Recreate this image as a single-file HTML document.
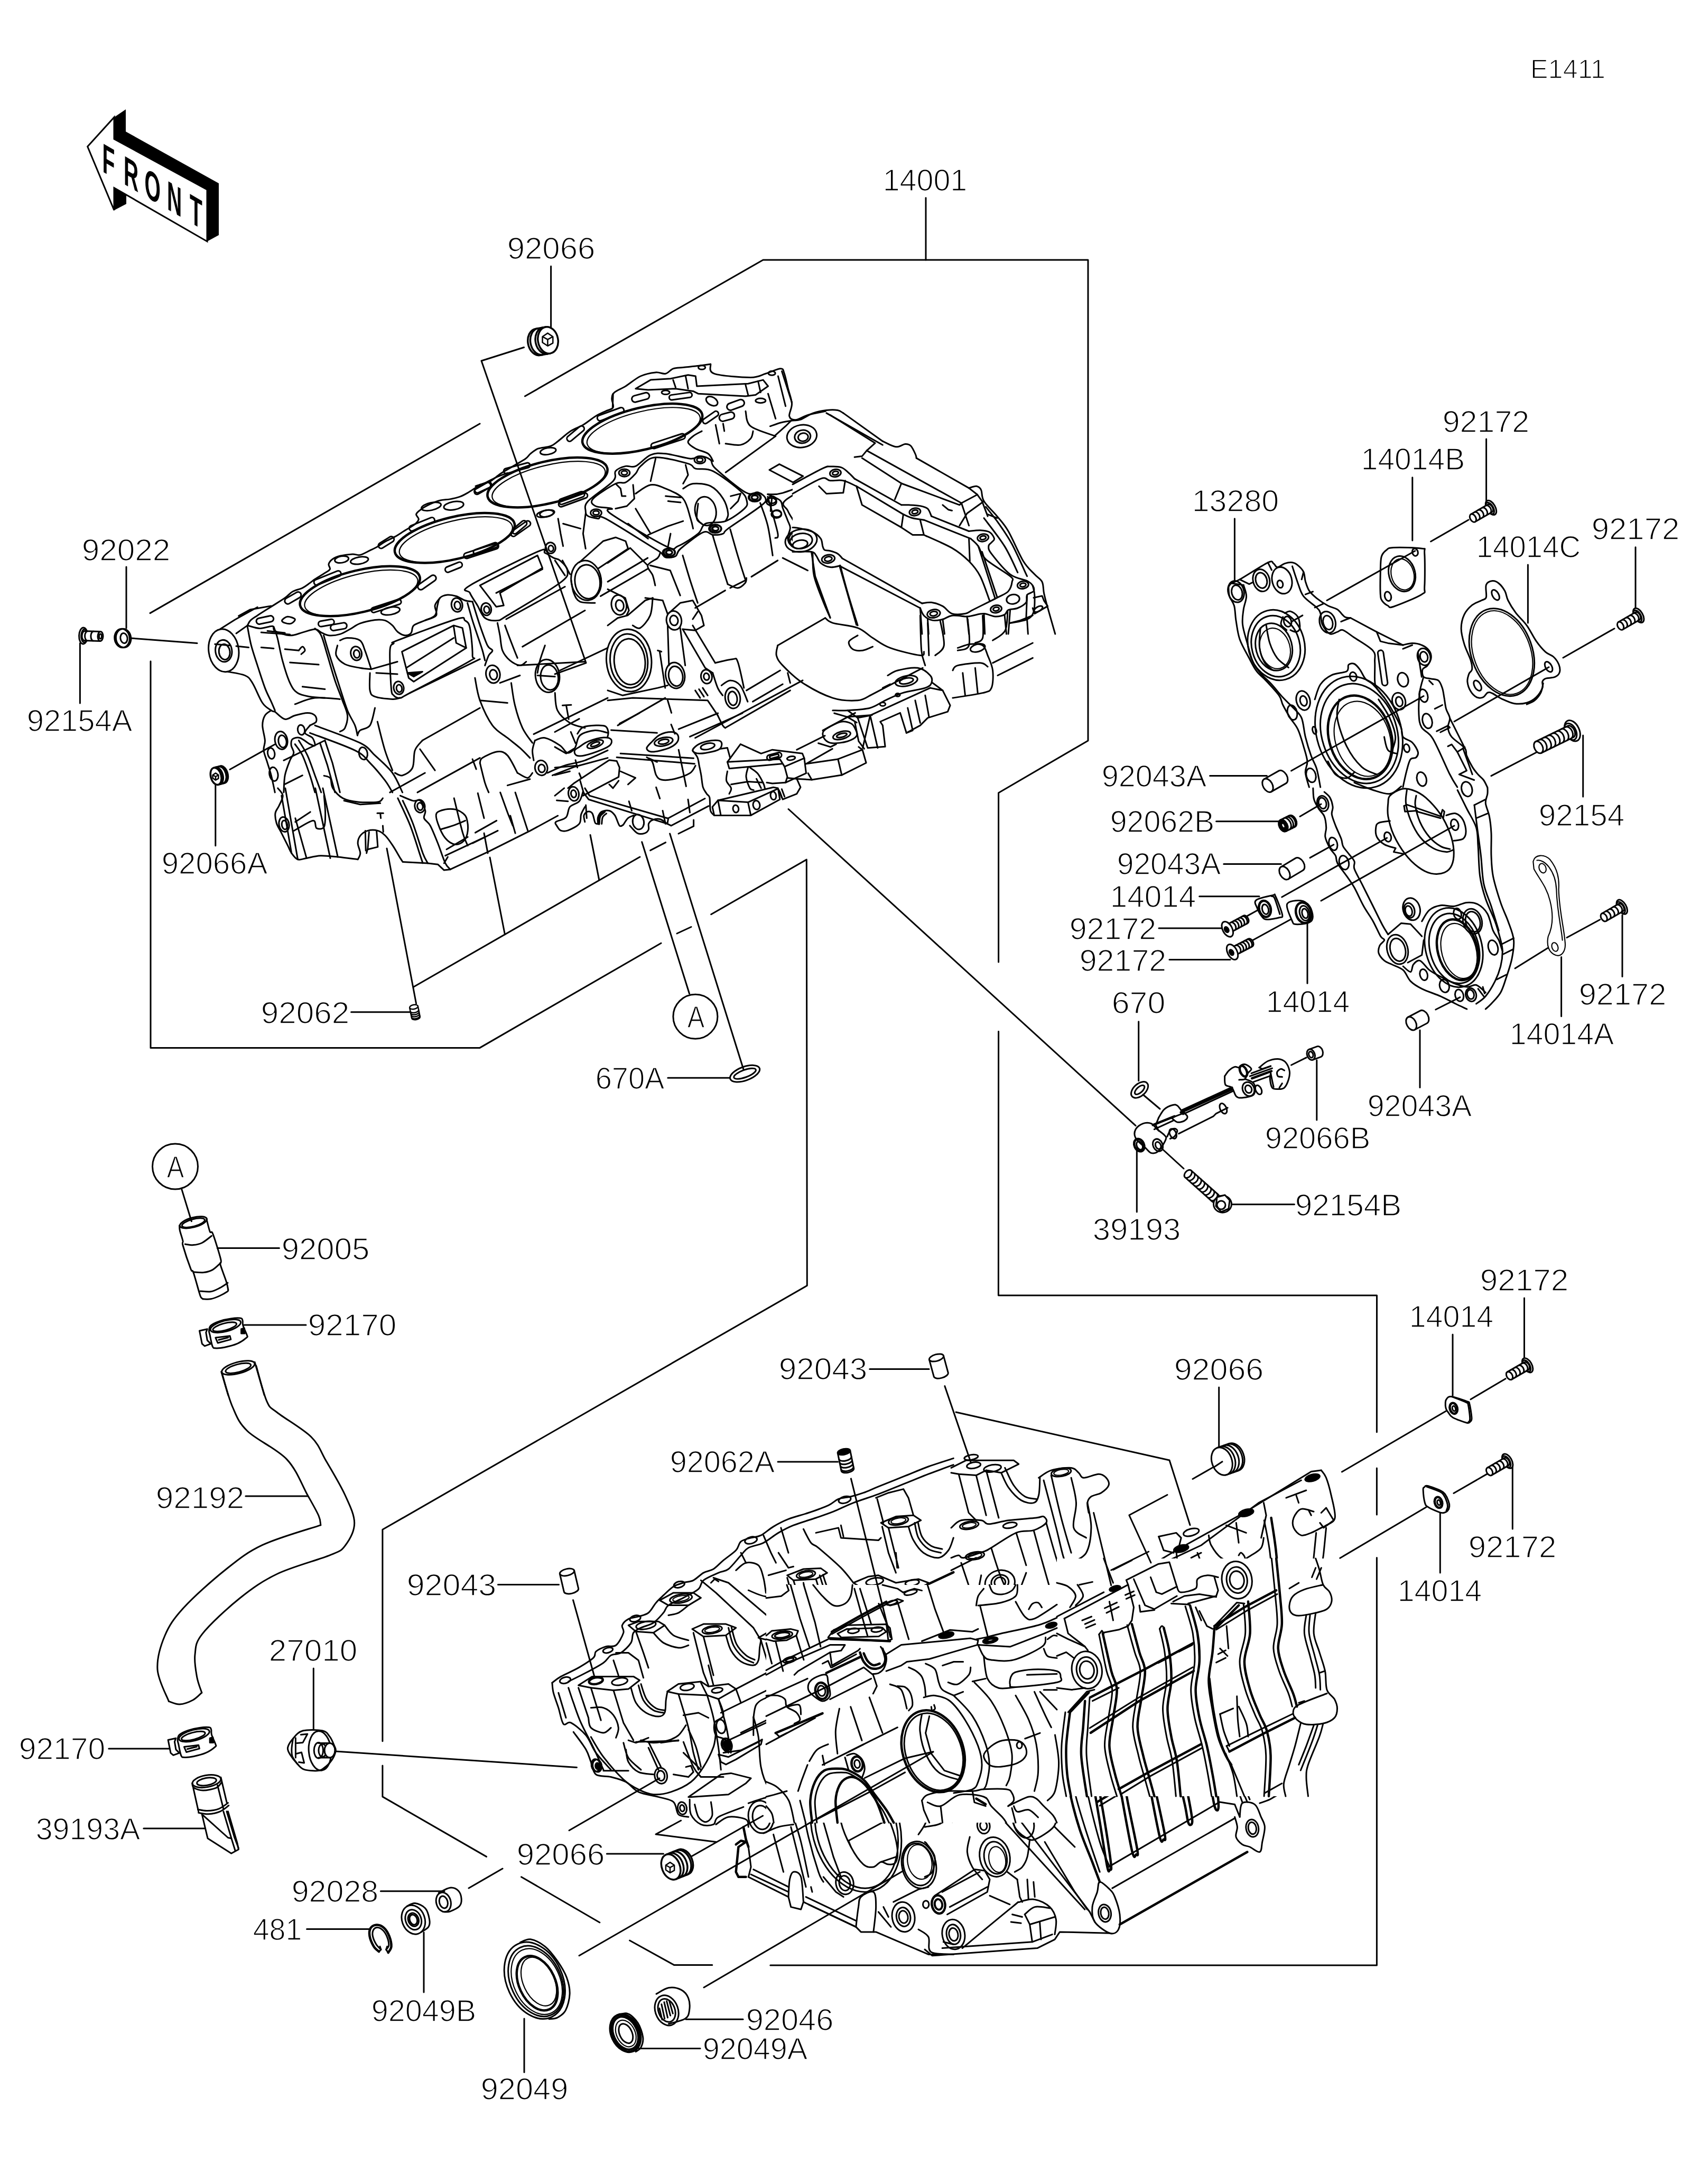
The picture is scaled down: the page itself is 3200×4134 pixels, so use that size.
<!DOCTYPE html>
<html><head><meta charset="utf-8"><title>E1411 Crankcase</title>
<style>html,body{margin:0;padding:0;background:#fff}svg{display:block}text{font-family:"Liberation Sans",sans-serif;fill:#000}.t text{stroke:#fff;stroke-width:1.6px}.l{fill:none;stroke:#000;stroke-width:3;stroke-linecap:round;stroke-linejoin:round}.w{fill:#fff}.k{fill:#000}.n{stroke-width:2.2}</style></head>
<body>
<svg width="3200" height="4134" viewBox="0 0 3200 4134">
<rect width="3200" height="4134" fill="#fff"/>
<g class="l">
<polyline points="1752,374.6 1752,492"/>
<polyline points="993.4,750 1444,492 2059,492 2059,1402 1889.6,1500.8 1889.6,1821"/>
<polyline points="908,802 284,1160.6"/>
<polyline points="1889.6,1952.5 1889.4,2452 2605.5,2452 2605.4,2710.8"/>
<polyline points="2605.4,2779 2605.4,2867"/>
<polyline points="2605.4,2948.5 2605.4,3720 1457.8,3720"/>
<polyline points="1347.8,3719.4 1275.4,3719.4 1191.6,3673"/>
<polyline points="1134.8,3639 986.5,3552.7"/>
<polyline points="920.5,3514.4 723.9,3400.9 723.9,3342"/>
<polyline points="723.9,3295.8 723.9,2895.3 1527.3,2433.4 1526.3,1627 1345.7,1730.8"/>
<polyline points="1281,1767 1308,1754.5"/>
<polyline points="1251,1785.2 908,1983.4 285,1983.4 285,1251.7"/>
<polyline points="1042.6,504 1042.6,619.7"/>
<polyline points="991.5,657.5 911,683 1109,1254.8 1050,1276"/>
<polyline points="239,1073 239,1189"/>
<polyline points="248,1208 373,1217.6"/>
<polyline points="151.4,1217.6 151.4,1331"/>
<polyline points="435,1456.5 520,1409"/>
<polyline points="407.8,1485 407.8,1600.8"/>
<polyline points="664.6,1915.8 780.5,1915.8"/>
<polyline points="787.6,1899.7 732,1606"/>
<polyline points="782.8,1868 1210.9,1622"/>
<polyline points="1230.7,1609.7 1259.6,1594.6"/>
<polyline points="1284,1578 1312.6,1563.9 1312.6,1552"/>
<polyline points="927,1623 955.4,1768.7"/>
<polyline points="1117,1580.4 1133.8,1665.6"/>
<polyline points="1214.7,1593.7 1304.5,1880.8"/>
<polyline points="1267.6,1578 1407.2,2025"/>
<polyline points="1263.9,2040.2 1379.8,2040.2"/>
<polyline points="1492,1531.5 2149,2130.7"/>
<polyline points="2812.6,831 2812.6,950"/>
<polyline points="2779,984 2707.6,1025"/>
<polyline points="2672.8,903.7 2672.8,1023"/>
<polyline points="2336.4,981.8 2336.4,1101"/>
<polyline points="2891.4,1069 2891.4,1179"/>
<polyline points="3095,1035.7 3095,1152"/>
<polyline points="3055,1189.7 2958,1245"/>
<polyline points="2931,1262.8 2752,1365.7"/>
<polyline points="2677.8,1042.8 2511,1136.5"/>
<polyline points="2464.9,1164.9 2443.6,1177"/>
<polyline points="2443.6,1459 2694,1317.5"/>
<polyline points="2289.6,1468.6 2397.4,1468.6"/>
<polyline points="2995.7,1392 2995.7,1507.9"/>
<polyline points="2910.6,1422.5 2821.9,1468.6"/>
<polyline points="2301.6,1554.7 2420,1554.7"/>
<polyline points="2460,1545.5 2500,1522"/>
<polyline points="2315.8,1635.6 2424.4,1635.6"/>
<polyline points="2479,1623.6 2523.8,1598.7"/>
<polyline points="2269.7,1696.7 2383,1696.7"/>
<polyline points="2193,1757 2312,1757"/>
<polyline points="2213,1816.6 2328,1816.6"/>
<polyline points="2370.5,1779.7 2445.7,1738.5"/>
<polyline points="2360.5,1733.6 2379.7,1723"/>
<polyline points="2474,1747.8 2474,1861.3"/>
<polyline points="2425.8,1698 2624.6,1586"/>
<polyline points="2500,1705 2752,1563"/>
<polyline points="2154.7,1933.7 2154.7,2045.8"/>
<polyline points="2954.6,1811.6 2954.6,1923.8"/>
<polyline points="3070,1732 3070,1848.5"/>
<polyline points="3027.7,1740.7 2965,1774.7"/>
<polyline points="2929.7,1794 2867,1833"/>
<polyline points="2687,1950 2687,2058.6"/>
<polyline points="2716.8,1911 2763,1887.6"/>
<polyline points="2491.8,2006.8 2491.8,2120"/>
<polyline points="2472,2001.8 2443.6,2016"/>
<polyline points="2151.3,2173 2151.3,2294"/>
<polyline points="2328.7,2279.7 2449.4,2279.7"/>
<polyline points="2197.4,2173 2240,2212"/>
<polyline points="2884.5,2457 2884.5,2572.8"/>
<polyline points="2749,2526 2749,2641.7"/>
<polyline points="2849,2609.7 2783,2648.8"/>
<polyline points="2738,2670 2539.4,2786"/>
<polyline points="2306.7,2626 2306.7,2741"/>
<polyline points="2294.5,2778 2257,2799.5"/>
<polyline points="2725.3,2860.5 2725.3,2977"/>
<polyline points="2862.3,2773 2862.3,2894"/>
<polyline points="2814.8,2789.6 2750.9,2826.5"/>
<polyline points="2699,2852.7 2535.8,2949.3"/>
<polyline points="2163,2072 2195,2099"/>
<polyline points="2209,2829.5 2136.8,2868 2178,2958"/>
<polyline points="2069.6,2863.5 2102.7,3000.7"/>
<polyline points="2102.7,2972 2173.7,2937"/>
<polyline points="343.7,2250.6 362.4,2311.8"/>
<polyline points="411.3,2362.4 528.4,2362.4"/>
<polyline points="462,2508 579,2508"/>
<polyline points="464.9,2832 582,2832"/>
<polyline points="593.3,3158 593.3,3274.5"/>
<polyline points="942.5,2999.6 1057.5,2999.6"/>
<polyline points="1084.5,3028.7 1125,3174"/>
<polyline points="205.8,3310 319.4,3310"/>
<polyline points="271.8,3461 386.8,3461"/>
<polyline points="635,3315 1091.5,3345.5"/>
<polyline points="1148.3,3509 1255.5,3509"/>
<polyline points="1077,3464.7 1248,3366"/>
<polyline points="720.4,3579.7 841,3579.7"/>
<polyline points="887,3574 951,3537"/>
<polyline points="580.6,3651.4 699,3651.4"/>
<polyline points="802,3657.8 802,3771"/>
<polyline points="992,3821 992,3922.5"/>
<polyline points="1096,3701.7 1766,3316"/>
<polyline points="1306.6,3515 1443.6,3437"/>
<polyline points="1332,3762 1709.6,3541"/>
<polyline points="1288.6,3446 1241,3472 1354.8,3486.5"/>
<polyline points="1298,3822.3 1406,3822.3"/>
<polyline points="1209.4,3877.6 1325,3877.6"/>
<polyline points="1645.8,2591.6 1758,2591.6"/>
<polyline points="1787.8,2623.6 1837.5,2769"/>
<polyline points="1809,2673 2213,2764 2252,2886.8"/>
<polyline points="1472,2767 1585.5,2767"/>
<polyline points="1610.4,2798.9 1684.9,3099"/>
</g>
<!-- 00_front.svg -->
<g id="front-arrow">
<polygon class="k" points="216,222 238,207 238,249 414,347 414,445 392,457 392,359 216,263"/>
<polygon class="k" points="216,355.5 239,369 239,386 216,398"/>
<polygon points="165.6,277.4 216,222 216,263 392,359 392,457 216,355.5 216,398" fill="#fff" stroke="#000" stroke-width="3" stroke-linejoin="miter"/>
<text transform="matrix(0.5,0.29,0,1,196,326)" x="-5 76 155 240 326" y="0" font-size="78" font-weight="bold" style="stroke:none">FRONT</text>
</g>

<!-- 10_upA.svg -->
<g class="l" id="10_upA">
<path d="M468.3,1183.9 C469.2,1182.3 470.8,1177.5 474,1174.4 C477.1,1171.2 480.7,1169.3 487.2,1164.9 C493.7,1160.6 504.5,1153.9 513.2,1148.4 C521.9,1142.9 532.5,1136.5 539.2,1131.8 C545.9,1127.1 547.9,1123.1 553.4,1120 C558.9,1116.8 566.8,1115.7 572.4,1112.9 C577.9,1110.1 582.6,1106.2 586.5,1103.4 C590.5,1100.7 591.3,1099.5 596,1096.3 C600.7,1093.2 610.2,1087.7 614.9,1084.5 C619.7,1081.4 623.2,1080.2 624.4,1077.4 C625.6,1074.7 621.2,1071.1 622,1067.9 C622.8,1064.8 625.6,1061.1 629.1,1058.5 C632.7,1055.9 637,1053.9 643.3,1052.3 C649.6,1050.8 660.7,1049.3 667,1049 C673.3,1048.7 675.6,1051.6 681.2,1050.4 C686.7,1049.3 694.6,1044.5 700.1,1041.9 C705.6,1039.3 709.6,1037.6 714.3,1034.8 C719,1032.1 723,1028.5 728.5,1025.4 C734,1022.2 741.1,1019.5 747.4,1015.9 C753.7,1012.4 760,1008 766.3,1004.1 C772.6,1000.1 780.9,995.8 785.2,992.3 C789.6,988.7 791.9,985.9 792.3,982.8 C792.7,979.6 786.8,976.5 787.6,973.3 C788.4,970.2 792.7,967 797.1,963.9 C801.4,960.7 807.7,957.2 813.6,954.4 C819.5,951.6 826.2,948.9 832.6,947.3 C838.9,945.7 845.2,946.1 851.5,944.9 C857.8,943.8 864.9,942.2 870.4,940.2 C875.9,938.2 879.1,936.3 884.6,933.1 C890.1,930 897.2,924.8 903.5,921.3 C909.8,917.7 916.1,915 922.4,911.8 C928.8,908.7 935.1,905.1 941.4,902.4 C947.7,899.6 957.1,896.5 960.3,895.3"/>
<path d="M468.3,1183.9 C472.2,1184.8 484,1189.3 491.9,1189.5 C499.8,1189.8 510.9,1184.5 515.6,1185.3 C520.3,1186.1 514.8,1191.3 520.3,1194.3 C525.8,1197.2 540,1202.3 548.7,1202.8 C557.4,1203.3 564.5,1199.1 572.4,1197.1 C580.2,1195.1 590.1,1191 596,1191 C601.9,1191 603.5,1195.1 607.8,1197.1 C612.2,1199.1 616.1,1202.2 622,1202.8 C627.9,1203.3 636.6,1202.4 643.3,1200.4 C650,1198.4 655.9,1194.3 662.2,1191 C668.5,1187.6 673.3,1183 681.2,1180.1 C689,1177.2 701.7,1174.4 709.6,1173.4 C717.4,1172.5 723,1172.7 728.5,1174.4 C734,1176.1 738.7,1180.3 742.7,1183.9 C746.6,1187.4 748.2,1192.5 752.1,1195.7 C756.1,1198.8 762,1202.4 766.3,1202.8 C770.7,1203.2 775.4,1201.2 778.1,1198 C780.9,1194.9 778.5,1187.8 782.9,1183.9 C787.2,1179.9 797.5,1177.5 804.2,1174.4 C810.9,1171.2 819.2,1169.7 823.1,1164.9 C827,1160.2 826.2,1151.5 827.8,1146 C829.4,1140.5 829.4,1135.1 832.6,1131.8 C835.7,1128.5 841.6,1126.7 846.7,1126.1 C851.9,1125.6 857.8,1126.8 863.3,1128.5 C868.8,1130.2 874.7,1134.8 879.9,1136.5 C885,1138.3 891.7,1138.5 894.1,1138.9"/>
<ellipse cx="681.2" cy="1119" rx="116.4" ry="39.7" transform="rotate(-13.5 681.2 1119)" stroke-width="4.5"/>
<ellipse cx="683.5" cy="1122.4" rx="109.8" ry="36" transform="rotate(-13.5 683.5 1122.4)" class="n"/>
<ellipse cx="860.5" cy="1018.3" rx="116.4" ry="39.7" transform="rotate(-13.5 860.5 1018.3)" stroke-width="4.5"/>
<ellipse cx="862.8" cy="1021.6" rx="109.8" ry="36" transform="rotate(-13.5 862.8 1021.6)" class="n"/>
<ellipse cx="1036" cy="913.2" rx="116.4" ry="39.7" transform="rotate(-13.5 1036 913.2)" stroke-width="4.5"/>
<ellipse cx="1038.4" cy="916.6" rx="109.8" ry="36" transform="rotate(-13.5 1038.4 916.6)" class="n"/>
<rect x="484.8" y="1167.8" width="33.1" height="11.4" rx="5.7" transform="rotate(-12 501.4 1173.4)"/>
<path d="M533.6,1174.4 C534.3,1172.4 539.9,1167.7 544,1167.3 C548.1,1166.9 557,1169.9 558.2,1172 C559.3,1174.2 554.2,1178.9 551.1,1180.1 C547.9,1181.3 542.2,1180.1 539.2,1179.1 C536.3,1178.2 532.8,1176.4 533.6,1174.4Z"/>
<rect x="537.3" y="1126.1" width="34.1" height="11.4" rx="5.7" transform="rotate(-30 554.4 1131.8)"/>
<rect x="602.2" y="1173.9" width="30.3" height="10.4" rx="5.2" transform="rotate(-10 617.3 1179.1)"/>
<rect x="625.3" y="1180.5" width="31.2" height="11.4" rx="5.7" transform="rotate(-10 641 1186.2)"/>
<rect x="592.5" y="1088.8" width="54.4" height="10.4" rx="5.2" transform="rotate(-22 619.7 1094)"/>
<ellipse cx="646.6" cy="1059" rx="13.2" ry="6.2" transform="rotate(-10 646.6 1059)"/>
<ellipse cx="680.2" cy="1060.9" rx="17" ry="6.6" transform="rotate(-10 680.2 1060.9)"/>
<rect x="714.3" y="1021.6" width="33.1" height="10.4" rx="5.2" transform="rotate(-32 730.8 1026.8)"/>
<rect x="772.9" y="987" width="51.1" height="10.4" rx="5.2" transform="rotate(-22 798.5 992.3)"/>
<ellipse cx="816" cy="958.7" rx="18.9" ry="7.1" transform="rotate(-12 816 958.7)"/>
<ellipse cx="858.6" cy="957.2" rx="18.9" ry="7.6" transform="rotate(-10 858.6 957.2)"/>
<rect x="895.9" y="919.4" width="34.1" height="10.4" rx="5.2" transform="rotate(-30 913 924.6)"/>
<ellipse cx="738.9" cy="1156.4" rx="18" ry="7.1" transform="rotate(-10 738.9 1156.4)"/>
<rect x="701.3" y="1142.2" width="59.1" height="9.5" rx="4.7" transform="rotate(-18 730.8 1147)"/>
<rect x="788.1" y="1096.8" width="39.7" height="11.4" rx="5.7" transform="rotate(-35 808 1102.5)"/>
<rect x="841.5" y="1068.4" width="34.1" height="10.4" rx="5.2" transform="rotate(-22 858.6 1073.6)"/>
<rect x="876.3" y="1037.7" width="68.6" height="10.4" rx="5.2" transform="rotate(-18 910.6 1042.9)"/>
<rect x="966.4" y="992.7" width="33.1" height="10.4" rx="5.2" transform="rotate(-40 983 997.9)"/>
<ellipse cx="1034.6" cy="971.9" rx="13.2" ry="6.2" transform="rotate(-10 1034.6 971.9)"/>
<rect x="1056.3" y="937.4" width="51.1" height="10.4" rx="5.2" transform="rotate(-20 1081.9 942.6)"/>
<ellipse cx="423.3" cy="1231.2" rx="28.4" ry="40.7" transform="rotate(-8 423.3 1231.2)"/>
<ellipse cx="423.3" cy="1232.1" rx="15.6" ry="20.8" transform="rotate(-8 423.3 1232.1)"/>
<ellipse cx="424.7" cy="1234" rx="10.4" ry="14.7" transform="rotate(-8 424.7 1234)"/>
<polyline points="416.2,1191 444.6,1173 487.2,1149.3"/>
<polyline points="451.7,1165.9 473,1154.1 513.2,1147"/>
<polyline points="447,1199 468.3,1183.9"/>
<path d="M430.4,1271.4 C435.9,1272.6 455.7,1274.9 463.5,1278.5 C471.4,1282 472.2,1284 477.7,1292.7 C483.3,1301.3 490.7,1321.8 496.7,1330.5 C502.6,1339.2 509.3,1341.9 513.2,1344.7 C517.2,1347.5 519.1,1346.7 520.3,1347.1"/>
<polyline points="406.8,1219.3 435.2,1221.7"/>
<polyline points="447,1223.1 470.6,1225.5"/>
<path d="M468.3,1186.2 C469.5,1192.1 472.2,1209.5 475.4,1221.7 C478.5,1233.9 482.9,1246.1 487.2,1259.6 C491.5,1273 497.1,1290.7 501.4,1302.1 C505.7,1313.6 510.1,1321.1 513.2,1328.1 C516.4,1335.2 519.1,1341.9 520.3,1344.7"/>
<path d="M517.9,1186.2 C519.1,1189.8 522.3,1196.9 525,1207.5 C527.8,1218.2 530.6,1235.9 534.5,1250.1 C538.4,1264.3 544,1282.4 548.7,1292.7 C553.4,1302.9 556.6,1307.3 562.9,1311.6 C569.2,1315.9 577.9,1317.1 586.5,1318.7 C595.2,1320.3 610.2,1320.7 614.9,1321.1"/>
<path d="M596,1189.5 C598,1191.7 603.9,1194.3 607.8,1202.8 C611.8,1211.3 615.3,1226.4 619.7,1240.6 C624,1254.8 629.1,1273.7 633.9,1287.9 C638.6,1302.1 644.1,1314.7 648,1325.8 C652,1336.8 656.7,1345.5 657.5,1354.2 C658.3,1362.8 655.1,1372.7 652.8,1377.8 C650.4,1382.9 644.9,1383.7 643.3,1384.9"/>
<path d="M612.6,1202.8 C614.9,1210.7 621.6,1233.5 626.8,1250.1 C631.9,1266.6 638.2,1286.4 643.3,1302.1 C648.4,1317.9 652.8,1332.9 657.5,1344.7 C662.2,1356.5 668.5,1365.2 671.7,1373.1 C674.9,1381 675.6,1388.9 676.4,1392"/>
<polyline points="494.3,1197.1 548.7,1200.9"/>
<polyline points="506.1,1194.3 539.2,1198"/>
<polyline points="494.3,1225.5 517.9,1227.4"/>
<polyline points="539.2,1228.8 565.3,1231.2"/>
<path d="M565.3,1231.2 C566.4,1230 570.4,1224.1 572.4,1224.1 C574.3,1224.1 577.5,1228.8 577.1,1231.2 C576.7,1233.5 571.2,1237.1 570,1238.3"/>
<polyline points="548.7,1253.9 603.1,1258.1"/>
<polyline points="572.4,1299.8 614.9,1304.5"/>
<path d="M558.2,1332.9 C564.5,1330.9 581.8,1322.6 596,1321.1 C610.2,1319.5 635.4,1323 643.3,1323.4"/>
<path d="M513.2,1344.7 C511.2,1346.3 504.1,1349.4 501.4,1354.2 C498.6,1358.9 496.7,1365.2 496.7,1373.1 C496.7,1381 501,1393.6 501.4,1401.5 C501.8,1409.4 498.2,1413.3 499,1420.4 C499.8,1427.5 503.8,1436.2 506.1,1444.1 C508.5,1451.9 510.9,1458.4 513.2,1467.7 C515.6,1477 519.1,1494.5 520.3,1499.9"/>
<path d="M520.3,1347.1 C523.5,1349.4 532.9,1360.1 539.2,1361.3 C545.5,1362.4 551.1,1356.1 558.2,1354.2 C565.3,1352.2 575.5,1349.4 581.8,1349.4 C588.1,1349.4 593.2,1351.4 596,1354.2 C598.8,1356.9 600,1362.8 598.4,1366 C596.8,1369.2 588.5,1371.9 586.5,1373.1"/>
<path d="M586.5,1373.1 C585,1375.5 576.3,1383.3 577.1,1387.3 C577.9,1391.2 588.1,1392.8 591.3,1396.7 C594.4,1400.7 596.8,1409 596,1410.9 C595.2,1412.9 591.3,1410.9 586.5,1408.6 C581.8,1406.2 573.1,1398.3 567.6,1396.7 C562.1,1395.2 556.2,1396.7 553.4,1399.1 C550.7,1401.5 550.7,1406.6 551.1,1410.9 C551.5,1415.3 556.2,1420.4 555.8,1425.1 C555.4,1429.9 551.5,1432.2 548.7,1439.3 C545.9,1446.4 541.2,1457.6 539.2,1467.7 C537.3,1477.8 537.3,1494.5 536.9,1499.9"/>
<ellipse cx="532.1" cy="1401.5" rx="11.8" ry="17" transform="rotate(-10 532.1 1401.5)"/>
<ellipse cx="534.5" cy="1403.4" rx="7.6" ry="11.8" transform="rotate(-10 534.5 1403.4)"/>
<ellipse cx="570" cy="1381.6" rx="6.6" ry="9.5" transform="rotate(-10 570 1381.6)"/>
<ellipse cx="513.2" cy="1426.1" rx="6.6" ry="10.4" transform="rotate(-10 513.2 1426.1)"/>
<ellipse cx="517.9" cy="1465.3" rx="8" ry="13.2" transform="rotate(-10 517.9 1465.3)"/>
<ellipse cx="687.3" cy="1426.1" rx="8" ry="11.8" transform="rotate(-10 687.3 1426.1)"/>
<path d="M596,1373.1 C610.2,1378.6 662.2,1396.7 681.2,1406.2 C700.1,1415.7 699.3,1420.4 709.6,1429.9 C719.8,1439.3 734,1451.3 742.7,1463 C751.3,1474.7 758.4,1493.7 761.6,1499.9"/>
<path d="M586.5,1387.3 C600.7,1392.8 652.8,1410.9 671.7,1420.4 C690.6,1429.9 690.6,1434.6 700.1,1444.1 C709.6,1453.5 721.4,1467.9 728.5,1477.2 C735.6,1486.5 740.3,1496.1 742.7,1499.9"/>
<path d="M558.2,1408.6 C560.5,1412.1 567.6,1420 572.4,1429.9 C577.1,1439.7 582.6,1456 586.5,1467.7 C590.5,1479.4 594.4,1494.5 596,1499.9"/>
<path d="M565.3,1401.5 C568,1406.2 576.7,1418.8 581.8,1429.9 C586.9,1440.9 591.7,1456 596,1467.7 C600.3,1479.4 605.9,1494.5 607.8,1499.9"/>
<polyline points="536.9,1439.3 614.9,1401.5"/>
<polyline points="539.2,1484.3 572.4,1467.7"/>
<polyline points="614.9,1401.5 629.1,1444.1 643.3,1499.9"/>
<polyline points="605.5,1406.2 619.7,1448.8 633.9,1499.9"/>
<path d="M752.1,1212.2 C771.8,1204.6 842,1178.3 863.3,1172 C884.6,1165.7 875.5,1171.6 879.9,1174.4 C884.2,1177.2 887,1177.5 889.3,1188.6 C891.7,1199.6 894.5,1230 894.1,1240.6 C893.7,1251.3 906.7,1240.6 887,1252.5 C867.2,1264.3 797.5,1300.2 775.8,1311.6 C754.1,1323 762,1320.3 756.9,1321.1 C751.7,1321.8 747.8,1319.5 745,1316.3 C742.3,1313.2 741.5,1316.3 740.3,1302.1 C739.1,1287.9 737.1,1245.2 737.9,1231.2 C738.7,1217.1 742.7,1221.1 745,1217.9 C747.4,1214.8 732.4,1219.9 752.1,1212.2Z"/>
<polygon points="760.6,1233.5 858.6,1183.9 875.1,1188.6 882.2,1226.4 782.9,1290.3 773.4,1283.2"/>
<polyline points="768.7,1264.3 858.6,1207.5"/>
<polyline points="858.6,1186.2 863.3,1217 882.2,1226.4"/>
<polygon points="771.1,1273.7 799.4,1271.4 782.9,1280.8" fill="#000"/>
<ellipse cx="674.1" cy="1236.8" rx="10.4" ry="13.2" transform="rotate(-10 674.1 1236.8)"/>
<ellipse cx="675" cy="1237.8" rx="5.7" ry="7.6" transform="rotate(-10 675 1237.8)"/>
<ellipse cx="754.5" cy="1302.1" rx="9.5" ry="12.3" transform="rotate(-10 754.5 1302.1)"/>
<ellipse cx="755.4" cy="1303.1" rx="5.2" ry="7.1" transform="rotate(-10 755.4 1303.1)"/>
<path d="M643.3,1212.2 C645.7,1211.5 651.2,1207.5 657.5,1207.5 C663.8,1207.5 675.6,1208.3 681.2,1212.2 C686.7,1216.2 687.1,1222.1 690.6,1231.2 C694.2,1240.2 700.5,1260.7 702.5,1266.6"/>
<path d="M638.6,1221.7 C638.2,1224.9 633.9,1234.7 636.2,1240.6 C638.6,1246.5 645.3,1253.2 652.8,1257.2 C660.3,1261.1 672.9,1262.7 681.2,1264.3 C689.4,1265.9 698.9,1266.3 702.5,1266.6"/>
<polyline points="702.5,1266.6 752.1,1252.5"/>
<path d="M700.1,1273.7 C700.1,1279.3 698.5,1299.4 700.1,1306.9 C701.7,1314.4 702.5,1315.9 709.6,1318.7 C716.6,1321.4 734.8,1323 742.7,1323.4 C750.6,1323.8 754.5,1321.4 756.9,1321.1"/>
<polyline points="711.9,1273.7 752.1,1276.1"/>
<polyline points="775.8,1311.6 908.2,1247.7"/>
<path d="M889.3,1108.2 C910.6,1095.2 993.4,1054.5 1017.1,1044.3 C1040.7,1034 1026.1,1044.7 1031.3,1046.7 C1036.4,1048.6 1043.1,1053.8 1047.8,1056.1 C1052.5,1058.5 1055.3,1056.9 1059.6,1060.9 C1064,1064.8 1073.8,1072.7 1073.8,1079.8 C1073.8,1086.9 1078.6,1089.2 1059.6,1103.4 C1040.7,1117.6 980,1153.1 960.3,1164.9 C940.6,1176.8 948.5,1173.6 941.4,1174.4 C934.3,1175.2 924,1174.4 917.7,1169.7 C911.4,1164.9 908.2,1153.9 903.5,1146 C898.8,1138.1 891.7,1128.7 889.3,1122.4 C887,1116 868,1121.2 889.3,1108.2Z"/>
<polygon points="908.2,1108.2 1017.1,1051.4 1026.5,1075 946.1,1122.4 953.2,1146 939,1148.4"/>
<polyline points="939,1122.4 1026.5,1077.4"/>
<polyline points="957.9,1172 1069.1,1110.5"/>
<ellipse cx="864.7" cy="1145.1" rx="10.4" ry="13.2" transform="rotate(-10 864.7 1145.1)"/>
<ellipse cx="865.7" cy="1146" rx="5.7" ry="7.6" transform="rotate(-10 865.7 1146)"/>
<ellipse cx="920.1" cy="1153.1" rx="9.5" ry="11.8" transform="rotate(-10 920.1 1153.1)"/>
<ellipse cx="921" cy="1154.1" rx="5.2" ry="6.6" transform="rotate(-10 921 1154.1)"/>
<ellipse cx="1041.7" cy="1037.2" rx="9.5" ry="10.4" transform="rotate(-10 1041.7 1037.2)"/>
<ellipse cx="1042.6" cy="1038.1" rx="4.7" ry="5.7" transform="rotate(-10 1042.6 1038.1)"/>
<ellipse cx="932.9" cy="1276.1" rx="13.2" ry="17" transform="rotate(-10 932.9 1276.1)"/>
<ellipse cx="933.8" cy="1277.1" rx="7.1" ry="9.5" transform="rotate(-10 933.8 1277.1)"/>
<path d="M832.6,1131.8 C831,1134.2 824.3,1140.5 823.1,1146 C821.9,1151.5 828.6,1160.2 825.5,1164.9 C822.3,1169.7 807.7,1172.8 804.2,1174.4"/>
<path d="M884.6,1141.3 C886.2,1146.8 890.9,1164.1 894.1,1174.4 C897.2,1184.6 900.4,1193.3 903.5,1202.8 C906.7,1212.2 910.6,1223.3 913,1231.2 C915.3,1239 916.9,1246.9 917.7,1250.1"/>
<path d="M894.1,1138.9 C896.4,1146.4 903.5,1170.1 908.2,1183.9 C913,1197.7 918.5,1213.8 922.4,1221.7 C926.4,1229.6 931.5,1228 931.9,1231.2 C932.3,1234.3 927.2,1235.9 924.8,1240.6 C922.4,1245.4 918.9,1256.4 917.7,1259.6"/>
<path d="M941.4,1179.1 C942.2,1183.1 944.5,1194.1 946.1,1202.8 C947.7,1211.5 947.7,1223.3 950.8,1231.2 C954,1239 959.5,1245.4 965,1250.1 C970.5,1254.8 978.8,1259.2 983.9,1259.6 C989.1,1259.9 993.8,1253.6 995.8,1252.5"/>
<path d="M955.6,1183.9 C957.9,1190.2 965.8,1211.5 969.8,1221.7 C973.7,1232 977.6,1241.4 979.2,1245.4"/>
<polyline points="946.1,1292.7 983.9,1278.5"/>
<ellipse cx="1109.3" cy="1098.7" rx="28.4" ry="37.8" transform="rotate(-8 1109.3 1098.7)"/>
<ellipse cx="1111.7" cy="1101.1" rx="23.7" ry="32.2" transform="rotate(-8 1111.7 1101.1)"/>
<path d="M1080.9,1098.7 C1081.7,1102.6 1082.9,1115.7 1085.7,1122.4 C1088.4,1129.1 1090.8,1135.8 1097.5,1138.9 C1104.2,1142.1 1121.1,1140.9 1125.9,1141.3"/>
<polyline points="1050.2,1060.9 1069.1,1089.2"/>
<polyline points="1064.4,1060.9 1078.6,1086.9"/>
<ellipse cx="1036" cy="1279.4" rx="22.7" ry="31.2" transform="rotate(-8 1036 1279.4)"/>
<ellipse cx="1039.8" cy="1282.3" rx="16.6" ry="23.7" transform="rotate(-8 1039.8 1282.3)"/>
<polyline points="1017.1,1278.5 1050.2,1280.8"/>
<polyline points="988.7,1224.1 1106.9,1155.5"/>
<polyline points="979.2,1259.6 1106.9,1252.5"/>
<polyline points="1010,1389.7 1150,1321.1"/>
<polyline points="1059.6,1269 1150,1226.4"/>
<polyline points="790,1499.9 908.2,1434.6"/>
<path d="M709.6,1340 C708,1345.5 704.8,1366 700.1,1373.1 C695.4,1380.2 685.1,1379.4 681.2,1382.6 C677.2,1385.7 677.2,1390.4 676.4,1392"/>
<path d="M714.3,1366 C716.6,1375.1 723.7,1405 728.5,1420.4 C733.2,1435.8 740.3,1451.9 742.7,1458.2"/>
<path d="M747.4,1463 C749.8,1463.8 756.1,1469.3 761.6,1467.7 C767.1,1466.1 776.6,1461.4 780.5,1453.5 C784.5,1445.6 782.1,1429.1 785.2,1420.4 C788.4,1411.7 797.1,1404.6 799.4,1401.5"/>
<polyline points="799.4,1401.5 908.2,1340"/>
<polyline points="794.7,1418 823.1,1458.2"/>
<path d="M908.2,1444.1 C909,1442.5 907.5,1438.1 913,1434.6 C918.5,1431 933.5,1423.6 941.4,1422.8 C949.3,1422 954,1423.2 960.3,1429.9 C966.6,1436.6 976.1,1457.5 979.2,1463"/>
<polyline points="894.1,1437 901.2,1455.9"/>
<path d="M898.8,1283.2 C900.4,1290.3 902.7,1310.8 908.2,1325.8 C913.8,1340.8 923.2,1361.3 931.9,1373.1 C940.6,1384.9 951.6,1389.7 960.3,1396.7 C969,1403.8 976.8,1409.4 983.9,1415.7 C991,1422 999.7,1431.4 1002.9,1434.6"/>
<path d="M967.4,1292.7 C968.6,1299.8 970.9,1321.1 974.5,1335.2 C978,1349.4 983.2,1366 988.7,1377.8 C994.2,1389.7 1004.4,1401.5 1007.6,1406.2"/>
<polyline points="908.2,1325.8 960.3,1330.5"/>
<path d="M1031.3,1221.7 C1029.7,1226.4 1024.2,1241.4 1021.8,1250.1 C1019.4,1258.8 1017.8,1269.8 1017.1,1273.7"/>
<path d="M1050.2,1311.6 C1051,1317.1 1050.2,1335.2 1054.9,1344.7 C1059.6,1354.2 1069.9,1362.8 1078.6,1368.4 C1087.2,1373.9 1102.2,1376.2 1106.9,1377.8"/>
<polyline points="1064.4,1335.2 1080.9,1334.3"/>
<polyline points="1071.5,1335.2 1076.2,1361.3"/>
<ellipse cx="1024.2" cy="1453.5" rx="11.8" ry="14.2" transform="rotate(-10 1024.2 1453.5)"/>
<ellipse cx="1025.1" cy="1454.5" rx="6.2" ry="7.6" transform="rotate(-10 1025.1 1454.5)"/>
<path d="M1012.3,1401.5 C1015.5,1400.7 1023.4,1395.2 1031.3,1396.7 C1039.1,1398.3 1052.5,1406.2 1059.6,1410.9 C1066.7,1415.7 1069.1,1424.3 1073.8,1425.1 C1078.6,1425.9 1084.1,1421.2 1088,1415.7 C1092,1410.2 1091.2,1397.5 1097.5,1392 C1103.8,1386.5 1117.1,1383.3 1125.9,1382.6 C1134.6,1381.8 1146,1386.5 1150,1387.3"/>
<path d="M1012.3,1401.5 C1011.5,1404.6 1008,1414.1 1007.6,1420.4 C1007.2,1426.7 1009.6,1436.2 1010,1439.3"/>
<path d="M1036,1463 C1041.5,1460.6 1057.3,1452.7 1069.1,1448.8 C1080.9,1444.8 1093.5,1444.1 1106.9,1439.3 C1120.4,1434.6 1142.8,1423.6 1150,1420.4"/>
<polyline points="1045.4,1467.7 1088,1451.2 1150,1434.6"/>
<path d="M908.2,1444.1 C909.8,1450.4 915,1472.6 917.7,1481.9 C920.5,1491.2 923.6,1496.9 924.8,1499.9"/>
<path d="M979.2,1463 C982.4,1464.6 993.4,1472.4 998.1,1472.4 C1002.9,1472.4 1006,1464.6 1007.6,1463"/>
<polyline points="960.3,1486.6 1002.9,1474.8"/>
<polyline points="737.9,1499.9 804.2,1463"/>
</g>
<!-- 11_upB.svg -->
<g class="l" id="11_upB">
<path d="M1249.3,1046.7 C1248.6,1048.2 1248.6,1052.2 1244.6,1056.1 C1240.7,1060.1 1227.3,1064.8 1225.7,1070.3 C1224.1,1075.8 1232.8,1082.9 1235.2,1089.2 C1237.5,1095.5 1239.1,1105 1239.9,1108.2"/>
<path d="M1291.9,1051.4 C1294.3,1059.3 1301.4,1083.7 1306.1,1098.7 C1310.9,1113.7 1317.9,1134.2 1320.3,1141.3"/>
<path d="M1348.7,1013.5 C1351.1,1021.4 1358.2,1045.5 1362.9,1060.9 C1367.6,1076.2 1374.7,1098.3 1377.1,1105.8"/>
<path d="M1381.8,1001.7 C1384.2,1010 1391.3,1035.6 1396,1051.4 C1400.7,1067.2 1407.8,1088.8 1410.2,1096.3"/>
<path d="M1438.6,952 C1441,959.1 1448.8,978.1 1452.8,994.6 C1456.7,1011.2 1460.7,1041.9 1462.2,1051.4"/>
<path d="M1452.8,940.2 C1455.9,951.6 1469.3,995.8 1471.7,1008.8 C1474.1,1021.8 1467.8,1016.7 1467,1018.3"/>
<polyline points="1315.6,1150.7 1372.4,1117.6"/>
<polyline points="1381.8,1112.9 1410.2,1098.7"/>
<polyline points="1422,1091.6 1471.7,1060.9"/>
<polyline points="1150,1065.6 1192.6,1037.2 1225.7,1070.3"/>
<polyline points="1150,1101.1 1225.7,1056.1"/>
<path d="M1377.1,1105.8 C1380.2,1107 1390.5,1113.3 1396,1112.9 C1401.5,1112.5 1407.4,1106.6 1410.2,1103.4 C1413,1100.3 1412.2,1095.5 1412.6,1094"/>
<polyline points="1230.4,1070.3 1268.3,1079.8 1287.2,1127.1"/>
<ellipse cx="1171.3" cy="1145.1" rx="14.2" ry="18.9" transform="rotate(-10 1171.3 1145.1)"/>
<ellipse cx="1172.7" cy="1146" rx="7.6" ry="10.4" transform="rotate(-10 1172.7 1146)"/>
<polyline points="1150,1115.3 1164.2,1122.4 1183.1,1131.8 1190.2,1155.5 1185.5,1164.9"/>
<polyline points="1150,1183.9 1168.9,1169.7 1187.8,1164.9 1221,1136.5 1235.2,1131.8"/>
<path d="M1235.2,1131.8 C1234.4,1137.3 1234.4,1155.5 1230.4,1164.9 C1226.5,1174.4 1217,1185.4 1211.5,1188.6 C1206,1191.7 1199.7,1184.6 1197.3,1183.9"/>
<ellipse cx="1275.4" cy="1174.4" rx="14.2" ry="18" transform="rotate(-10 1275.4 1174.4)"/>
<ellipse cx="1275.4" cy="1174.4" rx="7.6" ry="9.5" transform="rotate(-10 1275.4 1174.4)"/>
<ellipse cx="1277.7" cy="1278.5" rx="18" ry="24.6" transform="rotate(-10 1277.7 1278.5)"/>
<ellipse cx="1278.7" cy="1279.9" rx="13.2" ry="18.9" transform="rotate(-10 1278.7 1279.9)"/>
<polyline points="1263.5,1183.9 1265.9,1259.6"/>
<polyline points="1287.2,1188.6 1296.7,1259.6"/>
<polyline points="1263.5,1162.6 1287.2,1141.3 1310.9,1136.5 1327.4,1164.9 1332.1,1183.9 1315.6,1193.3 1291.9,1191"/>
<polyline points="1291.9,1191 1334.5,1264.3 1348.7,1273.7"/>
<polyline points="1310.9,1183.9 1353.4,1254.8"/>
<polyline points="1310.9,1172 1320.3,1157.8"/>
<ellipse cx="1336.9" cy="1280.8" rx="10.4" ry="13.2" transform="rotate(-10 1336.9 1280.8)"/>
<ellipse cx="1336.9" cy="1280.8" rx="5.2" ry="6.6" transform="rotate(-10 1336.9 1280.8)"/>
<ellipse cx="1386.5" cy="1321.1" rx="14.2" ry="19.9" transform="rotate(-8 1386.5 1321.1)"/>
<ellipse cx="1386.5" cy="1322" rx="8.5" ry="13.2" transform="rotate(-8 1386.5 1322)"/>
<ellipse cx="1190.2" cy="1250.1" rx="42.6" ry="59.1" transform="rotate(-5 1190.2 1250.1)"/>
<ellipse cx="1190.2" cy="1251" rx="35.5" ry="51.1" transform="rotate(-5 1190.2 1251)"/>
<ellipse cx="1191.6" cy="1252.5" rx="29.3" ry="43.5" transform="rotate(-5 1191.6 1252.5)"/>
<path d="M1353.4,1254.8 C1358.9,1253.6 1379.5,1248.1 1386.5,1247.7 C1393.6,1247.3 1392.5,1243.4 1396,1252.5 C1399.6,1261.5 1405.9,1293.8 1407.8,1302.1"/>
<path d="M1348.7,1273.7 C1350.3,1278.5 1355,1295 1358.2,1302.1 C1361.3,1309.2 1366,1314 1367.6,1316.3"/>
<path d="M1365.3,1297.4 C1368,1295.8 1375.9,1287.9 1381.8,1287.9 C1387.7,1287.9 1395.2,1290.7 1400.7,1297.4 C1406.3,1304.1 1412.6,1323 1414.9,1328.1"/>
<polyline points="1315.6,1306.9 1325,1321.1"/>
<polyline points="1322.7,1304.5 1332.1,1318.7"/>
<polyline points="1329.8,1302.1 1339.2,1316.3"/>
<polyline points="1221,1131.8 1254.1,1136.5 1263.5,1162.6"/>
<polyline points="1244.6,1231.2 1251.7,1233.5"/>
<polyline points="1248.4,1233.5 1258.8,1302.1"/>
<polyline points="1150,1306.9 1178.4,1316.3 1244.6,1302.1 1263.5,1297.4"/>
<polyline points="1150,1325.8 1197.3,1321.1 1339.2,1325.8 1358.2,1354.2"/>
<path d="M1358.2,1354.2 C1359.7,1357.3 1365.3,1369.2 1367.6,1373.1 C1370,1377 1371.6,1377 1372.4,1377.8"/>
<polyline points="1263.5,1325.8 1270.6,1349.4"/>
<polyline points="1471.7,1221.7 1561.6,1169.7"/>
<path d="M1471.7,1221.7 C1471.3,1224.9 1467.8,1234.3 1469.3,1240.6 C1470.9,1246.9 1472.9,1250.9 1481.2,1259.6 C1489.4,1268.2 1503.2,1282.4 1519,1292.7 C1534.8,1302.9 1558.4,1315.5 1575.8,1321.1 C1593.1,1326.6 1611.3,1326.6 1623.1,1325.8 C1634.9,1325 1642.8,1317.9 1646.7,1316.3"/>
<polyline points="1646.7,1316.3 1746.1,1264.3"/>
<path d="M1561.6,1169.7 C1564,1171.2 1565.5,1176 1575.8,1179.1 C1586,1182.3 1610.5,1183.9 1623.1,1188.6 C1635.7,1193.3 1641.2,1201.2 1651.5,1207.5 C1661.7,1213.8 1669.6,1220.9 1684.6,1226.4 C1699.6,1232 1730.7,1239.4 1741.4,1240.6 C1752,1241.8 1747.3,1234.7 1748.5,1233.5"/>
<path d="M1651.5,1224.1 C1648.3,1225.3 1638.9,1230.4 1632.6,1231.2 C1626.2,1232 1618,1231.6 1613.6,1228.8 C1609.3,1226 1605,1218.9 1606.5,1214.6 C1608.1,1210.3 1620.3,1204.8 1623.1,1202.8"/>
<path d="M1537.9,1046.7 C1538.3,1053.8 1537.1,1074.3 1540.3,1089.2 C1543.5,1104.2 1551.7,1123.1 1556.9,1136.5 C1562,1150 1568.7,1164.1 1571.1,1169.7"/>
<path d="M1590,1070.3 C1592.3,1079 1598.6,1103.4 1604.2,1122.4 C1609.7,1141.3 1619.9,1173.6 1623.1,1183.9"/>
<polyline points="1481.2,1056.1 1528.5,1079.8"/>
<polyline points="1490.6,1273.7 1495.4,1292.7"/>
<path d="M1741.4,1164.9 C1741.8,1176 1742.2,1215.4 1743.7,1231.2 C1745.3,1246.9 1749.6,1254.8 1750.8,1259.6"/>
<polyline points="1755.6,1179.1 1757.9,1240.6"/>
<path d="M1779.2,1174.4 C1780.4,1182.3 1787.9,1210.7 1786.3,1221.7 C1784.7,1232.7 1772.5,1237.5 1769.8,1240.6"/>
<path d="M1831.3,1172 C1831.6,1180.3 1836.8,1211.8 1833.6,1221.7 C1830.5,1231.6 1815.9,1229.6 1812.3,1231.2"/>
<path d="M1859.6,1164.9 C1859.6,1172 1862,1198.8 1859.6,1207.5 C1857.3,1216.2 1847.8,1215.4 1845.4,1217"/>
<path d="M1906.9,1155.5 C1906.2,1161.8 1906.9,1183.9 1902.2,1193.3 C1897.5,1202.8 1882.5,1209.1 1878.6,1212.2"/>
<polyline points="1954.3,1164.9 1930.6,1174.4 1911.7,1179.1"/>
<path d="M1812.3,1226.4 C1816.3,1225.3 1828.1,1220.1 1836,1219.3 C1843.9,1218.5 1854.1,1218.2 1859.6,1221.7 C1865.2,1225.3 1865.9,1232.7 1869.1,1240.6 C1872.3,1248.5 1877.4,1258.8 1878.6,1269 C1879.7,1279.3 1879.4,1295 1876.2,1302.1 C1873,1309.2 1871.9,1308.4 1859.6,1311.6 C1847.4,1314.7 1812.3,1319.5 1802.9,1321.1"/>
<path d="M1802.9,1269 C1804.4,1267.4 1803.7,1261.9 1812.3,1259.6 C1821,1257.2 1845.4,1254.4 1854.9,1254.8 C1864.4,1255.2 1866.7,1260.7 1869.1,1261.9"/>
<polyline points="1821.8,1273.7 1826.5,1316.3"/>
<polyline points="1845.4,1264.3 1850.2,1311.6"/>
<ellipse cx="1850.2" cy="1226.4" rx="14.2" ry="7.1" transform="rotate(-15 1850.2 1226.4)"/>
<polyline points="1878.6,1254.8 1954.3,1217"/>
<polyline points="1888,1278.5 1954.3,1245.4"/>
<path d="M1679.9,1278.5 C1683,1276.9 1689.3,1271.4 1698.8,1269 C1708.2,1266.6 1726.4,1262.7 1736.6,1264.3 C1746.9,1265.9 1756,1273.7 1760.3,1278.5 C1764.6,1283.2 1764.2,1288.7 1762.7,1292.7 C1761.1,1296.6 1759.9,1299 1750.8,1302.1 C1741.8,1305.3 1720.9,1307.6 1708.2,1311.6 C1695.6,1315.5 1685.4,1321.1 1675.1,1325.8 C1664.9,1330.5 1658.6,1336.8 1646.7,1340 C1634.9,1343.1 1616,1343.9 1604.2,1344.7 C1592.3,1345.5 1580.5,1344.7 1575.8,1344.7"/>
<ellipse cx="1715.3" cy="1288.9" rx="21.3" ry="9.5" transform="rotate(-12 1715.3 1288.9)"/>
<ellipse cx="1715.3" cy="1288.9" rx="13.2" ry="5.2" transform="rotate(-12 1715.3 1288.9)"/>
<ellipse cx="1698.8" cy="1315.4" rx="4.3" ry="2.8"/>
<ellipse cx="1670.4" cy="1332.9" rx="5.2" ry="3.3"/>
<polyline points="1604.2,1344.7 1623.1,1358.9 1646.7,1354.2 1708.2,1325.8 1760.3,1302.1"/>
<polyline points="1646.7,1354.2 1660.9,1415.7"/>
<polyline points="1623.1,1358.9 1642,1415.7 1675.1,1413.3 1670.4,1373.1 1665.7,1366 1703.5,1349.4 1715.3,1387.3 1727.2,1382.6 1717.7,1340"/>
<polyline points="1715.3,1387.3 1741.4,1373.1 1755.6,1358.9 1793.4,1347.1 1798.1,1335.2 1783.9,1306.9 1760.3,1302.1"/>
<polyline points="1731.9,1325.8 1741.4,1368.4"/>
<polyline points="1750.8,1316.3 1757.9,1356.5"/>
<polyline points="1765,1292.7 1783.9,1306.9"/>
<polyline points="1670.4,1302.1 1684.6,1295"/>
<polyline points="1168.9,1373.1 1258.8,1321.1"/>
<polyline points="1412.6,1306.9 1476.4,1269"/>
<polyline points="1424.4,1328.1 1481.2,1295"/>
<polyline points="1372.4,1377.8 1495.4,1306.9"/>
<polyline points="1315.6,1396.7 1519,1287.9"/>
<polyline points="1556.9,1382.6 1618.4,1349.4"/>
<polyline points="1632.6,1415.7 1646.7,1354.2"/>
</g>
<!-- 11b_upBframe.svg -->
<clipPath id="cp_11b_upBframe"><path clip-rule="evenodd" d="M0,0H3200V4134H0Z M1500,750H2100V1200H1500Z"/></clipPath>
<g class="l" id="11b_upBframe" clip-path="url(#cp_11b_upBframe)">
<path d="M1452.8,935.5 C1457.5,935.1 1464.6,937.8 1481.2,933.1 C1497.7,928.4 1538.7,911.8 1552.1,907.1 C1565.5,902.4 1554.5,904.3 1561.6,904.7 C1568.7,905.1 1570.3,900.8 1594.7,909.5 C1619.2,918.1 1687,950.1 1708.2,956.8 C1729.5,963.5 1716.9,950.5 1722.4,949.7 C1728,948.9 1735.8,949.3 1741.4,952 C1746.9,954.8 1751.6,962.3 1755.6,966.2 C1759.5,970.2 1750,969 1765,975.7 C1780,982.4 1828.9,1002.1 1845.4,1006.4 C1862,1010.8 1858.5,1000.9 1864.4,1001.7 C1870.3,1002.5 1878.6,1006.8 1880.9,1011.2 C1883.3,1015.5 1880.1,1023.4 1878.6,1027.7 C1877,1032.1 1869.9,1031.7 1871.5,1037.2 C1873,1042.7 1880.5,1052.2 1888,1060.9 C1895.5,1069.5 1909.3,1083.3 1916.4,1089.2 C1923.5,1095.2 1924.3,1094.8 1930.6,1096.3 C1936.9,1097.9 1950.3,1098.3 1954.3,1098.7"/>
<path d="M1954.3,1136.5 C1950.3,1138.1 1938.5,1143.6 1930.6,1146 C1922.7,1148.4 1912.5,1148 1906.9,1150.7 C1901.4,1153.5 1902.2,1159.8 1897.5,1162.6 C1892.8,1165.3 1884.9,1167.3 1878.6,1167.3 C1872.3,1167.3 1867.5,1162.2 1859.6,1162.6 C1851.8,1163 1843.1,1167.7 1831.3,1169.7 C1819.4,1171.6 1798.1,1174 1788.7,1174.4 C1779.2,1174.8 1780,1171.2 1774.5,1172 C1769,1172.8 1761.1,1180.3 1755.6,1179.1 C1750,1177.9 1744.5,1168.9 1741.4,1164.9 C1738.2,1161 1761.1,1171.2 1736.6,1155.5 C1712.2,1139.7 1620.3,1086.1 1594.7,1070.3 C1569.1,1054.5 1587.6,1063.2 1582.9,1060.9 C1578.1,1058.5 1571.4,1059.3 1566.3,1056.1 C1561.2,1053 1556.1,1045.1 1552.1,1041.9 C1548.2,1038.8 1548.2,1038 1542.7,1037.2 C1537.1,1036.4 1526.5,1038 1519,1037.2 C1511.5,1036.4 1502.5,1035.6 1497.7,1032.5 C1493,1029.3 1491,1023.8 1490.6,1018.3 C1490.2,1012.8 1495.4,1004.9 1495.4,999.3 C1495.4,993.8 1493,991.5 1490.6,985.2 C1488.3,978.8 1483.5,967.8 1481.2,961.5 C1478.8,955.2 1481.2,951.6 1476.4,947.3 C1471.7,943 1456.7,937.5 1452.8,935.5"/>
<path d="M1485.9,947.3 C1496.1,938.6 1534,918.5 1552.1,914.2 C1570.3,909.9 1567.9,911.8 1594.7,921.3 C1621.5,930.8 1690.1,961.1 1713,971 C1735.8,980.8 1724,977.7 1731.9,980.4 C1739.8,983.2 1742.2,981.2 1760.3,987.5 C1778.4,993.8 1824.9,1010.8 1840.7,1018.3 C1856.5,1025.8 1850.2,1026.2 1854.9,1032.5 C1859.6,1038.8 1859.6,1045.9 1869.1,1056.1 C1878.6,1066.4 1905.4,1082.9 1911.7,1094 C1918,1105 1910.9,1115.3 1906.9,1122.4 C1903,1129.5 1894.3,1131.8 1888,1136.5 C1881.7,1141.3 1876.2,1146.8 1869.1,1150.7 C1862,1154.7 1858.9,1157.8 1845.4,1160.2 C1832,1162.6 1802.1,1166.1 1788.7,1164.9 C1775.3,1163.7 1772.1,1155.5 1765,1153.1 C1757.9,1150.7 1773.7,1166.1 1746.1,1150.7 C1718.5,1135.4 1625.5,1078.2 1599.4,1060.9 C1573.4,1043.5 1595.5,1050.6 1590,1046.7 C1584.5,1042.7 1571.8,1040.7 1566.3,1037.2 C1560.8,1033.6 1559.2,1029.3 1556.9,1025.4 C1554.5,1021.4 1555.3,1017.5 1552.1,1013.5 C1549,1009.6 1545,1004.9 1537.9,1001.7 C1530.8,998.6 1515.9,997.8 1509.6,994.6 C1503.2,991.5 1503.2,987.5 1500.1,982.8 C1496.9,978.1 1493,972.1 1490.6,966.2 C1488.3,960.3 1475.6,956 1485.9,947.3Z"/>
<ellipse cx="1428.2" cy="941.6" rx="11.8" ry="8"/>
<ellipse cx="1428.2" cy="941.6" rx="6.2" ry="4.3"/>
<ellipse cx="1353.4" cy="1000.8" rx="11.8" ry="8"/>
<ellipse cx="1353.4" cy="1000.8" rx="6.2" ry="4.3"/>
<ellipse cx="1265.9" cy="1045.7" rx="11.8" ry="8"/>
<ellipse cx="1265.9" cy="1045.7" rx="6.2" ry="4.3"/>
<ellipse cx="1459.9" cy="949.7" rx="9.5" ry="7.1"/>
<ellipse cx="1469.3" cy="973.3" rx="9.5" ry="7.1"/>
<ellipse cx="1731" cy="968.6" rx="11.8" ry="8"/>
<ellipse cx="1731" cy="968.6" rx="6.2" ry="4.3"/>
<ellipse cx="1859.6" cy="1017.3" rx="11.8" ry="8"/>
<ellipse cx="1859.6" cy="1017.3" rx="6.2" ry="4.3"/>
<ellipse cx="1935.3" cy="1106.7" rx="11.8" ry="8"/>
<ellipse cx="1935.3" cy="1106.7" rx="6.2" ry="4.3"/>
<ellipse cx="1916.4" cy="1132.8" rx="11.8" ry="8"/>
<ellipse cx="1884.7" cy="1154.1" rx="11.8" ry="8"/>
<ellipse cx="1884.7" cy="1154.1" rx="6.2" ry="4.3"/>
<ellipse cx="1767.4" cy="1161.1" rx="12.8" ry="8.5"/>
<ellipse cx="1767.4" cy="1161.1" rx="6.6" ry="4.7"/>
<ellipse cx="1566.3" cy="1057.5" rx="12.8" ry="8.5"/>
<ellipse cx="1566.3" cy="1057.5" rx="6.6" ry="4.7"/>
<ellipse cx="1516.6" cy="1020.6" rx="23.7" ry="16.6"/>
<ellipse cx="1516.6" cy="1018.3" rx="18" ry="11.4"/>
<ellipse cx="1516.6" cy="1024" rx="13.2" ry="6.6"/>
</g>
<!-- 12_upC.svg -->
<g class="l" id="12_upC">
<ellipse cx="1215.6" cy="811.4" rx="116.4" ry="39.7" transform="rotate(-13.5 1215.6 811.4)" stroke-width="4.5"/>
<ellipse cx="1217.9" cy="814.7" rx="109.8" ry="36" transform="rotate(-13.5 1217.9 814.7)" class="n"/>
<path d="M900,920.2 C902.4,919.4 909.5,917 914.2,915.5 C918.9,913.9 922.9,913.9 928.4,910.7 C933.9,907.6 940.2,901.3 947.3,896.5 C954.4,891.8 963.1,887.1 971,882.4 C978.8,877.6 989.1,872.1 994.6,868.2 C1000.1,864.2 1000.1,861.9 1004.1,858.7 C1008,855.5 1012,851.6 1018.3,849.2 C1024.6,846.9 1035.6,846.9 1041.9,844.5 C1048.2,842.1 1049.8,839.8 1056.1,835 C1062.4,830.3 1071.9,821.2 1079.8,816.1 C1087.7,811 1095.5,809 1103.4,804.3 C1111.3,799.6 1120,792.1 1127.1,787.7 C1134.2,783.4 1140.5,781 1146,778.3 C1151.5,775.5 1158.2,775.1 1160.2,771.2 C1162.2,767.2 1157.4,759.3 1157.8,754.6 C1158.2,749.9 1158.2,746.7 1162.6,742.8 C1166.9,738.8 1175.6,736.1 1183.9,731 C1192.1,725.8 1202.8,716.4 1212.2,712 C1221.7,707.7 1232.7,705.7 1240.6,704.9 C1248.5,704.2 1254,708.5 1259.6,707.3 C1265.1,706.1 1268.2,699.8 1273.7,697.8 C1279.3,695.9 1285.6,696.3 1292.7,695.5 C1299.8,694.7 1307.6,694.1 1316.3,693.1 C1325,692.1 1340,690 1344.7,689.3"/>
<path d="M1344.7,689.3 C1345.9,692.3 1339.2,703.1 1351.8,707.3 C1364.4,711.5 1404.2,714.4 1420.4,714.4 C1436.6,714.4 1439.3,710.1 1448.8,707.3 C1458.2,704.5 1471.3,697.8 1477.2,697.8 C1483.1,697.8 1481.9,701 1484.3,707.3 C1486.6,713.6 1489,726.2 1491.4,735.7 C1493.7,745.2 1498.1,755.4 1498.5,764.1 C1498.9,772.8 1492.5,782.6 1493.7,787.7 C1494.9,792.9 1499.6,795.2 1505.6,794.8 C1511.5,794.4 1519.8,788.1 1529.2,785.4 C1538.7,782.6 1556.8,779.5 1562.3,778.3"/>
<polygon points="1202.8,735.7 1231.2,719.1 1269,716.8 1302.1,709.7 1316.3,712 1318.7,731 1415.7,726.2 1444.1,719.1 1453.5,731 1429.9,747.5 1410.9,749.9 1321.1,745.2 1311.6,740.4 1278.5,735.7 1226.4,738.1"/>
<polyline points="1273.7,719.1 1278.5,733.3"/>
<polyline points="1297.4,712 1302.1,735.7"/>
<polyline points="1410.9,728.6 1415.7,747.5"/>
<polyline points="1434.6,721.5 1439.3,742.8"/>
<ellipse cx="1328.1" cy="695.5" rx="6.6" ry="3.8"/>
<ellipse cx="1460.6" cy="706.4" rx="6.6" ry="3.8"/>
<rect x="1195.2" y="746.1" width="34.1" height="12.3" rx="6.2" transform="rotate(-15 1212.2 752.3)"/>
<ellipse cx="1259.6" cy="742.8" rx="7.6" ry="3.8"/>
<rect x="1266.2" y="745.2" width="43.5" height="9.5" rx="4.7" transform="rotate(-8 1287.9 749.9)"/>
<ellipse cx="1347.1" cy="759.3" rx="11.8" ry="7.6" transform="rotate(30 1347.1 759.3)"/>
<rect x="1375" y="759.8" width="34.1" height="13.2" rx="6.6" transform="rotate(-20 1392 766.4)"/>
<ellipse cx="1439.3" cy="758.4" rx="9.5" ry="4.3"/>
<rect x="1360.8" y="782.1" width="29.3" height="13.2" rx="6.6" transform="rotate(-15 1375.5 788.7)"/>
<rect x="1327.7" y="785.4" width="34.1" height="9.5" rx="4.7" transform="rotate(-35 1344.7 790.1)"/>
<rect x="1129" y="778.7" width="53" height="10.4" rx="5.2" transform="rotate(-20 1155.5 784)"/>
<rect x="1069.4" y="815.6" width="39.7" height="10.4" rx="5.2" transform="rotate(-40 1089.2 820.9)"/>
<ellipse cx="1037.2" cy="854" rx="15.1" ry="6.2" transform="rotate(-10 1037.2 854)"/>
<rect x="952.5" y="881.4" width="51.1" height="9.5" rx="4.7" transform="rotate(-15 978.1 886.1)"/>
<rect x="897.2" y="917.4" width="34.1" height="10.4" rx="5.2" transform="rotate(-25 914.2 922.6)"/>
<rect x="1230.7" y="829.8" width="67.2" height="10.4" rx="5.2" transform="rotate(-18 1264.3 835)"/>
<rect x="1055.6" y="941.5" width="57.7" height="9.5" rx="4.7" transform="rotate(-20 1084.5 946.2)"/>
<ellipse cx="1032.5" cy="972.2" rx="17" ry="6.2" transform="rotate(-12 1032.5 972.2)"/>
<rect x="963.4" y="995.4" width="43.5" height="10.4" rx="5.2" transform="rotate(-35 985.2 1000.6)"/>
<rect x="894.8" y="1033.7" width="48.3" height="9.5" rx="4.7" transform="rotate(-20 918.9 1038.5)"/>
<path d="M1328.1,816.1 C1325.4,817.7 1315.9,822 1311.6,825.6 C1307.3,829.1 1301.3,833.5 1302.1,837.4 C1302.9,841.4 1310,845.7 1316.3,849.2 C1322.6,852.8 1334.5,854.8 1340,858.7 C1345.5,862.6 1347.9,870.5 1349.4,872.9"/>
<polyline points="1160.2,745.2 1159.3,771.2"/>
<polyline points="1472.4,712 1486.6,768.8"/>
<polyline points="1479.5,702.6 1498.5,761.7"/>
<polyline points="1453.5,745.2 1467.7,792.5"/>
<polyline points="1354.2,804.3 1361.3,839.8"/>
<polyline points="1368.4,801.9 1370.7,816.1"/>
<path d="M1410.9,778.3 C1412.5,783 1410.9,798.8 1420.4,806.7 C1429.9,814.5 1459.8,822.4 1467.7,825.6"/>
<polyline points="1467.7,825.6 1373.1,894.2"/>
<path d="M1373.1,839.8 C1377.8,840.2 1393.6,843.7 1401.5,842.1 C1409.4,840.6 1416.5,834.7 1420.4,830.3 C1424.3,826 1424.3,818.5 1425.1,816.1"/>
<polyline points="1465.3,825.6 1486.6,806.7 1496.1,797.2"/>
<ellipse cx="1517.4" cy="825.6" rx="28.4" ry="21.3" transform="rotate(-10 1517.4 825.6)"/>
<ellipse cx="1518.8" cy="826.5" rx="15.1" ry="12.3" transform="rotate(-10 1518.8 826.5)"/>
<ellipse cx="1519.8" cy="827.5" rx="9.5" ry="7.6" transform="rotate(-10 1519.8 827.5)"/>
<polygon points="1455.9,889.5 1474.8,878.6 1519.8,901.3 1500.8,913.1"/>
<path d="M1108.2,967.5 C1108.2,962.8 1104.2,958 1112.9,948.6 C1121.6,939.1 1151.5,920.2 1160.2,910.7 C1168.9,901.3 1161,896.5 1164.9,891.8 C1168.9,887.1 1177.5,883.9 1183.9,882.4 C1190.2,880.8 1194.9,885.9 1202.8,882.4 C1210.7,878.8 1221.7,865 1231.2,861.1 C1240.6,857.1 1246.9,857.5 1259.6,858.7 C1272.2,859.9 1295.8,867.4 1306.9,868.2 C1317.9,868.9 1319.5,863 1325.8,863.4 C1332.1,863.8 1340,866.6 1344.7,870.5 C1349.4,874.5 1343.1,876.8 1354.2,887.1 C1365.2,897.3 1397.5,924.5 1410.9,932 C1424.3,939.5 1428.3,930.1 1434.6,932 C1440.9,934 1448,939.5 1448.8,943.9 C1449.6,948.2 1451.2,948.6 1439.3,958 C1427.5,967.5 1389.7,992 1377.8,1000.6 C1366,1009.3 1373.1,1008.1 1368.4,1010.1 C1363.6,1012.1 1355.7,1012.8 1349.4,1012.5 C1343.1,1012.1 1340.8,1003.4 1330.5,1007.7 C1320.3,1012.1 1296.6,1031 1287.9,1038.5 C1279.3,1046 1283.2,1049.9 1278.5,1052.7 C1273.7,1055.4 1264.3,1056.2 1259.6,1055 C1254.8,1053.8 1254.8,1049.1 1250.1,1045.6 C1245.4,1042 1248.5,1044.4 1231.2,1033.7 C1213.8,1023.1 1162.6,990.4 1146,981.7 C1129.5,973 1137.3,982.5 1131.8,981.7 C1126.3,980.9 1116.8,979.3 1112.9,977 C1108.9,974.6 1108.2,972.2 1108.2,967.5Z"/>
<path d="M1122.4,943.9 C1128.7,936.8 1154.7,920.6 1164.9,915.5 C1175.2,910.3 1177.5,916.3 1183.9,913.1 C1190.2,910 1198,901.7 1202.8,896.5 C1207.5,891.4 1205.9,887.5 1212.2,882.4 C1218.5,877.2 1225.6,866.6 1240.6,865.8 C1255.6,865 1289.5,874.1 1302.1,877.6 C1314.7,881.2 1308.4,884.7 1316.3,887.1 C1324.2,889.5 1335.2,884.7 1349.4,891.8 C1363.6,898.9 1390.8,920.2 1401.5,929.7 C1412.1,939.1 1412.1,943.1 1413.3,948.6 C1414.5,954.1 1415.3,956.5 1408.6,962.8 C1401.9,969.1 1385.3,981.7 1373.1,986.4 C1360.9,991.2 1343.9,987.2 1335.2,991.2 C1326.6,995.1 1329.7,1003 1321.1,1010.1 C1312.4,1017.2 1293.5,1029.8 1283.2,1033.7 C1273,1037.7 1280.8,1044 1259.6,1033.7 C1238.3,1023.5 1172.4,984.1 1155.5,972.2 C1138.5,960.4 1162.6,965.1 1157.8,962.8 C1153.1,960.4 1133,961.2 1127.1,958 C1121.2,954.9 1116,951 1122.4,943.9Z"/>
<ellipse cx="1181.5" cy="895.1" rx="10.4" ry="7.1"/>
<ellipse cx="1181.5" cy="895.1" rx="5.7" ry="3.8"/>
<ellipse cx="1324.4" cy="870.5" rx="10.4" ry="7.1"/>
<ellipse cx="1324.4" cy="870.5" rx="5.7" ry="3.8"/>
<ellipse cx="1428.4" cy="941.5" rx="10.4" ry="7.1"/>
<ellipse cx="1428.4" cy="941.5" rx="5.7" ry="3.8"/>
<ellipse cx="1354.2" cy="1000.6" rx="10.4" ry="7.1"/>
<ellipse cx="1354.2" cy="1000.6" rx="5.7" ry="3.8"/>
<ellipse cx="1266.6" cy="1045.6" rx="10.4" ry="7.1"/>
<ellipse cx="1266.6" cy="1045.6" rx="5.7" ry="3.8"/>
<ellipse cx="1128" cy="970.8" rx="10.4" ry="7.1"/>
<ellipse cx="1128" cy="970.8" rx="5.7" ry="3.8"/>
<path d="M1292.7,924.9 C1295.8,923.4 1302.9,916.3 1311.6,915.5 C1320.3,914.7 1335.2,915.5 1344.7,920.2 C1354.2,924.9 1362.8,935.2 1368.4,943.9 C1373.9,952.5 1377,965.1 1377.8,972.2 C1378.6,979.3 1373.9,984.1 1373.1,986.4"/>
<ellipse cx="1335.2" cy="967.5" rx="19.9" ry="27.4" transform="rotate(-10 1335.2 967.5)"/>
<path d="M1321.1,953.3 C1320.7,958 1317.5,975.4 1318.7,981.7 C1319.9,988 1326.6,989.6 1328.1,991.2"/>
<polyline points="1164.9,915.5 1174.4,924.9 1176.8,939.1 1183.9,939.1"/>
<polyline points="1198,917.8 1200.4,943.9 1186.2,958 1164.9,962.8"/>
<path d="M1202.8,934.4 C1207.5,931.6 1221.7,919.4 1231.2,917.8 C1240.6,916.3 1249.3,920.6 1259.6,924.9 C1269.8,929.3 1284.8,934.4 1292.7,943.9 C1300.6,953.3 1303.7,972.2 1306.9,981.7 C1310,991.2 1310.8,997.5 1311.6,1000.6"/>
<polyline points="1240.6,868.2 1231.2,910.7"/>
<polyline points="1297.4,880 1302.1,898.9 1292.7,915.5"/>
<polyline points="1259.6,939.1 1287.9,941.5"/>
<polyline points="1264.3,948.6 1287.9,951"/>
<polyline points="1202.8,962.8 1231.2,1010.1"/>
<polyline points="1188.6,991.2 1226.4,1019.6"/>
<polyline points="1226.4,1012.5 1264.3,995.9 1292.7,986.4"/>
<polyline points="1269,1010.1 1264.3,1033.7"/>
<polyline points="1382.6,939.1 1401.5,934.4 1396.7,948.6 1382.6,962.8"/>
<polyline points="1096.3,1064.5 1141.3,1024.3 1164.9,1017.2 1183.9,1024.3 1188.6,1038.5"/>
<polyline points="1136.5,1128.4 1226.4,1076.3"/>
<polyline points="1131.8,1076.3 1188.6,1038.5"/>
<polyline points="1056.1,981.7 1060.9,1010.1 1065.6,1033.7"/>
<polyline points="1108.2,972.2 1103.4,1010.1 1108.2,1038.5"/>
<polyline points="1065.6,991.2 1098.7,1000.6"/>
<polyline points="1460.6,943.9 1458.2,967.5"/>
<ellipse cx="1460.6" cy="946.2" rx="8.5" ry="6.6"/>
<ellipse cx="1470.1" cy="972.2" rx="8.5" ry="6.6"/>
</g>
<!-- 13_upD.svg -->
<g class="l" id="13_upD">
<path d="M1457.4,806.8 C1461,805.6 1471.6,801.5 1478.7,799.7 C1485.8,797.9 1494.1,797 1500,796.1 C1505.9,795.2 1507.7,796.7 1514.2,794.4 C1520.7,792 1530.8,784.9 1539,781.9 C1547.3,779 1556.2,777.5 1563.9,776.6 C1571.6,775.7 1579.8,775.7 1585.2,776.6 C1590.5,777.5 1594,781.1 1595.8,781.9"/>
<polyline points="1595.8,781.9 1670.3,835.2"/>
<path d="M1670.3,835.2 C1674.5,836.9 1688.1,844.9 1695.2,845.8 C1702.3,846.7 1708.2,840.8 1712.9,840.5 C1717.6,840.2 1720.3,840.8 1723.6,844 C1726.8,847.3 1730.7,856.2 1732.4,860 C1734.2,863.9 1733.9,865.9 1734.2,867.1"/>
<polyline points="1734.2,867.1 1833.6,923.9"/>
<path d="M1833.6,923.9 C1835.9,923.3 1843.9,919.7 1847.8,920.3 C1851.6,920.9 1854.3,922.7 1856.6,927.4 C1859,932.2 1856.9,940.4 1862,948.7 C1867,957 1879.1,967.6 1886.8,977.1 C1894.5,986.6 1899.8,991.3 1908.1,1005.5 C1916.4,1019.7 1928.2,1048.7 1936.5,1062.3 C1944.8,1075.9 1951.9,1080.6 1957.8,1087.1 C1963.7,1093.6 1969,1095.4 1972,1101.3 C1974.9,1107.2 1974,1115.5 1975.5,1122.6 C1977,1129.7 1977.3,1131 1980.8,1143.9 C1984.4,1156.8 1994.1,1190.6 1996.8,1200"/>
<polyline points="1563.9,781.9 1670.3,842.3"/>
<polyline points="1571,785.5 1656.1,838.7 1640.2,852.9 1631.3,863.6 1617.1,865.3"/>
<polyline points="1640.2,852.9 1819.4,952.3 1849.5,936.3 1833.6,923.9"/>
<polyline points="1631.3,867.1 1705.8,915 1815.8,955.8 1819.4,952.3"/>
<polyline points="1819.4,952.3 1833.6,994.9"/>
<polyline points="1705.8,915 1693.4,945.2"/>
<polyline points="1783.9,955.8 1794.5,964.7 1801.6,966.5"/>
<polyline points="1849.5,936.3 1858.4,948.7 1869.1,977.1"/>
<polyline points="1862,948.7 1830,971.8 1815.8,994.9"/>
<path d="M1862,980.7 C1868.5,989.5 1890.3,1016.7 1901,1033.9 C1911.6,1051 1921.7,1075.3 1925.8,1083.6"/>
<path d="M1865.5,959.4 C1869.6,964.7 1882.1,979.5 1890.3,991.3 C1898.6,1003.1 1906.3,1013.8 1915.2,1030.3 C1924.1,1046.9 1938.8,1080.6 1943.6,1090.7"/>
<polyline points="1869.1,973.6 1886.8,980.7"/>
<polyline points="1549.7,920.3 1563.9,934.5 1595.8,932.8 1599.4,909.7"/>
<polyline points="1620.7,920.3 1631.3,955.8 1705.8,998.4 1709.4,973.6"/>
<polyline points="1705.8,998.4 1727.1,1012.6 1748.4,1012.6 1741.3,984.2"/>
<path d="M1748.4,1012.6 C1757.3,1016.7 1787.4,1029.2 1801.6,1037.4 C1815.8,1045.7 1824.7,1053.4 1833.6,1062.3 C1842.4,1071.1 1848.4,1078.2 1854.9,1090.7 C1861.4,1103.1 1869.6,1129.1 1872.6,1136.8"/>
<polyline points="1833.6,1019.7 1835.3,1062.3"/>
<polyline points="1851.3,1033.9 1883.3,1133.3"/>
<polyline points="1858.4,1044.5 1886.8,1129.7"/>
<polyline points="1956,1131.5 1972,1127.9 1975.5,1136.8 1982.6,1147.4 1957.8,1161.6 1954.2,1151"/>
<ellipse cx="1964.9" cy="1152.8" rx="8.9" ry="4.3" transform="rotate(-30 1964.9 1152.8)"/>
<path d="M1954.2,1108.4 C1954.8,1111.4 1957.5,1117.9 1957.8,1126.2 C1958.1,1134.4 1958.4,1150.4 1956,1158.1 C1953.6,1165.8 1951,1168.7 1943.6,1172.3 C1936.2,1175.8 1917,1178.2 1911.6,1179.4"/>
<polyline points="1943.6,1126.2 1941.8,1172.3"/>
<polyline points="1911.6,1154.5 1908.1,1200"/>
<polyline points="1943.6,1172.3 1945.4,1200"/>
<path d="M1500,916.8 C1509.5,911.8 1544.9,892.2 1556.8,886.6 C1568.6,881 1565.1,883.4 1571,883.1 C1576.9,882.8 1586.3,882.8 1592.3,884.8 C1598.2,886.9 1602.3,891.9 1606.5,895.5 C1610.6,899 1615.3,904.4 1617.1,906.1"/>
<polyline points="1617.1,906.1 1705.8,955.8"/>
<path d="M1705.8,955.8 C1708.2,955.8 1714.1,955.5 1720,955.8 C1725.9,956.1 1735.4,956.4 1741.3,957.6 C1747.2,958.8 1752,959.7 1755.5,962.9 C1759,966.2 1761.4,974.7 1762.6,977.1"/>
<polyline points="1762.6,977.1 1833.6,1005.5"/>
<path d="M1833.6,1005.5 C1837.1,1005.2 1848.4,1003.4 1854.9,1003.7 C1861.4,1004 1868.2,1004.6 1872.6,1007.3 C1877,1009.9 1880.9,1016.4 1881.5,1019.7 C1882.1,1022.9 1877.9,1024.4 1876.2,1026.8 C1874.4,1029.2 1870.8,1030.3 1870.8,1033.9 C1870.8,1037.4 1869.4,1039.2 1876.2,1048.1 C1883,1057 1900.4,1078.5 1911.6,1087.1 C1922.9,1095.7 1936.5,1096 1943.6,1099.5 C1950.7,1103.1 1952.2,1105.2 1954.2,1108.4 C1956.3,1111.7 1957.8,1116.1 1956,1119.1 C1954.2,1122 1945.9,1122.6 1943.6,1126.2 C1941.2,1129.7 1944.8,1136.2 1941.8,1140.3 C1938.8,1144.5 1931.5,1148.6 1925.8,1151 C1920.2,1153.4 1912.2,1152.5 1908.1,1154.5 C1904,1156.6 1905.1,1161.3 1901,1163.4 C1896.9,1165.5 1889.8,1167.3 1883.3,1167 C1876.7,1166.7 1869.1,1161.9 1862,1161.6 C1854.9,1161.3 1846,1164.3 1840.7,1165.2 C1835.3,1166.1 1836.5,1167 1830,1167 C1823.5,1167 1809.3,1164.3 1801.6,1165.2 C1793.9,1166.1 1790.1,1170.8 1783.9,1172.3 C1777.7,1173.8 1770.3,1175.2 1764.4,1174.1 C1758.5,1172.9 1752.2,1169 1748.4,1165.2 C1744.6,1161.3 1742.5,1153.4 1741.3,1151"/>
<polyline points="1741.3,1151 1588.7,1071.1"/>
<path d="M1588.7,1071.1 C1585.8,1071.6 1576.9,1074.5 1571,1073.6 C1565.1,1072.7 1557.7,1069.5 1553.2,1065.8 C1548.8,1062.2 1547.3,1055.2 1544.4,1051.6 C1541.4,1048.1 1542.9,1045.7 1535.5,1044.5 C1528.1,1043.4 1505.9,1044.5 1500,1044.5"/>
<path d="M1500,934.5 C1508.9,929.8 1541.4,910.3 1553.2,906.1 C1565.1,902 1563.9,909.1 1571,909.7 C1578.1,910.3 1587.5,907.9 1595.8,909.7 C1604.1,911.5 1616.5,918.6 1620.7,920.3"/>
<polyline points="1620.7,920.3 1709.4,973.6"/>
<path d="M1709.4,973.6 C1712.3,974.7 1720.6,978.9 1727.1,980.7 C1733.6,982.4 1744.9,983.6 1748.4,984.2"/>
<polyline points="1748.4,984.2 1837.1,1019.7"/>
<path d="M1837.1,1019.7 C1839.5,1022.1 1846.6,1027.4 1851.3,1033.9 C1856,1040.4 1855.5,1049.3 1865.5,1058.7 C1875.6,1068.2 1903.4,1083.6 1911.6,1090.7 C1919.9,1097.8 1915.8,1096.6 1915.2,1101.3 C1914.6,1106 1912.2,1114.3 1908.1,1119.1 C1904,1123.8 1896.9,1126.2 1890.3,1129.7 C1883.8,1133.3 1877.3,1136.2 1869.1,1140.3 C1860.8,1144.5 1847.8,1151 1840.7,1154.5 C1833.6,1158.1 1833,1160.5 1826.5,1161.6 C1820,1162.8 1808.7,1164 1801.6,1161.6 C1794.5,1159.3 1790.4,1151 1783.9,1147.4 C1777.4,1143.9 1769.1,1141.2 1762.6,1140.3 C1756.1,1139.5 1747.8,1141.8 1744.9,1142.1"/>
<polyline points="1744.9,1142.1 1594,1057"/>
<path d="M1594,1057 C1592.6,1055.5 1589,1050.4 1585.2,1048.1 C1581.3,1045.7 1575.1,1043.9 1571,1042.8 C1566.8,1041.6 1562.7,1042.5 1560.3,1041 C1558,1039.5 1558,1037.4 1556.8,1033.9 C1555.6,1030.3 1556.2,1024.1 1553.2,1019.7 C1550.3,1015.3 1545.5,1010.5 1539,1007.3 C1532.5,1004 1520.7,1001.7 1514.2,1000.2 C1507.7,998.7 1502.4,998.7 1500,998.4"/>
<ellipse cx="1580.9" cy="895.5" rx="10.6" ry="7.1" transform="rotate(-10 1580.9 895.5)"/>
<ellipse cx="1580.9" cy="895.5" rx="5.7" ry="3.5" transform="rotate(-10 1580.9 895.5)"/>
<ellipse cx="1731.4" cy="968.9" rx="10.6" ry="7.1" transform="rotate(-10 1731.4 968.9)"/>
<ellipse cx="1731.4" cy="968.9" rx="5.7" ry="3.5" transform="rotate(-10 1731.4 968.9)"/>
<ellipse cx="1860.2" cy="1017.9" rx="10.6" ry="7.1" transform="rotate(-10 1860.2 1017.9)"/>
<ellipse cx="1860.2" cy="1017.9" rx="5.7" ry="3.5" transform="rotate(-10 1860.2 1017.9)"/>
<ellipse cx="1935.8" cy="1107.3" rx="10.6" ry="7.1" transform="rotate(-10 1935.8 1107.3)"/>
<ellipse cx="1935.8" cy="1107.3" rx="5.7" ry="3.5" transform="rotate(-10 1935.8 1107.3)"/>
<ellipse cx="1917" cy="1134.3" rx="12.4" ry="8.9" transform="rotate(-10 1917 1134.3)"/>
<ellipse cx="1885" cy="1152.8" rx="10.6" ry="7.1" transform="rotate(-10 1885 1152.8)"/>
<ellipse cx="1885" cy="1152.8" rx="5.7" ry="3.5" transform="rotate(-10 1885 1152.8)"/>
<ellipse cx="1766.9" cy="1161.6" rx="12.4" ry="7.8" transform="rotate(-10 1766.9 1161.6)"/>
<ellipse cx="1766.9" cy="1161.6" rx="7.1" ry="4.3" transform="rotate(-10 1766.9 1161.6)"/>
<ellipse cx="1567.4" cy="1058" rx="12.4" ry="7.8" transform="rotate(-10 1567.4 1058)"/>
<ellipse cx="1567.4" cy="1058" rx="7.1" ry="4.3" transform="rotate(-10 1567.4 1058)"/>
<ellipse cx="1516" cy="1023.2" rx="30.2" ry="21.3" transform="rotate(-10 1516 1023.2)"/>
<ellipse cx="1516" cy="1024" rx="21.3" ry="14.2" transform="rotate(-10 1516 1024)"/>
<ellipse cx="1514.2" cy="1030.3" rx="14.2" ry="7.8" transform="rotate(-10 1514.2 1030.3)"/>
<polyline points="1741.3,1151 1744.9,1200"/>
<polyline points="1755.5,1172.3 1757.3,1200"/>
<polyline points="1783.9,1172.3 1787.4,1200"/>
<polyline points="1830,1167 1833.6,1200"/>
<polyline points="1862,1161.6 1863.7,1200"/>
<polyline points="1901,1163.4 1904.5,1200"/>
<polyline points="1588.7,1071.1 1620.7,1182.9"/>
<polyline points="1535.5,1044.5 1542.6,1090.7 1571,1168.7"/>
</g>
<!-- 14_upE.svg -->
<g class="l" id="14_upE">
<path d="M525.7,1491.9 C527.3,1494.3 534.8,1500.6 535.2,1506.1 C535.6,1511.6 530.4,1519.5 528.1,1525 C525.7,1530.6 521.8,1533.7 521,1539.2 C520.2,1544.8 521.4,1551.9 523.3,1558.2 C525.3,1564.5 529.2,1570 532.8,1577.1 C536.3,1584.2 541.5,1594.4 544.6,1600.7 C547.8,1607 548.6,1610.6 551.7,1614.9 C554.9,1619.3 558.8,1625.2 563.5,1626.8 C568.3,1628.3 573,1625.6 580.1,1624.4 C587.2,1623.2 596.3,1620.1 606.1,1619.7 C616,1619.3 627.4,1620.8 639.2,1622 C651.1,1623.2 670.8,1626 677.1,1626.8"/>
<path d="M677.1,1626.8 C677.9,1624.8 681.8,1620.1 681.8,1614.9 C681.8,1609.8 677.1,1601.5 677.1,1596 C677.1,1590.5 678.7,1585.8 681.8,1581.8 C685,1577.9 690.5,1573.9 696,1572.4 C701.5,1570.8 709.4,1570.8 714.9,1572.4 C720.5,1573.9 724.4,1577.1 729.1,1581.8 C733.9,1586.5 738.6,1593.6 743.3,1600.7 C748,1607.8 754.4,1619.3 757.5,1624.4 C760.7,1629.5 761.5,1630.3 762.2,1631.5"/>
<polyline points="762.2,1631.5 809.6,1633.9 828.5,1636.2 840.3,1647.1 852.1,1645.7"/>
<ellipse cx="537.5" cy="1560.5" rx="9.5" ry="14.2" transform="rotate(-10 537.5 1560.5)"/>
<ellipse cx="538.5" cy="1561.5" rx="5.2" ry="8.5" transform="rotate(-10 538.5 1561.5)"/>
<polyline points="551.7,1614.9 532.8,1506.1"/>
<polyline points="563.5,1626.8 539.9,1491.9"/>
<polyline points="580.1,1624.4 558.8,1548.7"/>
<polyline points="558.8,1555.8 587.2,1536.9"/>
<path d="M556.4,1572.4 C562.4,1569.2 584.8,1554.2 591.9,1553.4 C599,1552.6 595.5,1565.7 599,1567.6 C602.6,1569.6 610.5,1570 613.2,1565.3 C616,1560.5 615.6,1549.1 615.6,1539.2 C615.6,1529.4 613.6,1511.6 613.2,1506.1"/>
<polyline points="639.2,1622 610.9,1491.9"/>
<polyline points="625,1624.4 596.7,1491.9"/>
<path d="M613.2,1468.3 C615.2,1469.1 622.3,1469.1 625,1473 C627.8,1476.9 625.8,1485.6 629.8,1491.9 C633.7,1498.2 640.8,1506.5 648.7,1510.9 C656.6,1515.2 666,1516.8 677.1,1517.9 C688.1,1519.1 707,1519.1 714.9,1517.9 C722.8,1516.8 722.8,1512 724.4,1510.9"/>
<polyline points="651.1,1515.6 681.8,1522.7 719.7,1520.3"/>
<polyline points="698.4,1574.7 696,1605.5 693.6,1614.9"/>
<polyline points="691.3,1572.4 692.2,1610.2"/>
<polyline points="696,1607.8 714.9,1603.1 712.6,1572.4"/>
<polyline points="714,1539.2 725.3,1539.2"/>
<polyline points="719.7,1539.2 720.6,1548.7"/>
<polyline points="724.4,1562.9 725.3,1574.7"/>
<path d="M757.5,1506.1 C761.5,1507.7 774.9,1514 781.2,1515.6 C787.5,1517.2 791.4,1512.4 795.4,1515.6 C799.3,1518.7 803.6,1529 804.8,1534.5 C806,1540 800.9,1544 802.5,1548.7 C804,1553.4 809.9,1555 814.3,1562.9 C818.6,1570.8 823.7,1584.2 828.5,1596 C833.2,1607.8 838.7,1625.6 842.7,1633.9 C846.6,1642.1 850.6,1643.7 852.1,1645.7"/>
<path d="M762.2,1515.6 C765.4,1522.7 774.9,1541.6 781.2,1558.2 C787.5,1574.7 795.4,1602.3 800.1,1614.9 C804.8,1627.5 808,1630.7 809.6,1633.9"/>
<path d="M752.8,1510.9 C756.7,1519.5 769.3,1544.8 776.4,1562.9 C783.5,1581 791.4,1607.8 795.4,1619.7 C799.3,1631.5 799.3,1631.5 800.1,1633.9"/>
<ellipse cx="794.4" cy="1526" rx="9.5" ry="12.3" transform="rotate(-10 794.4 1526)"/>
<ellipse cx="794.9" cy="1526.5" rx="5.2" ry="7.1" transform="rotate(-10 794.9 1526.5)"/>
<polyline points="852.1,1645.7 923.1,1612.6 1003.5,1572.4 1055.6,1544"/>
<polyline points="842.7,1619.7 918.4,1584.2"/>
<polyline points="840.3,1633.9 847.4,1622"/>
<path d="M826.1,1539.2 C828.5,1534.9 836.8,1533.3 842.7,1532.1 C848.6,1531 856.1,1531 861.6,1532.1 C867.1,1533.3 872.2,1536.5 875.8,1539.2 C879.3,1542 881.3,1543.2 882.9,1548.7 C884.5,1554.2 886,1565.3 885.2,1572.4 C884.5,1579.5 882.1,1586.9 878.1,1591.3 C874.2,1595.6 867.5,1599.2 861.6,1598.4 C855.7,1597.6 848.2,1593.2 842.7,1586.5 C837.1,1579.8 831.2,1566 828.5,1558.2 C825.7,1550.3 823.7,1543.6 826.1,1539.2Z"/>
<path d="M833.2,1570 C837.1,1568.8 849,1565.7 856.9,1562.9 C864.7,1560.1 876.6,1555 880.5,1553.4"/>
<path d="M859.2,1510.9 C862,1521.9 871.4,1562.1 875.8,1577.1 C880.1,1592.1 883.7,1596.8 885.2,1600.7"/>
<polyline points="904.2,1501.4 916,1548.7"/>
<polyline points="916,1577.1 923.1,1614.9"/>
<path d="M946.7,1500 C949.1,1506.5 957,1528.8 960.9,1539.2 C964.9,1549.7 968.8,1558.9 970.4,1562.9"/>
<polyline points="975.1,1500 998.8,1572.4"/>
<polyline points="894.7,1596 942,1572.4"/>
<polyline points="845,1607.8 885.2,1584.2"/>
<polyline points="899.4,1576.1 939.7,1553.4"/>
<polyline points="965.7,1544 975.1,1577.1"/>
</g>
<!-- 16_upG.svg -->
<g class="l" id="16_upG">
<polyline points="1074.8,1491.9 1085.5,1483.1 1152.9,1438.7 1167.1,1440.5 1172.4,1452.9 1170.7,1470.7 1103.2,1506.1"/>
<ellipse cx="1085.5" cy="1502.6" rx="9.9" ry="13.5" transform="rotate(-10 1085.5 1502.6)"/>
<ellipse cx="1085.5" cy="1502.6" rx="5" ry="7.1" transform="rotate(-10 1085.5 1502.6)"/>
<polyline points="1097.9,1477.8 1105,1502.6"/>
<polyline points="1103.2,1499 1113.9,1513.2 1262.9,1559.4 1270,1562.9 1341,1525.7"/>
<polyline points="1262.9,1559.4 1264.7,1548.7 1333.9,1511.5"/>
<polyline points="1106.8,1491.9 1115.6,1506.1 1262.9,1548.7"/>
<path d="M1053.5,1562.9 C1053.3,1561.7 1048.8,1558.5 1051.8,1555.8 C1054.7,1553.2 1066.9,1551.7 1071.3,1546.9 C1075.7,1542.2 1074.2,1532.5 1078.4,1527.4 C1082.5,1522.4 1092,1521.5 1096.1,1516.8 C1100.3,1512.1 1102,1502 1103.2,1499"/>
<path d="M1053.5,1562.9 C1054.7,1564.4 1057.1,1570.3 1060.6,1571.8 C1064.2,1573.3 1068.9,1573.9 1074.8,1571.8 C1080.8,1569.7 1092,1564.4 1096.1,1559.4 C1100.3,1554.3 1097.9,1546.9 1099.7,1541.6 C1101.5,1536.3 1105.6,1529.8 1106.8,1527.4"/>
<path d="M1106.8,1555.8 C1106.5,1553.7 1104.1,1546.7 1105,1543.4 C1105.9,1540.1 1109.4,1536.9 1112.1,1536.3 C1114.8,1535.7 1118.6,1536.3 1121,1539.9 C1123.3,1543.4 1124.5,1554.3 1126.3,1557.6 C1128.1,1560.8 1130.7,1559.1 1131.6,1559.4"/>
<path d="M1131.6,1559.4 C1131.6,1557.3 1130.4,1550.8 1131.6,1546.9 C1132.8,1543.1 1135.2,1538.4 1138.7,1536.3 C1142.3,1534.2 1148.8,1533.3 1152.9,1534.5 C1157,1535.7 1160.3,1538.7 1163.6,1543.4 C1166.8,1548.1 1169.8,1560 1172.4,1562.9 C1175.1,1565.9 1178.3,1561.4 1179.5,1561.1"/>
<path d="M1179.5,1561.1 C1181,1559.1 1185.1,1551.7 1188.4,1548.7 C1191.6,1545.8 1197.3,1544.3 1199,1543.4"/>
<ellipse cx="1207.9" cy="1555.8" rx="10.6" ry="14.2" transform="rotate(-10 1207.9 1555.8)"/>
<path d="M1191.9,1562.9 C1194.3,1565.3 1201.4,1574.7 1206.1,1577.1 C1210.9,1579.5 1216.8,1578.3 1220.3,1577.1 C1223.9,1575.9 1226.2,1573 1227.4,1570 C1228.6,1567.1 1226.2,1562.3 1227.4,1559.4 C1228.6,1556.4 1231,1553.7 1234.5,1552.3 C1238.1,1550.8 1244,1549.3 1248.7,1550.5 C1253.5,1551.7 1260.6,1557.9 1262.9,1559.4"/>
<path d="M1133.4,1559.4 C1133.7,1557 1133.4,1549 1135.2,1545.2 C1136.9,1541.3 1142.6,1537.8 1144,1536.3" stroke-width="4.5"/>
<path d="M1138.7,1559.4 C1139,1557.3 1139,1550.2 1140.5,1546.9 C1142,1543.7 1146.4,1541 1147.6,1539.9"/>
<path d="M1087.3,1421 C1088.1,1418.3 1091.7,1416.8 1096.1,1413.9 C1100.6,1410.9 1106.2,1406.2 1113.9,1403.2 C1121.6,1400.3 1135.2,1396.7 1142.3,1396.1 C1149.4,1395.5 1154.4,1397.3 1156.5,1399.7 C1158.5,1402 1157.6,1407.1 1154.7,1410.3 C1151.7,1413.6 1146.7,1415.9 1138.7,1419.2 C1130.7,1422.5 1114.8,1428.1 1106.8,1429.8 C1098.8,1431.6 1094.1,1431.3 1090.8,1429.8 C1087.6,1428.4 1086.4,1423.6 1087.3,1421Z"/>
<ellipse cx="1126.3" cy="1408.6" rx="16" ry="6.4" transform="rotate(-20 1126.3 1408.6)"/>
<ellipse cx="1126.3" cy="1408.6" rx="8.9" ry="3.2" transform="rotate(-20 1126.3 1408.6)"/>
<path d="M1092.6,1389 C1094.4,1387 1097.3,1379.3 1103.2,1376.6 C1109.1,1374 1121,1373.4 1128.1,1373.1 C1135.2,1372.8 1142,1372.8 1145.8,1374.8 C1149.7,1376.9 1150.5,1381.9 1151.1,1385.5 C1151.7,1389 1149.7,1394.4 1149.4,1396.1"/>
<path d="M1223.9,1415.6 C1224.5,1412.4 1230.4,1407.4 1234.5,1403.2 C1238.7,1399.1 1242.8,1393.8 1248.7,1390.8 C1254.6,1387.9 1264.4,1385.5 1270,1385.5 C1275.6,1385.5 1280.4,1387.9 1282.4,1390.8 C1284.5,1393.8 1284.5,1399.4 1282.4,1403.2 C1280.4,1407.1 1275.6,1410.9 1270,1413.9 C1264.4,1416.8 1255.2,1419.5 1248.7,1421 C1242.2,1422.5 1235.1,1423.6 1231,1422.7 C1226.8,1421.9 1223.3,1418.9 1223.9,1415.6Z"/>
<ellipse cx="1255.8" cy="1403.9" rx="17.7" ry="7.8" transform="rotate(-12 1255.8 1403.9)"/>
<ellipse cx="1255.8" cy="1403.9" rx="9.9" ry="4.3" transform="rotate(-12 1255.8 1403.9)"/>
<path d="M1310.8,1421 C1310.2,1418.3 1315.3,1413.3 1319.7,1410.3 C1324.1,1407.4 1330.9,1404.7 1337.4,1403.2 C1343.9,1401.8 1354,1400.9 1358.7,1401.5 C1363.5,1402 1365.2,1404.1 1365.8,1406.8 C1366.4,1409.4 1365.2,1414.8 1362.3,1417.4 C1359.3,1420.1 1354.6,1421.3 1348.1,1422.7 C1341.6,1424.2 1329.5,1426.6 1323.2,1426.3 C1317,1426 1311.4,1423.6 1310.8,1421Z"/>
<ellipse cx="1339.2" cy="1412.8" rx="13.5" ry="5.7" transform="rotate(-12 1339.2 1412.8)"/>
<path d="M1310.8,1421 C1312.3,1423 1317.6,1428.7 1319.7,1433.4 C1321.8,1438.1 1322.1,1443.7 1323.2,1449.4 C1324.4,1455 1325.6,1460.3 1326.8,1467.1 C1328,1473.9 1328.6,1484.3 1330.3,1490.2 C1332.1,1496.1 1335.4,1499.3 1337.4,1502.6 C1339.5,1505.8 1341.6,1504.4 1342.8,1509.7 C1343.9,1515 1343.1,1528.9 1344.5,1534.5 C1346,1540.1 1350.4,1541.9 1351.6,1543.4"/>
<polyline points="1362.3,1417.4 1376.5,1415.6 1381.8,1435.2"/>
<polyline points="1156.5,1381.9 1243.4,1387.3"/>
<polyline points="1174.2,1426.3 1312.6,1435.2"/>
<polyline points="1167.1,1433.4 1314.4,1445.8"/>
<polyline points="1050,1385.5 1096.1,1360.6"/>
<polyline points="1172.4,1369.5 1209.7,1350"/>
<polyline points="1284.2,1380.2 1358.7,1350"/>
<polyline points="1305.5,1394.4 1404.9,1350"/>
<path d="M1223.9,1433.4 C1225.7,1434.9 1231.6,1436.6 1234.5,1442.3 C1237.5,1447.9 1238.7,1461.5 1241.6,1467.1 C1244.6,1472.7 1246.4,1474.8 1252.3,1476 C1258.2,1477.2 1268.2,1476.3 1277.1,1474.2 C1286,1472.1 1299,1467.7 1305.5,1463.6 C1312,1459.4 1314.4,1451.7 1316.1,1449.4"/>
<polyline points="1227.4,1435.2 1243.4,1442.3"/>
<polyline points="1284.2,1419.2 1298.4,1488.4"/>
<polyline points="1241.6,1490.2 1248.7,1511.5"/>
<polyline points="1302,1513.2 1305.5,1538.1"/>
<polyline points="1190.2,1516.8 1195.5,1534.5"/>
<polyline points="1254,1534.5 1259.4,1559.4"/>
<polyline points="1108.6,1523.9 1110.3,1548.7"/>
<polyline points="1080.2,1385.5 1089,1406.8"/>
<polyline points="1089,1438.7 1092.6,1452.9"/>
<polyline points="1096.1,1463.6 1099.7,1472.4"/>
<polyline points="1174.2,1460 1202.6,1472.4 1188.4,1484.8"/>
<polyline points="1152.9,1484.8 1160,1491.9 1170.7,1477.8"/>
<polyline points="1050,1452.9 1089,1449.4"/>
<polyline points="1050,1467.1 1078.4,1460"/>
<polyline points="1050,1413.9 1071.3,1426.3 1085.5,1417.4"/>
<polyline points="1050,1506.1 1067.7,1491.9"/>
<polyline points="1053.5,1515 1074.8,1516.8"/>
<polyline points="1270,1371.3 1277.1,1389"/>
<polyline points="1376.5,1442.3 1401.3,1408.6 1440.3,1426.3 1461.6,1419.2 1518.4,1426.3 1522,1435.2 1525.5,1463.6 1486.5,1481.3 1461.6,1483.1 1451,1481.3"/>
<polyline points="1376.5,1442.3 1475.8,1436.9 1484.7,1451.1 1522,1435.2"/>
<polyline points="1376.5,1442.3 1380,1454.7 1479.4,1445.8"/>
<polyline points="1484.7,1451.1 1490,1470.7 1486.5,1481.3"/>
<rect x="1451" y="1426.7" width="28.4" height="9.9" rx="5" transform="rotate(-15 1465.2 1431.6)"/>
<rect x="1456.3" y="1429.1" width="17.7" height="5" rx="2.5" transform="rotate(-15 1465.2 1431.6)"/>
<ellipse cx="1497.1" cy="1435.2" rx="7.8" ry="3.5" transform="rotate(-10 1497.1 1435.2)"/>
<path d="M1376.5,1460 C1376.2,1463 1373.5,1472.4 1374.7,1477.8 C1375.9,1483.1 1382.7,1487.8 1383.6,1491.9 C1384.5,1496.1 1380.6,1500.8 1380,1502.6"/>
<polyline points="1383.6,1484.8 1415.5,1479.5 1443.9,1481.3"/>
<path d="M1415.5,1452.9 C1414.9,1455.9 1411.4,1464.1 1412,1470.7 C1412.6,1477.2 1416.7,1487.8 1419.1,1491.9 C1421.4,1496.1 1425,1494.9 1426.2,1495.5"/>
<path d="M1419.1,1452.9 C1421.4,1454.7 1429.1,1458.8 1433.3,1463.6 C1437.4,1468.3 1441.5,1476.6 1443.9,1481.3 C1446.3,1486 1446.9,1490.2 1447.4,1491.9"/>
<polyline points="1431.5,1474.2 1440.3,1491.9"/>
<polygon points="1358.7,1515 1463.4,1490.2 1472.3,1491.9 1475.8,1513.2 1420.8,1543.4 1351.6,1543.4 1348.1,1527.4"/>
<polyline points="1358.7,1515 1364.1,1543.4"/>
<polyline points="1415.5,1518.6 1420.8,1543.4"/>
<polyline points="1358.7,1515 1415.5,1518.6 1470.5,1493.7"/>
<ellipse cx="1392.4" cy="1531" rx="5.3" ry="7.1" transform="rotate(-10 1392.4 1531)"/>
<ellipse cx="1431.5" cy="1523.9" rx="6.4" ry="8.5" transform="rotate(-10 1431.5 1523.9)"/>
<ellipse cx="1463.4" cy="1506.1" rx="5.3" ry="7.8" transform="rotate(-10 1463.4 1506.1)"/>
<polyline points="1475.8,1499 1481.2,1513.2 1507.8,1502.6 1514.9,1490.2 1507.8,1474.2 1490,1472.4"/>
<polyline points="1507.8,1474.2 1536.2,1476 1592.9,1467.1 1639.1,1444 1632,1419.2 1624.9,1413.9"/>
<polyline points="1525.5,1445.8 1585.8,1436.9 1632,1419.2"/>
<polyline points="1585.8,1436.9 1592.9,1467.1"/>
<polyline points="1529.1,1463.6 1536.2,1476"/>
<polyline points="1474.1,1495.5 1479.4,1509.7"/>
<polyline points="1479.4,1493.7 1484.7,1507.9"/>
<path d="M1557.5,1385.5 C1559.2,1381.3 1565.7,1378.1 1571.6,1374.8 C1577.6,1371.6 1586.4,1366.9 1592.9,1366 C1599.4,1365.1 1606.5,1367.4 1610.7,1369.5 C1614.8,1371.6 1616,1374.5 1617.8,1378.4 C1619.6,1382.2 1623.7,1388.4 1621.3,1392.6 C1619,1396.7 1611.3,1400.9 1603.6,1403.2 C1595.9,1405.6 1582.3,1407.4 1575.2,1406.8 C1568.1,1406.2 1564,1403.2 1561,1399.7 C1558,1396.1 1555.7,1389.6 1557.5,1385.5Z"/>
<ellipse cx="1592.9" cy="1391.9" rx="17" ry="7.1" transform="rotate(-15 1592.9 1391.9)"/>
<ellipse cx="1592.9" cy="1391.9" rx="9.9" ry="3.5" transform="rotate(-15 1592.9 1391.9)"/>
<polyline points="1507.8,1419.2 1561,1392.6"/>
<polyline points="1525.5,1445.8 1575.2,1417.4"/>
<polyline points="1548.6,1406.8 1571.6,1413.9 1582.3,1408.6"/>
<polyline points="1617.8,1367.7 1624.9,1403.2 1635.5,1417.4"/>
<polyline points="1603.6,1357.1 1621.3,1367.7"/>
<polyline points="1578.7,1350 1603.6,1357.1 1650.1,1353.5"/>
</g>
<!-- 20_gcA.svg -->
<g class="l" id="20_gcA">
<path d="M2324.8,1111 C2325.7,1109.8 2326.6,1106.2 2330.2,1103.9 C2333.7,1101.5 2334.6,1103.3 2346.1,1096.8 C2357.7,1090.3 2388.7,1069.9 2399.4,1064.8 C2410,1059.8 2407,1065.1 2410,1066.6 C2413,1068.1 2413.6,1073.7 2417.1,1073.7 C2420.7,1073.7 2426.6,1068.1 2431.3,1066.6 C2436,1065.1 2441.4,1064.2 2445.5,1064.8 C2449.6,1065.4 2452.6,1067.2 2456.1,1070.2 C2459.7,1073.1 2464.4,1077.6 2466.8,1082.6 C2469.2,1087.6 2468.6,1094.4 2470.3,1100.3 C2472.1,1106.2 2473.9,1112.7 2477.4,1118.1 C2481,1123.4 2485.7,1127.5 2491.6,1132.3 C2497.5,1137 2506.4,1142.9 2512.9,1146.5 C2519.4,1150 2525.3,1150 2530.7,1153.6 C2536,1157.1 2540.7,1165.1 2544.9,1167.8 C2549,1170.4 2553.7,1169.2 2555.5,1169.5"/>
<polyline points="2555.5,1169.5 2605.2,1196.1 2654.9,1221"/>
<path d="M2654.9,1221 C2657.8,1220.4 2666.7,1217.4 2672.6,1217.4 C2678.5,1217.4 2685,1218.6 2690.3,1221 C2695.7,1223.3 2701.6,1227.5 2704.5,1231.6 C2707.5,1235.8 2708.7,1241.1 2708.1,1245.8 C2707.5,1250.6 2703.7,1256.5 2701,1260 C2698.3,1263.6 2693.3,1263.6 2692.1,1267.1 C2690.9,1270.7 2691.2,1278.3 2693.9,1281.3 C2696.6,1284.3 2703.4,1283.7 2708.1,1284.9 C2712.8,1286 2718.7,1285.4 2722.3,1288.4 C2725.8,1291.4 2727.6,1297.3 2729.4,1302.6 C2731.2,1307.9 2731.7,1313.8 2732.9,1320.3 C2734.1,1326.8 2734.7,1335.1 2736.5,1341.6 C2738.3,1348.1 2743,1353.5 2743.6,1359.4 C2744.2,1365.3 2739.4,1371.2 2740,1377.1 C2740.6,1383 2741.8,1388.4 2747.1,1394.9 C2752.4,1401.4 2767.2,1410.2 2772,1416.2 C2776.7,1422.1 2773.1,1424.4 2775.5,1430.3 C2777.9,1436.3 2782.6,1445.7 2786.2,1451.6 C2789.7,1457.6 2793.3,1461.7 2796.8,1465.8 C2800.4,1470 2804.5,1472.5 2807.5,1476.5 C2810.4,1480.5 2813.4,1487.7 2814.5,1490"/>
<path d="M2324.8,1111 C2325.1,1113.9 2324.8,1122.8 2326.6,1128.7 C2328.4,1134.6 2333.4,1138.8 2335.5,1146.5 C2337.6,1154.1 2337.3,1164.2 2339,1174.8 C2340.8,1185.5 2342,1198.5 2346.1,1210.3 C2350.3,1222.2 2358.6,1235.8 2363.9,1245.8 C2369.2,1255.9 2372.7,1263.6 2378.1,1270.7 C2383.4,1277.8 2388.7,1280.7 2395.8,1288.4 C2402.9,1296.1 2415.3,1309.1 2420.7,1316.8 C2426,1324.5 2424.2,1327.4 2427.8,1334.5 C2431.3,1341.6 2437.2,1351.7 2441.9,1359.4 C2446.7,1367.1 2452,1371.8 2456.1,1380.7 C2460.3,1389.5 2463.8,1402.6 2466.8,1412.6 C2469.7,1422.7 2473.3,1432.7 2473.9,1441 C2474.5,1449.3 2469.7,1454.1 2470.3,1462.3 C2470.9,1470.4 2476.2,1485.4 2477.4,1490"/>
<path d="M2353.2,1107.4 C2354.1,1111 2358.6,1121 2358.6,1128.7 C2358.6,1136.4 2354.4,1144.7 2353.2,1153.6 C2352,1162.4 2350.3,1171.3 2351.5,1181.9 C2352.6,1192.6 2357.1,1205.6 2360.3,1217.4 C2363.6,1229.3 2366.8,1243.5 2371,1252.9 C2375.1,1262.4 2379.3,1267.1 2385.2,1274.2 C2391.1,1281.3 2399.4,1287.8 2406.5,1295.5 C2413.6,1303.2 2420.7,1312.7 2427.8,1320.3 C2434.8,1328 2443.1,1335.1 2449,1341.6 C2455,1348.1 2459.7,1350.5 2463.2,1359.4 C2466.8,1368.2 2467.4,1383 2470.3,1394.9 C2473.3,1406.7 2477.4,1420.3 2481,1430.3 C2484.5,1440.4 2488.7,1445.3 2491.6,1455.2 C2494.6,1465.1 2497.5,1484.2 2498.7,1490"/>
<path d="M2445.5,1071.9 C2447.3,1077.3 2452.6,1094.4 2456.1,1103.9 C2459.7,1113.3 2460.9,1121 2466.8,1128.7 C2472.7,1136.4 2486.3,1144.7 2491.6,1150 C2496.9,1155.3 2496.9,1155.3 2498.7,1160.7 C2500.5,1166 2499.3,1175.4 2502.3,1181.9 C2505.2,1188.5 2511.7,1197.3 2516.5,1199.7 C2521.2,1202.1 2526.5,1197.3 2530.7,1196.1 C2534.8,1195 2536,1190.8 2541.3,1192.6 C2546.6,1194.4 2553.1,1200.3 2562.6,1206.8 C2572.1,1213.3 2591.6,1223.9 2598.1,1231.6 C2604.6,1239.3 2601,1243.5 2601.6,1252.9 C2602.2,1262.4 2601,1280.1 2601.6,1288.4 C2602.2,1296.7 2602.2,1297.3 2605.2,1302.6 C2608.1,1307.9 2617,1317.4 2619.4,1320.3"/>
<polyline points="2330.2,1103.9 2353.2,1107.4"/>
<polyline points="2346.1,1096.8 2363.9,1105.6 2371,1102.1"/>
<polyline points="2399.4,1064.8 2406.5,1079"/>
<polyline points="2466.8,1082.6 2463.2,1096.8"/>
<polyline points="2470.3,1125.2 2484.5,1119.8"/>
<polyline points="2488.1,1150 2504,1142.9"/>
<polyline points="2537.8,1176.6 2555.5,1169.5"/>
<polyline points="2605.2,1196.1 2612.3,1213.9 2626.5,1217.4 2654.9,1221"/>
<polyline points="2654.9,1228.1 2672.6,1221"/>
<polyline points="2683.3,1235.2 2690.3,1281.3"/>
<ellipse cx="2340.8" cy="1121.6" rx="9.9" ry="14.2" transform="rotate(-15 2340.8 1121.6)"/>
<ellipse cx="2339" cy="1119.8" rx="14.9" ry="20.6" transform="rotate(-15 2339 1119.8)"/>
<ellipse cx="2386.9" cy="1098.6" rx="10.6" ry="14.9" transform="rotate(-15 2386.9 1098.6)"/>
<ellipse cx="2386.9" cy="1098.6" rx="15.6" ry="21.3" transform="rotate(-15 2386.9 1098.6)"/>
<ellipse cx="2422.4" cy="1105.6" rx="5.3" ry="7.1" transform="rotate(-15 2422.4 1105.6)"/>
<ellipse cx="2426" cy="1098.6" rx="18.5" ry="25.6" transform="rotate(-15 2426 1098.6)"/>
<ellipse cx="2512.9" cy="1178.4" rx="8.9" ry="13.5" transform="rotate(-15 2512.9 1178.4)"/>
<ellipse cx="2512.2" cy="1177.7" rx="14.9" ry="20.6" transform="rotate(-15 2512.2 1177.7)"/>
<ellipse cx="2694.6" cy="1243.3" rx="7.1" ry="9.9" transform="rotate(-15 2694.6 1243.3)"/>
<ellipse cx="2694.6" cy="1243.3" rx="12.1" ry="16.3" transform="rotate(-15 2694.6 1243.3)"/>
<ellipse cx="2654.9" cy="1286.6" rx="9.9" ry="13.5" transform="rotate(-15 2654.9 1286.6)"/>
<ellipse cx="2560.8" cy="1280.6" rx="6.4" ry="8.5" transform="rotate(-15 2560.8 1280.6)"/>
<ellipse cx="2466.8" cy="1326.7" rx="6.4" ry="9.6" transform="rotate(-15 2466.8 1326.7)"/>
<ellipse cx="2466.1" cy="1326" rx="12.8" ry="18.5" transform="rotate(-15 2466.1 1326)"/>
<ellipse cx="2445.5" cy="1348.7" rx="8.9" ry="14.2" transform="rotate(-15 2445.5 1348.7)"/>
<ellipse cx="2693.9" cy="1316.8" rx="7.8" ry="12.4" transform="rotate(-15 2693.9 1316.8)"/>
<ellipse cx="2701" cy="1364.7" rx="8.9" ry="14.2" transform="rotate(-15 2701 1364.7)"/>
<ellipse cx="2647.8" cy="1328.1" rx="6.4" ry="9.2" transform="rotate(-15 2647.8 1328.1)"/>
<ellipse cx="2647.1" cy="1327.4" rx="12.4" ry="16.3" transform="rotate(-15 2647.1 1327.4)"/>
<ellipse cx="2662" cy="1416.2" rx="5.3" ry="7.8" transform="rotate(-15 2662 1416.2)"/>
<ellipse cx="2481" cy="1467.6" rx="8.9" ry="13.5" transform="rotate(-15 2481 1467.6)"/>
<ellipse cx="2690.3" cy="1474.7" rx="8.9" ry="13.5" transform="rotate(-15 2690.3 1474.7)"/>
<ellipse cx="2487.4" cy="1382.4" rx="3.5" ry="7.1" transform="rotate(-15 2487.4 1382.4)"/>
<rect x="2582.8" y="1258.9" width="67.4" height="10.6" rx="5.3" transform="rotate(82 2616.5 1264.3)"/>
<ellipse cx="2415.3" cy="1221" rx="53.2" ry="67.4" transform="rotate(-15 2415.3 1221)"/>
<ellipse cx="2414.3" cy="1223.1" rx="45.4" ry="58.6" transform="rotate(-15 2414.3 1223.1)"/>
<ellipse cx="2410.7" cy="1224.5" rx="34.1" ry="45.4" transform="rotate(-15 2410.7 1224.5)"/>
<ellipse cx="2412.8" cy="1227.4" rx="28.4" ry="39" transform="rotate(-15 2412.8 1227.4)" class="n"/>
<path d="M2395.8,1181.9 C2397,1187.9 2399.4,1206.8 2402.9,1217.4 C2406.5,1228.1 2411.2,1238.1 2417.1,1245.8 C2423,1253.5 2434.8,1260.6 2438.4,1263.6"/>
<path d="M2385.2,1189 C2384.9,1195 2382.2,1213.9 2383.4,1224.5 C2384.6,1235.2 2388.4,1245.8 2392.3,1252.9 C2396.1,1260 2404.1,1264.7 2406.5,1267.1"/>
<ellipse cx="2436.6" cy="1176.6" rx="7.1" ry="9.9" transform="rotate(-15 2436.6 1176.6)"/>
<path d="M2431.3,1160.7 C2433.1,1160.1 2437.8,1155.9 2441.9,1157.1 C2446.1,1158.3 2453.2,1162.4 2456.1,1167.8 C2459.1,1173.1 2460.3,1184.3 2459.7,1189 C2459.1,1193.8 2455.5,1195.5 2452.6,1196.1 C2449.6,1196.7 2443.7,1193.2 2441.9,1192.6"/>
<path d="M2427.8,1167.8 C2427.2,1170.1 2423,1177.8 2424.2,1181.9 C2425.4,1186.1 2433.1,1190.8 2434.8,1192.6"/>
<path d="M2488.1,1323.9 C2489.9,1319.2 2493.4,1303.2 2498.7,1295.5 C2504,1287.8 2511.7,1281.9 2520,1277.8 C2528.3,1273.6 2543.1,1273.9 2548.4,1270.7 C2553.7,1267.4 2549.6,1260.6 2552,1258.2 C2554.3,1255.9 2559,1255 2562.6,1256.5 C2566.1,1257.9 2569.7,1262.4 2573.2,1267.1 C2576.8,1271.8 2579.7,1280.1 2583.9,1284.9 C2588,1289.6 2592.2,1289.6 2598.1,1295.5 C2604,1301.4 2612.9,1311.5 2619.4,1320.3 C2625.9,1329.2 2631.8,1339.3 2637.1,1348.7 C2642.4,1358.2 2648.4,1369.4 2651.3,1377.1 C2654.3,1384.8 2651.3,1390.1 2654.9,1394.9 C2658.4,1399.6 2667.9,1400.8 2672.6,1405.5 C2677.3,1410.2 2682.1,1418.5 2683.3,1423.3 C2684.4,1428 2682.1,1431.5 2679.7,1433.9 C2677.3,1436.3 2672,1433.3 2669.1,1437.4 C2666.1,1441.6 2664.3,1450 2662,1458.7 C2659.6,1467.5 2656,1484.8 2654.9,1490"/>
<ellipse cx="2571.5" cy="1386" rx="79.8" ry="108.2" transform="rotate(-18 2571.5 1386)"/>
<ellipse cx="2572.5" cy="1388.5" rx="71" ry="96.5" transform="rotate(-18 2572.5 1388.5)"/>
<ellipse cx="2574" cy="1395.6" rx="58.6" ry="80.9" transform="rotate(-18 2574 1395.6)" stroke-width="4.5"/>
<ellipse cx="2578.6" cy="1398.4" rx="51.5" ry="72.7" transform="rotate(-18 2578.6 1398.4)" class="n"/>
<path d="M2534.2,1323.9 C2533.6,1329.8 2528.3,1344.6 2530.7,1359.4 C2533,1374.2 2540.7,1397.2 2548.4,1412.6 C2556.1,1428 2567.3,1442.8 2576.8,1451.6 C2586.3,1460.5 2600.4,1463.5 2605.2,1465.8"/>
<path d="M2608.7,1323.9 C2612.3,1329.8 2624.7,1347.5 2630,1359.4 C2635.3,1371.2 2640.1,1384.2 2640.7,1394.9 C2641.3,1405.5 2634.8,1418.5 2633.6,1423.3"/>
<path d="M2619.4,1394.9 C2620.6,1399 2622.3,1414.4 2626.5,1419.7 C2630.6,1425 2641.3,1425.6 2644.2,1426.8"/>
<path d="M2512.9,1441 C2515.3,1445.1 2521.2,1460.5 2527.1,1465.8 C2533,1471.2 2542.5,1473.5 2548.4,1472.9 C2554.3,1472.3 2560.2,1464.1 2562.6,1462.3"/>
<path d="M2612.3,1082.6 C2612.6,1070.8 2612.3,1061 2614.1,1054.2 C2615.8,1047.4 2619.1,1044.7 2622.9,1041.8 C2626.8,1038.8 2625.9,1037 2637.1,1036.5 C2648.4,1035.9 2680.6,1036.5 2690.3,1038.2 C2700.1,1040 2694.8,1035 2695.7,1047.1 C2696.6,1059.2 2696.6,1098 2695.7,1111 C2694.8,1124 2700.1,1119 2690.3,1125.2 C2680.6,1131.4 2647.8,1144.7 2637.1,1148.2 C2626.5,1151.8 2630,1148.2 2626.5,1146.5 C2622.9,1144.7 2618.2,1141.1 2615.8,1137.6 C2613.5,1134 2612.9,1134.3 2612.3,1125.2 C2611.7,1116 2612,1094.4 2612.3,1082.6Z"/>
<ellipse cx="2653.1" cy="1086.1" rx="24.8" ry="34.1" transform="rotate(-15 2653.1 1086.1)"/>
<ellipse cx="2654.2" cy="1087.2" rx="21.3" ry="29.8" transform="rotate(-15 2654.2 1087.2)" class="n"/>
<ellipse cx="2677.9" cy="1045.3" rx="5.3" ry="7.1" transform="rotate(-15 2677.9 1045.3)"/>
<ellipse cx="2626.5" cy="1128.7" rx="6" ry="8.9" transform="rotate(-15 2626.5 1128.7)"/>
<path d="M2693.9,1281.3 C2692.7,1286 2688.3,1297.9 2686.8,1309.7 C2685.3,1321.5 2684.4,1341 2685,1352.3 C2685.6,1363.5 2685.9,1369.4 2690.3,1377.1 C2694.8,1384.8 2702.8,1383.6 2711.6,1398.4 C2720.5,1413.2 2735.9,1450.6 2743.6,1465.8 C2751.3,1481.1 2755.4,1485.9 2757.8,1490"/>
<polyline points="2718.7,1384.2 2740,1373.6 2743.6,1377.1 2725.8,1386"/>
<polyline points="2743.6,1359.4 2772,1416.2"/>
<polyline points="2715.2,1341.6 2729.4,1334.5"/>
<polyline points="2740,1412.6 2747.1,1409.1 2757.8,1423.3 2772,1414.4"/>
<polyline points="2757.8,1423.3 2775.5,1458.7 2761.3,1465.8 2789.7,1476.5"/>
<polyline points="2768.4,1416.2 2786.2,1465.8"/>
<polyline points="2704.5,1288.4 2711.6,1295.5"/>
</g>
<!-- 21_gcB.svg -->
<g class="l" id="21_gcB">
<path d="M2484.8,1491.9 C2485.1,1495.5 2484.8,1506.7 2486.6,1513.2 C2488.4,1519.7 2492.2,1525.6 2495.5,1531 C2498.7,1536.3 2503.8,1539.3 2506.1,1545.2 C2508.5,1551.1 2509.4,1560 2509.7,1566.5 C2510,1573 2506.7,1577.7 2507.9,1584.2 C2509.1,1590.7 2513.5,1599.6 2516.8,1605.5 C2520,1611.4 2525.1,1615 2527.4,1619.7 C2529.8,1624.4 2527.4,1627.4 2531,1633.9 C2534.5,1640.4 2543.4,1651 2548.7,1658.7 C2554,1666.4 2557.6,1670.6 2562.9,1680 C2568.2,1689.5 2574.7,1704.9 2580.7,1715.5 C2586.6,1726.1 2593.1,1734.4 2598.4,1743.9 C2603.7,1753.4 2609,1766.4 2612.6,1772.3 C2616.1,1778.2 2620,1776.4 2619.7,1779.4 C2619.4,1782.3 2612.6,1785.9 2610.8,1790 C2609,1794.2 2607.6,1799.5 2609,1804.2 C2610.5,1808.9 2615.6,1814.9 2619.7,1818.4 C2623.8,1822 2628,1822.6 2633.9,1825.5 C2639.8,1828.5 2649.3,1830.8 2655.2,1836.2 C2661.1,1841.5 2663.5,1851.5 2669.4,1857.4 C2675.3,1863.4 2681.2,1866.9 2690.7,1871.6 C2700.1,1876.4 2715.5,1881.1 2726.2,1885.8 C2736.8,1890.6 2746.3,1896 2754.5,1900 C2762.8,1904.1 2772.3,1908.3 2775.8,1910"/>
<path d="M2506.1,1499 C2507.9,1500.8 2514.1,1504.9 2516.8,1509.7 C2519.4,1514.4 2521.5,1522.1 2522.1,1527.4 C2522.7,1532.7 2519.4,1535.7 2520.3,1541.6 C2521.2,1547.5 2524.5,1555.2 2527.4,1562.9 C2530.4,1570.6 2535.7,1581.2 2538.1,1587.8 C2540.4,1594.3 2539.3,1597.2 2541.6,1601.9 C2544,1606.7 2548.7,1611.4 2552.3,1616.1 C2555.8,1620.9 2561.1,1625.6 2562.9,1630.3 C2564.7,1635.1 2560.6,1637.4 2562.9,1644.5 C2565.3,1651.6 2571.2,1661.1 2577.1,1672.9 C2583,1684.7 2591.9,1702.5 2598.4,1715.5 C2604.9,1728.5 2611.4,1742.1 2616.1,1751 C2620.9,1759.9 2625,1765.8 2626.8,1768.7"/>
<ellipse cx="2502.6" cy="1520.3" rx="7.1" ry="10.6" transform="rotate(-15 2502.6 1520.3)"/>
<ellipse cx="2503.3" cy="1521" rx="10.6" ry="14.9" transform="rotate(-15 2503.3 1521)"/>
<ellipse cx="2522.8" cy="1597.3" rx="7.8" ry="12.4" transform="rotate(-15 2522.8 1597.3)"/>
<ellipse cx="2543.4" cy="1632.8" rx="8.9" ry="13.5" transform="rotate(-15 2543.4 1632.8)"/>
<path d="M2814.9,1490.2 C2814.9,1492.2 2815.5,1497.6 2814.9,1502.6 C2814.3,1507.6 2810.7,1513.2 2811.3,1520.3 C2811.9,1527.4 2816.6,1535.7 2818.4,1545.2 C2820.2,1554.6 2821.4,1564.7 2822,1577.1 C2822.6,1589.5 2821.4,1606.1 2822,1619.7 C2822.6,1633.3 2822.6,1643.9 2825.5,1658.7 C2828.5,1673.5 2835,1694.2 2839.7,1708.4 C2844.4,1722.6 2849.8,1732.1 2853.9,1743.9 C2858,1755.7 2863.4,1767.5 2864.5,1779.4 C2865.7,1791.2 2863.4,1803 2861,1814.9 C2858.6,1826.7 2853.9,1839.7 2850.4,1850.3 C2846.8,1861 2844.4,1870.5 2839.7,1878.7 C2835,1887 2826.7,1894.8 2822,1900 C2817.2,1905.2 2813.1,1908.3 2811.3,1910"/>
<path d="M2758.1,1495.5 C2761,1501.4 2769.9,1519.1 2775.8,1531 C2781.7,1542.8 2790,1554.6 2793.6,1566.5 C2797.1,1578.3 2795.9,1586.6 2797.1,1601.9 C2798.3,1617.3 2798.3,1642.2 2800.7,1658.7 C2803,1675.3 2806.6,1687.1 2811.3,1701.3 C2816.1,1715.5 2824.3,1730.9 2829.1,1743.9 C2833.8,1756.9 2837.3,1769.9 2839.7,1779.4 C2842.1,1788.8 2843.3,1792.4 2843.3,1800.7 C2843.3,1808.9 2842.1,1819.6 2839.7,1829.1 C2837.3,1838.5 2833.8,1848 2829.1,1857.4 C2824.3,1866.9 2817.2,1878.7 2811.3,1885.8 C2805.4,1892.9 2796.5,1897.7 2793.6,1900"/>
<path d="M2790,1523.9 C2790.9,1531 2793.3,1550.5 2795.4,1566.5 C2797.4,1582.4 2800.4,1601.9 2802.4,1619.7 C2804.5,1637.4 2804.5,1656.9 2807.8,1672.9 C2811,1688.9 2817.2,1700.7 2822,1715.5 C2826.7,1730.3 2833.8,1753.9 2836.2,1761.6"/>
<polyline points="2790,1523.9 2811.3,1513.2"/>
<polyline points="2793.6,1548.7 2814.9,1539.8"/>
<polyline points="2843.3,1786.5 2864.5,1775.8"/>
<polyline points="2845,1806 2862.8,1797.1"/>
<polyline points="2832.6,1853.9 2850.4,1845"/>
<ellipse cx="2775.8" cy="1493.7" rx="9.9" ry="14.2" transform="rotate(-15 2775.8 1493.7)"/>
<path d="M2562.9,1481.3 C2568.8,1483.7 2587.2,1491.9 2598.4,1495.5 C2609.6,1499 2621.5,1503.8 2630.3,1502.6 C2639.2,1501.4 2648.1,1490.8 2651.6,1488.4"/>
<path d="M2630.3,1506.1 C2634.5,1501.7 2644.5,1495.5 2651.6,1493.7 C2658.7,1491.9 2665.2,1492.8 2672.9,1495.5 C2680.6,1498.1 2688.9,1502 2697.8,1509.7 C2706.6,1517.4 2718.5,1530.4 2726.2,1541.6 C2733.8,1552.9 2739.8,1565.9 2743.9,1577.1 C2748,1588.3 2750.4,1599 2751,1609 C2751.6,1619.1 2750.4,1630.3 2747.4,1637.4 C2744.5,1644.5 2739.8,1649 2733.3,1651.6 C2726.7,1654.3 2716.7,1655.2 2708.4,1653.4 C2700.1,1651.6 2691.9,1647.2 2683.6,1641 C2675.3,1634.8 2666.4,1626.2 2658.7,1616.1 C2651,1606.1 2642.8,1592.5 2637.4,1580.7 C2632.1,1568.8 2628.6,1555.2 2626.8,1545.2 C2625,1535.1 2626.2,1526.8 2626.8,1520.3 C2627.4,1513.8 2626.2,1510.6 2630.3,1506.1Z"/>
<path d="M2662.3,1495.5 C2662,1499.6 2659.3,1510.9 2660.5,1520.3 C2661.7,1529.8 2664.9,1541.6 2669.4,1552.3 C2673.8,1562.9 2680,1575.3 2687.1,1584.2 C2694.2,1593.1 2703.7,1600.8 2712,1605.5 C2720.2,1610.2 2730.6,1612 2736.8,1612.6 C2743,1613.2 2747.1,1609.6 2749.2,1609"/>
<path d="M2680,1506.1 C2679.7,1509.1 2677.1,1515.6 2678.2,1523.9 C2679.4,1532.2 2682.7,1545.8 2687.1,1555.8 C2691.6,1565.9 2698.4,1576.5 2704.9,1584.2 C2711.4,1591.9 2719.6,1598.1 2726.2,1601.9 C2732.7,1605.8 2740.9,1606.4 2743.9,1607.3"/>
<polyline points="2657,1525.6 2662.3,1523.2 2726.2,1545.2 2729.7,1532.7 2733.3,1536.3 2731.5,1546.9"/>
<polyline points="2657,1525.6 2658.7,1536.3 2681.8,1534.5"/>
<polyline points="2681.8,1536.3 2726.2,1548.7"/>
<path d="M2630.3,1554 C2626.8,1554.6 2613.5,1555.5 2609,1557.6 C2604.6,1559.7 2604.3,1562 2603.7,1566.5 C2603.1,1570.9 2602.8,1578.9 2605.5,1584.2 C2608.2,1589.5 2613.8,1594.8 2619.7,1598.4 C2625.6,1601.9 2637.4,1604.3 2641,1605.5"/>
<ellipse cx="2626.1" cy="1584.2" rx="6.4" ry="9.2" transform="rotate(-15 2626.1 1584.2)"/>
<path d="M2736.8,1543.4 C2739.8,1542.8 2749.2,1538.4 2754.5,1539.8 C2759.9,1541.3 2765.5,1546.6 2768.7,1552.3 C2772,1557.9 2774.1,1567.6 2774.1,1573.6 C2774.1,1579.5 2772.6,1584.8 2768.7,1587.8 C2764.9,1590.7 2754,1590.7 2751,1591.3"/>
<ellipse cx="2752.8" cy="1561.1" rx="7.1" ry="10.6" transform="rotate(-15 2752.8 1561.1)"/>
<polyline points="2641,1605.5 2637.4,1612.6 2655.2,1616.1"/>
<ellipse cx="2671.1" cy="1720.8" rx="16" ry="21.3" transform="rotate(-15 2671.1 1720.8)"/>
<ellipse cx="2665.8" cy="1724.4" rx="6.4" ry="9.9" transform="rotate(-15 2665.8 1724.4)"/>
<ellipse cx="2666.9" cy="1723.3" rx="9.9" ry="14.2" transform="rotate(-15 2666.9 1723.3)"/>
<ellipse cx="2644.5" cy="1797.1" rx="19.5" ry="28.4" transform="rotate(-15 2644.5 1797.1)"/>
<ellipse cx="2645.2" cy="1797.8" rx="14.2" ry="22" transform="rotate(-15 2645.2 1797.8)"/>
<polyline points="2626.8,1768.7 2651.6,1747.4 2669.4,1749.2 2690.7,1772.3"/>
<polyline points="2664.1,1822 2690.7,1807.8 2694.2,1779.4"/>
<path d="M2690.7,1743.9 C2693,1740.3 2698.9,1727.6 2704.9,1722.6 C2710.8,1717.6 2718.5,1714.9 2726.2,1713.7 C2733.8,1712.5 2742.7,1716.4 2751,1715.5 C2759.3,1714.6 2768.1,1709 2775.8,1708.4 C2783.5,1707.8 2790.6,1708.4 2797.1,1712 C2803.6,1715.5 2810.1,1721.4 2814.9,1729.7 C2819.6,1738 2822,1753.4 2825.5,1761.6 C2829.1,1769.9 2833.2,1772.9 2836.2,1779.4 C2839.1,1785.9 2842.1,1797.1 2843.3,1800.7"/>
<ellipse cx="2751" cy="1793.6" rx="53.2" ry="76.3" transform="rotate(-15 2751 1793.6)"/>
<ellipse cx="2752.1" cy="1795.3" rx="46.1" ry="67.4" transform="rotate(-15 2752.1 1795.3)"/>
<ellipse cx="2758.1" cy="1797.8" rx="37.3" ry="58.6" transform="rotate(-15 2758.1 1797.8)" stroke-width="4.5"/>
<ellipse cx="2760.9" cy="1800" rx="32.6" ry="53.2" transform="rotate(-15 2760.9 1800)" class="n"/>
<ellipse cx="2786.5" cy="1743.9" rx="17.7" ry="24.1" transform="rotate(-15 2786.5 1743.9)"/>
<ellipse cx="2787.2" cy="1744.6" rx="13.5" ry="19.5" transform="rotate(-15 2787.2 1744.6)"/>
<ellipse cx="2758.1" cy="1729.7" rx="7.1" ry="10.6" transform="rotate(-15 2758.1 1729.7)"/>
<ellipse cx="2825.5" cy="1793.6" rx="8.9" ry="14.2" transform="rotate(-15 2825.5 1793.6)"/>
<ellipse cx="2694.2" cy="1845" rx="7.1" ry="10.6" transform="rotate(-15 2694.2 1845)"/>
<ellipse cx="2733.3" cy="1866.3" rx="8.9" ry="12.4" transform="rotate(-15 2733.3 1866.3)"/>
<ellipse cx="2761.6" cy="1884.1" rx="7.8" ry="11.4" transform="rotate(-15 2761.6 1884.1)"/>
<ellipse cx="2782.9" cy="1882.3" rx="6.4" ry="8.9" transform="rotate(-15 2782.9 1882.3)"/>
<ellipse cx="2783.6" cy="1883" rx="9.9" ry="12.8" transform="rotate(-15 2783.6 1883)"/>
<path d="M2655.2,1829.1 C2657.5,1830.8 2666.1,1840.3 2669.4,1839.7 C2672.6,1839.1 2671.7,1829.1 2674.7,1825.5 C2677.7,1822 2682.1,1816.6 2687.1,1818.4 C2692.1,1820.2 2698.9,1831.4 2704.9,1836.2 C2710.8,1840.9 2714.9,1842.7 2722.6,1846.8 C2730.3,1850.9 2742.1,1857.4 2751,1861 C2759.9,1864.5 2768.7,1867.5 2775.8,1868.1 C2782.9,1868.7 2787.7,1862.8 2793.6,1864.5 C2799.5,1866.3 2808.4,1876.4 2811.3,1878.7"/>
<polyline points="2797.1,1871.6 2807.8,1885.8"/>
<polyline points="2806,1868.1 2809.5,1880.5"/>
</g>
<!-- 22_gasketC.svg -->
<g class="l" id="22_gasketC">
<path d="M2812.4,1107 C2814.3,1101.8 2820.2,1100.1 2824.2,1099.6 C2828.1,1099.1 2832.1,1100.8 2836,1104 C2840,1107.2 2844.9,1113.4 2847.8,1118.8 C2850.8,1124.2 2850.3,1129.6 2853.8,1136.5 C2857.2,1143.4 2862.6,1152.3 2868.5,1160.2 C2874.5,1168.1 2882.8,1175 2889.2,1183.9 C2895.6,1192.7 2901.1,1205 2907,1213.4 C2912.9,1221.8 2919.3,1229.2 2924.7,1234.1 C2930.1,1239 2935.3,1239 2939.5,1243 C2943.7,1246.9 2947.9,1252.8 2949.9,1257.8 C2951.8,1262.7 2952.6,1268.6 2951.3,1272.6 C2950.1,1276.5 2946.9,1279.5 2942.5,1281.4 C2938,1283.4 2928.7,1282.9 2924.7,1284.4 C2920.8,1285.9 2919.8,1287.3 2918.8,1290.3 C2917.8,1293.3 2920.8,1297.2 2918.8,1302.1 C2916.8,1307.1 2911.9,1315.2 2907,1319.9 C2902.1,1324.6 2896.1,1328.2 2889.2,1330.2 C2882.3,1332.2 2873.5,1332.9 2865.6,1331.7 C2857.7,1330.5 2848.8,1326 2841.9,1322.8 C2835,1319.6 2828.6,1314.4 2824.2,1312.5 C2819.8,1310.5 2818.3,1309.8 2815.3,1311 C2812.4,1312.2 2809.9,1318.4 2806.4,1319.9 C2803,1321.3 2798.6,1321.8 2794.6,1319.9 C2790.7,1317.9 2785.7,1313 2782.8,1308 C2779.8,1303.1 2777.4,1295.7 2776.9,1290.3 C2776.4,1284.9 2778.4,1279.5 2779.8,1275.5 C2781.3,1271.6 2785.3,1271.1 2785.7,1266.6 C2786.2,1262.2 2785.3,1256.8 2782.8,1248.9 C2780.3,1241 2773.9,1229.2 2771,1219.3 C2768,1209.5 2765.1,1199.1 2765.1,1189.8 C2765.1,1180.4 2767.5,1170.5 2771,1163.2 C2774.4,1155.8 2780.3,1149.9 2785.7,1145.4 C2791.2,1141 2799.1,1139 2803.5,1136.5 C2807.9,1134.1 2810.9,1135.6 2812.4,1130.6 C2813.8,1125.7 2810.4,1112.2 2812.4,1107Z"/>
<ellipse cx="2841.9" cy="1234.7" rx="57.7" ry="85.7" transform="rotate(-20 2841.9 1234.7)"/>
<ellipse cx="2842.5" cy="1235.3" rx="53.8" ry="81.9" transform="rotate(-20 2842.5 1235.3)" class="n"/>
<ellipse cx="2830.1" cy="1126.2" rx="5.9" ry="10.6" transform="rotate(-30 2830.1 1126.2)"/>
<ellipse cx="2930.6" cy="1262.2" rx="5.9" ry="10.6" transform="rotate(-30 2930.6 1262.2)"/>
<ellipse cx="2796.1" cy="1297.7" rx="5.9" ry="10.6" transform="rotate(-30 2796.1 1297.7)"/>
<path d="M2920.3,1293.3 C2919.5,1296.2 2918.6,1305.6 2915.8,1311 C2913.1,1316.4 2908.5,1322.1 2904,1325.8 C2899.6,1329.5 2891.7,1331.9 2889.2,1333.2"/>
</g>
<!-- 30_plate14014A.svg -->
<g class="l" transform="translate(2000,1400) scale(0.7097)" stroke-width="4.2">
<path d="M1270,325 C1275,305 1300,305 1315,320 C1335,345 1340,370 1338,400 C1340,460 1352,500 1355,540 C1358,565 1345,580 1330,575 C1312,568 1305,550 1310,525 C1322,500 1325,470 1315,430 C1305,390 1285,370 1272,345 Z"/>
<ellipse cx="1295" cy="343" rx="9" ry="13" transform="rotate(-20 1295 343)"/>
<ellipse cx="1328" cy="553" rx="8" ry="12" transform="rotate(-20 1328 553)"/>
<path d="M1280,322 C1300,318 1330,350 1332,400 C1334,460 1345,500 1348,535"/>
</g>

<!-- 40_loA.svg -->
<clipPath id="cp_40_loA"><path clip-rule="evenodd" d="M0,0H3200V4134H0Z M1450,3000H2000V3450H1450Z"/></clipPath>
<g class="l" id="40_loA" clip-path="url(#cp_40_loA)">
<path d="M1044.9,3185.2 C1047.7,3183.3 1053.2,3178.1 1061.5,3173.4 C1069.8,3168.7 1084.4,3162.8 1094.6,3156.9 C1104.9,3150.9 1117.5,3143.1 1123,3137.9 C1128.5,3132.8 1123.8,3129.7 1127.7,3126.1 C1131.7,3122.6 1140.4,3118.6 1146.7,3116.6 C1153,3114.7 1160.1,3118.6 1165.6,3114.3 C1171.1,3109.9 1177.8,3096.9 1179.8,3090.6 C1181.7,3084.3 1175.8,3080.8 1177.4,3076.4 C1179,3072.1 1184.1,3067.4 1189.2,3064.6 C1194.4,3061.8 1201.9,3061.8 1208.2,3059.9 C1214.5,3057.9 1221.6,3057.1 1227.1,3052.8 C1232.6,3048.4 1236.5,3039.4 1241.3,3033.9 C1246,3028.3 1250,3024.8 1255.5,3019.7 C1261,3014.5 1268.1,3007 1274.4,3003.1 C1280.7,2999.2 1287,2998 1293.3,2996 C1299.6,2994 1305.9,2994.4 1312.2,2991.3 C1318.5,2988.1 1324.9,2980.6 1331.2,2977.1 C1337.5,2973.5 1343.8,2973.9 1350.1,2970 C1356.4,2966 1361.9,2959.3 1369,2953.4 C1376.1,2947.5 1387.1,2940.4 1392.7,2934.5 C1398.2,2928.6 1397.4,2921.9 1402.1,2917.9 C1406.9,2914 1414.7,2912.8 1421.1,2910.9 C1427.4,2908.9 1432.9,2909.7 1440,2906.1 C1447.1,2902.6 1455,2894.7 1463.6,2889.6 C1472.3,2884.4 1481,2879.7 1492,2875.4 C1503.1,2871 1517.2,2867.9 1529.9,2863.5 C1542.5,2859.2 1558.2,2853.7 1567.7,2849.3 C1577.2,2845 1579.5,2840.3 1586.6,2837.5 C1593.7,2834.8 1602.4,2834.8 1610.3,2832.8 C1618.2,2830.8 1625.3,2828.8 1633.9,2825.7 C1642.6,2822.5 1649.7,2819 1662.3,2813.9 C1674.9,2808.7 1693.9,2801.3 1709.6,2794.9 C1725.4,2788.6 1741.2,2781.8 1756.9,2776 C1772.7,2770.3 1796.4,2763 1804.3,2760.4"/>
<path d="M1075.7,3182.9 C1081.2,3180.1 1097.8,3172.2 1108.8,3166.3 C1119.9,3160.4 1134,3152.9 1141.9,3147.4 C1149.8,3141.9 1150.6,3136.4 1156.1,3133.2 C1161.6,3130.1 1168.7,3132.4 1175,3128.5 C1181.4,3124.5 1190,3115.9 1194,3109.6 C1197.9,3103.2 1195.5,3095.4 1198.7,3090.6 C1201.9,3085.9 1206.6,3084.3 1212.9,3081.2 C1219.2,3078 1229.5,3076.4 1236.5,3071.7 C1243.6,3067 1250.7,3058.3 1255.5,3052.8 C1260.2,3047.3 1258.6,3043.3 1264.9,3038.6 C1271.2,3033.9 1283.9,3029.5 1293.3,3024.4 C1302.8,3019.3 1315.4,3013.4 1321.7,3007.8 C1328,3002.3 1324.9,2996.4 1331.2,2991.3 C1337.5,2986.2 1351.7,2980.6 1359.6,2977.1 C1367.4,2973.5 1371.4,2975.5 1378.5,2970 C1385.6,2964.5 1395.8,2950.7 1402.1,2944 C1408.4,2937.3 1409.2,2933.7 1416.3,2929.8 C1423.4,2925.8 1435.2,2925 1444.7,2920.3 C1454.2,2915.6 1463.6,2906.9 1473.1,2901.4 C1482.6,2895.9 1489.7,2891.9 1501.5,2887.2 C1513.3,2882.5 1531.4,2877.3 1544.1,2873 C1556.7,2868.7 1565.3,2865.9 1577.2,2861.2 C1589,2856.4 1600.8,2850.1 1615,2844.6 C1629.2,2839.1 1646.6,2834 1662.3,2828.1 C1678.1,2822.1 1693.9,2815.4 1709.6,2809.1 C1725.4,2802.8 1741.2,2796.3 1756.9,2790.2 C1772.7,2784.1 1796.4,2775.6 1804.3,2772.7"/>
<ellipse cx="1069.5" cy="3180.5" rx="10.4" ry="5.7" transform="rotate(-15 1069.5 3180.5)"/>
<ellipse cx="1150.4" cy="3123.7" rx="9.5" ry="4.7" transform="rotate(-15 1150.4 3123.7)"/>
<ellipse cx="1202" cy="3063.7" rx="10.4" ry="5.7" transform="rotate(-15 1202 3063.7)"/>
<ellipse cx="1285.3" cy="2999.3" rx="10.4" ry="5.7" transform="rotate(-15 1285.3 2999.3)"/>
<ellipse cx="1421.1" cy="2915.6" rx="11.8" ry="6.2" transform="rotate(-15 1421.1 2915.6)"/>
<ellipse cx="1598.5" cy="2838.9" rx="11.8" ry="6.2" transform="rotate(-15 1598.5 2838.9)"/>
<path d="M1044.9,3185.2 C1045.3,3188.4 1045.3,3196.3 1047.3,3204.2 C1049.3,3212.1 1053.6,3222.7 1056.8,3232.6 C1059.9,3242.4 1062.3,3258.6 1066.2,3263.3 C1070.2,3268 1073.3,3257.4 1080.4,3260.9 C1087.5,3264.5 1100.9,3275.1 1108.8,3284.6 C1116.7,3294.1 1119.9,3306.8 1127.7,3317.7 C1135.6,3328.6 1151.4,3344.5 1156.1,3349.9"/>
<path d="M1075.7,3194.7 C1077.3,3199.4 1081.2,3212.1 1085.2,3223.1 C1089.1,3234.1 1093,3246.7 1099.3,3260.9 C1105.7,3275.1 1115.9,3293.4 1123,3308.2 C1130.1,3323.1 1138.8,3342.9 1141.9,3349.9"/>
<polyline points="1056.8,3204.2 1071,3251.5"/>
<path d="M1118.3,3232.6 C1122.2,3232.6 1134.8,3230.2 1141.9,3232.6 C1149,3234.9 1156.1,3240.4 1160.9,3246.7 C1165.6,3253.1 1169.5,3263.3 1170.3,3270.4 C1171.1,3277.5 1166.4,3286.2 1165.6,3289.3"/>
<path d="M1113.5,3251.5 C1114.3,3254.6 1113.5,3265.7 1118.3,3270.4 C1123,3275.1 1135.6,3279.9 1141.9,3279.9 C1148.2,3279.9 1153.8,3272 1156.1,3270.4"/>
<polygon points="1094.6,3190 1120.6,3173.4 1198.7,3173.4 1210.5,3180.5 1189.2,3197.1 1160.9,3199.4 1118.3,3194.7"/>
<ellipse cx="1127.7" cy="3181.5" rx="13.2" ry="6.2" transform="rotate(-10 1127.7 3181.5)" stroke-width="4.5"/>
<ellipse cx="1172.7" cy="3182.9" rx="15.1" ry="6.6" transform="rotate(-10 1172.7 3182.9)"/>
<path d="M1194,3194.7 C1195.5,3199.4 1198.7,3215.2 1203.4,3223.1 C1208.2,3231 1215.3,3237.7 1222.4,3242 C1229.5,3246.4 1240.1,3249.1 1246,3249.1 C1251.9,3249.1 1255.5,3247.1 1257.8,3242 C1260.2,3236.9 1259.4,3224.7 1260.2,3218.4 C1261,3212.1 1262.2,3206.5 1262.6,3204.2"/>
<path d="M1208.2,3190 C1209.7,3194.7 1212.9,3210.5 1217.6,3218.4 C1222.4,3226.2 1230.2,3233.3 1236.5,3237.3 C1242.9,3241.2 1252.3,3241.2 1255.5,3242"/>
<path d="M1212.9,3187.6 C1214.6,3192.3 1218.6,3208.3 1223.3,3216 C1228,3223.6 1235.5,3230 1241.3,3233.5 C1247,3237 1255.1,3236.7 1257.8,3237.3"/>
<polyline points="1094.6,3194.7 1113.5,3251.5"/>
<polyline points="1160.9,3199.4 1179.8,3260.9 1198.7,3294.1"/>
<polyline points="1118.3,3194.7 1137.2,3256.2"/>
<polyline points="1189.2,3294.1 1203.4,3298.8 1227.1,3289.3"/>
<polygon points="1262.6,3201.8 1283.9,3187.6 1326.4,3182.9 1340.6,3192.3 1378.5,3187.6 1392.7,3197.1 1359.6,3216 1338.3,3208.9 1283.9,3206.5"/>
<ellipse cx="1300.4" cy="3193.3" rx="13.2" ry="6.2" transform="rotate(-10 1300.4 3193.3)"/>
<ellipse cx="1357.2" cy="3199.4" rx="10.4" ry="4.7" transform="rotate(-10 1357.2 3199.4)"/>
<polyline points="1326.4,3185.2 1338.3,3208.9"/>
<path d="M1283.9,3206.5 C1287,3217.2 1298,3251.9 1302.8,3270.4 C1307.5,3288.9 1309.1,3304.5 1312.2,3317.7 C1315.4,3331 1320.1,3344.5 1321.7,3349.9"/>
<path d="M1338.3,3208.9 C1340.2,3216 1346.5,3234.9 1350.1,3251.5 C1353.6,3268 1357.2,3291.8 1359.6,3308.2 C1361.9,3324.7 1363.5,3342.9 1364.3,3349.9"/>
<path d="M1359.6,3216 C1361.9,3224.3 1369.8,3248.7 1373.7,3265.7 C1377.7,3282.6 1381.6,3309 1383.2,3317.7"/>
<polyline points="1293.3,3246.7 1321.7,3242 1340.6,3251.5"/>
<path d="M1298,3265.7 C1295.7,3268.8 1289.4,3279.9 1283.9,3284.6 C1278.3,3289.3 1272.8,3291.7 1264.9,3294.1 C1257,3296.4 1245.2,3298.8 1236.5,3298.8 C1227.9,3298.8 1216.8,3294.8 1212.9,3294.1"/>
<polyline points="1392.7,3197.1 1482.6,3149.8 1506.2,3140.3 1558.2,3114.3"/>
<polygon points="1309.9,3083.5 1331.2,3074.1 1373.7,3074.1 1392.7,3081.2 1373.7,3095.4 1331.2,3097.7"/>
<ellipse cx="1347.7" cy="3084.9" rx="18.9" ry="7.1" transform="rotate(-10 1347.7 3084.9)"/>
<ellipse cx="1347.7" cy="3084.9" rx="14.2" ry="4.7" transform="rotate(-10 1347.7 3084.9)" class="n"/>
<path d="M1373.7,3095.4 C1375.3,3100.1 1378.5,3115.5 1383.2,3123.7 C1387.9,3132 1395,3140.3 1402.1,3145 C1409.2,3149.8 1420.3,3152.5 1425.8,3152.1 C1431.3,3151.7 1433.3,3148.2 1435.2,3142.7 C1437.2,3137.1 1436.8,3125.3 1437.6,3119 C1438.4,3112.7 1439.6,3107.2 1440,3104.8"/>
<path d="M1378.5,3081.2 C1380.1,3086.7 1383.2,3104.8 1387.9,3114.3 C1392.7,3123.7 1400.6,3132.4 1406.9,3137.9 C1413.2,3143.5 1422.6,3145.8 1425.8,3147.4"/>
<path d="M1384.2,3080.2 C1385.7,3085.5 1389,3103.1 1393.6,3111.9 C1398.2,3120.7 1405.8,3128.2 1411.6,3133.2 C1417.3,3138.2 1425.4,3140.3 1428.1,3141.7"/>
<polyline points="1312.2,3090.6 1331.2,3166.3 1340.6,3190"/>
<polyline points="1331.2,3097.7 1350.1,3171.1"/>
<polyline points="1340.6,3152.1 1350.1,3190"/>
<polygon points="1435.2,3100.1 1463.6,3083.5 1501.5,3081.2 1513.3,3090.6 1492,3102.5 1454.2,3104.8"/>
<ellipse cx="1480.2" cy="3092" rx="18" ry="6.6" transform="rotate(-10 1480.2 3092)"/>
<polyline points="1440,3104.8 1454.2,3152.1"/>
<polyline points="1492,3102.5 1510.9,3142.7"/>
<polyline points="1513.3,3090.6 1529.9,3128.5"/>
<polygon points="1248.4,3029.1 1274.4,3014.9 1312.2,3014.9 1326.4,3024.4 1302.8,3038.6 1264.9,3038.6"/>
<ellipse cx="1288.6" cy="3025.8" rx="21.3" ry="8" transform="rotate(-10 1288.6 3025.8)"/>
<ellipse cx="1288.6" cy="3025.8" rx="15.6" ry="5.2" transform="rotate(-10 1288.6 3025.8)" class="n"/>
<path d="M1302.8,3038.6 C1299.6,3041 1290.2,3049.6 1283.9,3052.8 C1277.5,3055.9 1268.1,3056.7 1264.9,3057.5"/>
<polygon points="1189.2,3076.4 1208.2,3069.3 1246,3069.3 1257.8,3076.4 1236.5,3090.6 1203.4,3088.3"/>
<ellipse cx="1222.4" cy="3076.4" rx="18.9" ry="7.1" transform="rotate(-10 1222.4 3076.4)"/>
<path d="M1236.5,3090.6 C1239.7,3093.8 1247.6,3104.8 1255.5,3109.6 C1263.4,3114.3 1276,3118.2 1283.9,3119 C1291.7,3119.8 1299.6,3115.1 1302.8,3114.3"/>
<path d="M1257.8,3076.4 C1260.6,3079.6 1266.9,3090.6 1274.4,3095.4 C1281.9,3100.1 1298,3103.2 1302.8,3104.8"/>
<polyline points="1203.4,3088.3 1217.6,3128.5 1227.1,3156.9"/>
<polyline points="1165.6,3128.5 1189.2,3128.5 1208.2,3142.7 1217.6,3175.8"/>
<polyline points="1160.9,3142.7 1170.3,3171.1"/>
<polygon points="1489.7,2981.8 1520.4,2970 1553.5,2968.6 1565.3,2977.1 1544.1,2988.9 1501.5,2991.3"/>
<ellipse cx="1525.1" cy="2980.4" rx="18" ry="7.1" transform="rotate(-10 1525.1 2980.4)"/>
<ellipse cx="1525.1" cy="2980.4" rx="13.2" ry="4.7" transform="rotate(-10 1525.1 2980.4)" class="n"/>
<path d="M1544.1,2988.9 C1545.6,2993.2 1548.8,3006.7 1553.5,3014.9 C1558.2,3023.2 1565.3,3033.5 1572.4,3038.6 C1579.5,3043.7 1589.8,3046.5 1596.1,3045.7 C1602.4,3044.9 1607.1,3040.6 1610.3,3033.9 C1613.4,3027.2 1614.2,3010.2 1615,3005.5"/>
<path d="M1551.2,2981.8 C1553.1,2987.3 1557.9,3006.3 1563,3014.9 C1568.1,3023.6 1575.6,3029.9 1581.9,3033.9 C1588.2,3037.8 1597.7,3037.8 1600.8,3038.6"/>
<path d="M1557.3,2980.9 C1559.2,2985.9 1563.8,3003.3 1568.7,3011.1 C1573.5,3019 1580.9,3024.7 1586.6,3028.2 C1592.4,3031.6 1600.4,3031.3 1603.2,3032"/>
<path d="M1489.7,2986.5 C1492.8,2998.4 1503.4,3037 1508.6,3057.5 C1513.7,3078 1516.1,3098.5 1520.4,3109.6 C1524.7,3120.6 1532.2,3121.4 1534.6,3123.7"/>
<polyline points="1501.5,2991.3 1520.4,3052.8"/>
<polyline points="1520.4,2996 1544.1,3109.6"/>
<polygon points="1615,2996 1643.4,2984.2 1662.3,2981.8 1695.4,2996 1738,2988.9 1756.9,2996 1738,3014.9 1709.6,3024.4 1700.2,3014.9 1633.9,3007.8"/>
<ellipse cx="1655.2" cy="2993.6" rx="16.6" ry="6.6" transform="rotate(-10 1655.2 2993.6)"/>
<ellipse cx="1726.2" cy="2996" rx="13.2" ry="5.7" transform="rotate(-10 1726.2 2996)"/>
<ellipse cx="1723.8" cy="3014" rx="13.2" ry="5.7" transform="rotate(-10 1723.8 3014)"/>
<polyline points="1619.8,3003.1 1633.9,3052.8 1643.4,3081.2"/>
<polyline points="1700.2,3014.9 1709.6,3052.8 1738,3109.6"/>
<polyline points="1756.9,3000.7 1785.3,3100.1"/>
<polyline points="1633.9,3007.8 1652.9,3071.7"/>
<polygon points="1667.1,2882.5 1695.4,2870.6 1728.6,2868.3 1742.8,2877.7 1719.1,2889.6 1681.3,2891.9"/>
<ellipse cx="1700.2" cy="2878.7" rx="18.9" ry="7.6" transform="rotate(-10 1700.2 2878.7)"/>
<ellipse cx="1700.2" cy="2878.7" rx="14.2" ry="5.2" transform="rotate(-10 1700.2 2878.7)" class="n"/>
<path d="M1719.1,2889.6 C1720.7,2893.9 1723.8,2907.3 1728.6,2915.6 C1733.3,2923.9 1739.6,2933.7 1747.5,2939.2 C1755.4,2944.8 1768,2949.5 1775.9,2948.7 C1783.8,2947.9 1790.1,2940.8 1794.8,2934.5 C1799.5,2928.2 1802.7,2914.8 1804.3,2910.9"/>
<path d="M1730.9,2882.5 C1732.1,2887.2 1733.7,2902.6 1738,2910.9 C1742.4,2919.1 1749.9,2927.4 1756.9,2932.1 C1764,2936.9 1776.7,2938.1 1780.6,2939.2"/>
<path d="M1737.1,2881.5 C1738.3,2886 1740.5,2901.1 1744.6,2908.5 C1748.7,2915.9 1755.3,2922 1761.7,2926 C1768.1,2929.9 1779.4,2931.1 1783,2932.1"/>
<polyline points="1669.4,2889.6 1681.3,2939.2 1695.4,2977.1"/>
<polyline points="1681.3,2891.9 1700.2,2967.6"/>
<polyline points="1660,2837.5 1671.8,2882.5"/>
<polyline points="1657.6,2835.2 1681.3,2825.7 1709.6,2818.6 1719.1,2835.2 1728.6,2868.3"/>
<polyline points="1695.4,2939.2 1697.8,2967.6"/>
<polyline points="1326.4,2991.3 1354.8,3014.9 1425.8,3081.2 1440,3104.8"/>
<polyline points="1350.1,2986.5 1378.5,2996 1473.1,3076.4 1492,3081.2"/>
<path d="M1392.7,2972.4 C1395.8,2970 1404.5,2959.7 1411.6,2958.2 C1418.7,2956.6 1429.7,2958.2 1435.2,2962.9 C1440.8,2967.6 1442.3,2977.9 1444.7,2986.5 C1447.1,2995.2 1448.6,3010.2 1449.4,3014.9"/>
<path d="M1416.3,3010.2 C1421.8,3012.2 1437.6,3020.5 1449.4,3022 C1461.3,3023.6 1481,3020.1 1487.3,3019.7"/>
<path d="M1520.4,2894.3 C1522.8,2898.6 1529.9,2914.4 1534.6,2920.3 C1539.3,2926.2 1539.3,2921.9 1548.8,2929.8 C1558.2,2937.7 1580.3,2956.6 1591.4,2967.6 C1602.4,2978.7 1611.1,2991.3 1615,2996"/>
<polyline points="1544.1,2901.4 1586.6,2891.9 1591.4,2910.9 1662.3,2915.6 1667.1,2910.9"/>
<polyline points="1591.4,2887.2 1596.1,2908.5"/>
<polyline points="1444.7,2906.1 1458.9,2939.2 1468.4,2958.2"/>
<polyline points="1477.8,2891.9 1492,2939.2"/>
<polyline points="1402.1,2939.2 1411.6,2958.2"/>
<polyline points="1473.1,2939.2 1492,2967.6 1501.5,2965.3"/>
<polyline points="1454.2,2981.8 1487.3,2972.4"/>
<polyline points="1345.4,2996 1352.5,2988.9 1359.6,2993.6"/>
<polyline points="1572.4,3090.6 1615,3067 1681.3,3033.9 1804.3,2976.1" stroke-width="4.5"/>
<polyline points="1567.7,3100.1 1581.9,3109.6 1662.3,3107.2 1686,3100.1 1804.3,3081.2"/>
<polygon points="1586.6,3088.3 1629.2,3076.4 1681.3,3076.4 1686,3090.6 1662.3,3102.5 1591.4,3100.1"/>
<ellipse cx="1610.3" cy="3088.3" rx="9.5" ry="4.3" transform="rotate(-10 1610.3 3088.3)"/>
<ellipse cx="1657.6" cy="3086.8" rx="9.5" ry="4.3" transform="rotate(-10 1657.6 3086.8)"/>
<polyline points="1558.2,3114.3 1586.6,3114.3 1600.8,3123.7 1567.7,3142.7 1553.5,3152.1"/>
<path d="M1624.5,3123.7 C1625.3,3126.9 1625.3,3137.1 1629.2,3142.7 C1633.2,3148.2 1641.8,3155.3 1648.1,3156.9 C1654.4,3158.4 1662.3,3156.1 1667.1,3152.1 C1671.8,3148.2 1676.5,3139.1 1676.5,3133.2 C1676.5,3127.3 1668.6,3119.4 1667.1,3116.6" stroke-width="4.5"/>
<path d="M1631.6,3126.1 C1632.4,3128.5 1633.4,3136.4 1636.3,3140.3 C1639.2,3144.2 1644.7,3148.7 1649.1,3149.8 C1653.4,3150.8 1658.9,3149.2 1662.3,3146.5 C1665.7,3143.7 1668.2,3135.4 1669.4,3133.2"/>
<polyline points="1558.2,3152.1 1567.7,3175.8 1572.4,3147.4 1615,3123.7"/>
<polyline points="1572.4,3161.6 1624.5,3133.2"/>
<polyline points="1501.5,3171.1 1558.2,3142.7"/>
<polyline points="1506.2,3168.7 1544.1,3151.2" stroke-width="4.5"/>
<path d="M1359.6,3216 C1361.1,3221.1 1370.2,3239.3 1369,3246.7 C1367.8,3254.2 1354.8,3254.6 1352.5,3260.9 C1350.1,3267.2 1351.3,3279.1 1354.8,3284.6 C1358.4,3290.1 1369.8,3288.5 1373.7,3294.1 C1377.7,3299.6 1377.7,3313.8 1378.5,3317.7"/>
<ellipse cx="1364.3" cy="3268" rx="8.5" ry="13.2" transform="rotate(-10 1364.3 3268)"/>
<ellipse cx="1376.1" cy="3303.5" rx="6.2" ry="9.5" transform="rotate(-10 1376.1 3303.5)" fill="#000"/>
<ellipse cx="1376.1" cy="3303.5" rx="9" ry="13.2" transform="rotate(-10 1376.1 3303.5)"/>
<polyline points="1392.7,3197.1 1402.1,3223.1"/>
<polyline points="1364.3,3242 1558.2,3147.4"/>
<polyline points="1378.5,3294.1 1652.9,3166.3"/>
<polyline points="1402.1,3279.9 1662.3,3152.1"/>
<path d="M1532.2,3185.2 C1533,3179.3 1538.9,3176.6 1544.1,3175.8 C1549.2,3175 1559,3175.8 1563,3180.5 C1566.9,3185.2 1568.5,3197.9 1567.7,3204.2 C1566.9,3210.5 1563,3217.2 1558.2,3218.4 C1553.5,3219.5 1543.7,3216.8 1539.3,3211.3 C1535,3205.7 1531.4,3191.2 1532.2,3185.2Z"/>
<ellipse cx="1551.2" cy="3197.1" rx="7.1" ry="10.4" transform="rotate(-10 1551.2 3197.1)"/>
<path d="M1425.8,3251.5 C1426.6,3247.5 1427.4,3233.7 1430.5,3227.8 C1433.7,3221.9 1437.6,3219.2 1444.7,3216 C1451.8,3212.8 1463.6,3208.5 1473.1,3208.9 C1482.6,3209.3 1495.2,3212.8 1501.5,3218.4 C1507.8,3223.9 1512.5,3236.5 1510.9,3242 C1509.4,3247.5 1495.2,3249.9 1492,3251.5"/>
<path d="M1473.1,3270.4 C1477.8,3269.6 1494.4,3268.8 1501.5,3265.7 C1508.6,3262.5 1514.1,3257.8 1515.7,3251.5 C1517.2,3245.2 1511.7,3231.8 1510.9,3227.8"/>
<polyline points="1425.8,3251.5 1425.8,3284.6"/>
<polyline points="1369,3317.7 1402.1,3313 1440,3294.1"/>
<polyline points="1250.7,3298.8 1283.9,3294.1"/>
<polyline points="1473.1,3275.1 1525.1,3251.5"/>
<polyline points="1581.9,3242 1596.1,3284.6"/>
<polyline points="1605.6,3227.8 1624.5,3279.9"/>
<polyline points="1643.4,3218.4 1667.1,3279.9"/>
<polyline points="1652.9,3185.2 1657.6,3199.4"/>
<polyline points="1700.2,3204.2 1714.4,3242"/>
<path d="M1804.3,3251.5 C1799.5,3249.9 1786.9,3243.6 1775.9,3242 C1764.8,3240.4 1748.3,3240.4 1738,3242 C1727.8,3243.6 1719.9,3246.7 1714.4,3251.5 C1708.9,3256.2 1705.7,3260.9 1704.9,3270.4 C1704.1,3279.9 1705.7,3295 1709.6,3308.2 C1713.6,3321.5 1725.4,3342.9 1728.6,3349.9"/>
<path d="M1804.3,3258.6 C1799.5,3257 1786.5,3250.7 1775.9,3249.1 C1765.2,3247.5 1749.9,3247.5 1740.4,3249.1 C1730.9,3250.7 1723.8,3254.6 1719.1,3258.6 C1714.4,3262.5 1712.4,3264.5 1712,3272.8 C1711.6,3281 1712.8,3295.4 1716.7,3308.2 C1720.7,3321.1 1732.5,3342.9 1735.7,3349.9"/>
<path d="M1804.3,3275.1 C1800.3,3273.6 1788.5,3266.5 1780.6,3265.7 C1772.7,3264.9 1762.5,3265.7 1756.9,3270.4 C1751.4,3275.1 1747.5,3280.8 1747.5,3294.1 C1747.5,3307.3 1755.4,3340.6 1756.9,3349.9"/>
<polyline points="1539.3,3317.7 1567.7,3301.2"/>
<path d="M1544.1,3349.9 C1544.8,3346.1 1544.8,3332.5 1548.8,3327.2 C1552.7,3321.8 1564.6,3319.3 1567.7,3317.7"/>
<polyline points="1605.6,3349.9 1615,3324.8"/>
<ellipse cx="1619.8" cy="3336.6" rx="9.5" ry="13.2" transform="rotate(-10 1619.8 3336.6)"/>
<ellipse cx="1127.7" cy="3341.4" rx="8.5" ry="11.8" transform="rotate(-10 1127.7 3341.4)"/>
<path d="M1227.1,3308.2 L1246,3349.9"/>
<path d="M1179.8,3298.8 C1181.4,3303.5 1183.7,3318.7 1189.2,3327.2 C1194.8,3335.7 1208.9,3346.1 1212.9,3349.9"/>
<polyline points="1293.3,3317.7 1326.4,3349.9"/>
<polyline points="1756.9,3232.6 1775.9,3227.8"/>
<polyline points="1761.7,3232.6 1764,3239.7"/>
<polyline points="1709.6,3128.5 1738,3119 1804.3,3123.7"/>
<polyline points="1738,3142.7 1756.9,3175.8 1785.3,3223.1"/>
<polyline points="1671.8,3175.8 1690.7,3166.3 1709.6,3147.4"/>
</g>
<!-- 41_loB.svg -->
<clipPath id="cp_41_loB"><path clip-rule="evenodd" d="M0,0H3200V4134H0Z M1450,3000H2000V3450H1450Z M2000,2950H2600V3400H2000Z"/></clipPath>
<g class="l" id="41_loB" clip-path="url(#cp_41_loB)">
<polyline points="1979.8,3076.4 2102.8,3007.8 2225.8,2934.5 2358.2,2861.2 2481.3,2785.5 2500.2,2783.1"/>
<path d="M2500.2,2783.1 C2501.8,2785.5 2506.5,2789.4 2509.6,2797.3 C2512.8,2805.2 2516.3,2817.8 2519.1,2830.4 C2521.9,2843 2527.8,2863.5 2526.2,2873 C2524.6,2882.5 2514,2884 2509.6,2887.2 C2505.3,2890.4 2501.8,2891.1 2500.2,2891.9"/>
<polyline points="2012.9,3062.2 2083.9,3024.4 2140.6,2991.3 2202.1,2958.2 2273.1,2925 2381.9,2844.6 2462.3,2802"/>
<ellipse cx="1878.1" cy="3102.5" rx="14.2" ry="6.2" transform="rotate(-15 1878.1 3102.5)" fill="#000"/>
<ellipse cx="1988.3" cy="3076.4" rx="14.2" ry="6.2" transform="rotate(-15 1988.3 3076.4)" fill="#000"/>
<ellipse cx="2107.5" cy="3007.8" rx="14.2" ry="6.2" transform="rotate(-15 2107.5 3007.8)" fill="#000"/>
<ellipse cx="2235.2" cy="2931.2" rx="14.2" ry="6.2" transform="rotate(-15 2235.2 2931.2)" fill="#000"/>
<ellipse cx="2358.2" cy="2863.5" rx="14.2" ry="6.2" transform="rotate(-15 2358.2 2863.5)" fill="#000"/>
<ellipse cx="2483.6" cy="2797.3" rx="14.2" ry="6.2" transform="rotate(-15 2483.6 2797.3)" fill="#000"/>
<ellipse cx="2254.2" cy="2900.4" rx="15.1" ry="6.6" transform="rotate(-15 2254.2 2900.4)"/>
<path d="M2500.2,2891.9 C2497,2893.5 2487.6,2899 2481.3,2901.4 C2474.9,2903.8 2467.8,2907.7 2462.3,2906.1 C2456.8,2904.5 2450.5,2897.4 2448.1,2891.9 C2445.8,2886.4 2445.8,2878.9 2448.1,2873 C2450.5,2867.1 2456,2858.4 2462.3,2856.4 C2468.6,2854.5 2482,2860.4 2486,2861.2"/>
<polyline points="2500.2,2863.5 2509.6,2854.1 2523.8,2877.7 2504.9,2891.9 2497.8,2882.5"/>
<path d="M2509.6,2891.9 C2508.9,2899.8 2506.5,2923.5 2504.9,2939.2 C2503.3,2955 2498.6,2975.5 2500.2,2986.5 C2501.8,2997.6 2511.2,2998.4 2514.4,3005.5 C2517.5,3012.6 2520.7,3021.2 2519.1,3029.1 C2517.5,3037 2511.2,3048 2504.9,3052.8 C2498.6,3057.5 2488.4,3056.7 2481.3,3057.5 C2474.2,3058.3 2468.6,3058.3 2462.3,3057.5 C2456,3056.7 2447.3,3056.7 2443.4,3052.8 C2439.5,3048.8 2437.9,3040.2 2438.7,3033.9 C2439.5,3027.5 2441.8,3019.7 2448.1,3014.9 C2454.4,3010.2 2467.8,3007.8 2476.5,3005.5 C2485.2,3003.1 2496.2,3001.5 2500.2,3000.7"/>
<path d="M2500.2,3052.8 C2499.4,3057.5 2497,3068.5 2495.4,3081.2 C2493.9,3093.8 2489.9,3112.7 2490.7,3128.5 C2491.5,3144.2 2497,3163.2 2500.2,3175.8 C2503.3,3188.4 2504.9,3196.3 2509.6,3204.2 C2514.4,3212.1 2525,3216 2528.6,3223.1 C2532.1,3230.2 2534.1,3240.4 2530.9,3246.7 C2527.8,3253.1 2517.9,3258.2 2509.6,3260.9 C2501.4,3263.7 2489.1,3264.1 2481.3,3263.3 C2473.4,3262.5 2467.8,3260.5 2462.3,3256.2 C2456.8,3251.9 2448.9,3243.6 2448.1,3237.3 C2447.3,3231 2447.3,3223.9 2457.6,3218.4 C2467.8,3212.8 2501,3206.5 2509.6,3204.2"/>
<path d="M2481.3,3263.3 C2480.5,3268.4 2479.7,3279.6 2476.5,3294.1 C2473.4,3308.5 2464.7,3340.6 2462.3,3349.9"/>
<path d="M2509.6,3260.9 C2508.9,3266.5 2507.3,3279.2 2504.9,3294.1 C2502.5,3308.9 2497,3340.6 2495.4,3349.9"/>
<path d="M2490.7,2901.4 C2489.9,2909.3 2487.6,2932.9 2486,2948.7 C2484.4,2964.5 2482,2988.1 2481.3,2996"/>
<path d="M2481.3,3057.5 C2479.7,3063 2472.6,3077.2 2471.8,3090.6 C2471,3104 2474.2,3123.7 2476.5,3137.9 C2478.9,3152.1 2489.1,3162.4 2486,3175.8 C2482.8,3189.2 2462.3,3211.3 2457.6,3218.4"/>
<path d="M2471.8,3057.5 C2471,3061.5 2467.1,3069.3 2467.1,3081.2 C2467.1,3093 2469.4,3114.3 2471.8,3128.5 C2474.2,3142.7 2479.7,3160 2481.3,3166.3"/>
<polyline points="2452.9,2830.4 2457.6,2844.6"/>
<polyline points="2433.9,2835.2 2471.8,2821"/>
<polyline points="2476.5,2858.8 2481.3,2868.3"/>
<path d="M2079.1,3090.6 C2081.5,3096.9 2088.6,3114.3 2093.3,3128.5 C2098,3142.7 2104.4,3160 2107.5,3175.8 C2110.7,3191.6 2112.2,3207.3 2112.2,3223.1 C2112.2,3238.9 2109.1,3254.6 2107.5,3270.4 C2105.9,3286.2 2102.8,3304.5 2102.8,3317.7 C2102.8,3331 2106.7,3344.5 2107.5,3349.9" stroke-width="4.5"/>
<path d="M2089.5,3088.3 C2092.1,3095 2100.2,3113.9 2105.1,3128.5 C2110.1,3143.1 2116.2,3160 2119.3,3175.8 C2122.5,3191.6 2124.1,3207.3 2124.1,3223.1 C2124.1,3238.9 2120.9,3254.6 2119.3,3270.4 C2117.8,3286.2 2114.6,3304.5 2114.6,3317.7 C2114.6,3331 2118.5,3344.5 2119.3,3349.9"/>
<path d="M2140.6,3076.4 C2143,3085.1 2150.9,3111.9 2154.8,3128.5 C2158.8,3145 2163.5,3160 2164.3,3175.8 C2165.1,3191.6 2161.1,3207.3 2159.6,3223.1 C2158,3238.9 2154,3254.6 2154.8,3270.4 C2155.6,3286.2 2161.1,3304.5 2164.3,3317.7 C2167.4,3331 2172.2,3344.5 2173.7,3349.9" stroke-width="4.5"/>
<path d="M2152.5,3076.4 C2154.8,3085.1 2162.7,3111.9 2166.6,3128.5 C2170.6,3145 2175.3,3160 2176.1,3175.8 C2176.9,3191.6 2173,3207.3 2171.4,3223.1 C2169.8,3238.9 2165.9,3254.6 2166.6,3270.4 C2167.4,3286.2 2173,3304.5 2176.1,3317.7 C2179.3,3331 2184,3344.5 2185.6,3349.9"/>
<path d="M2197.4,3081.2 C2199.8,3087.5 2208.4,3104.8 2211.6,3119 C2214.7,3133.2 2217.1,3149 2216.3,3166.3 C2215.5,3183.7 2207.6,3205.7 2206.9,3223.1 C2206.1,3240.4 2208.4,3254.6 2211.6,3270.4 C2214.7,3286.2 2221.8,3304.5 2225.8,3317.7 C2229.7,3331 2233.7,3344.5 2235.2,3349.9" stroke-width="4.5"/>
<path d="M2207.8,3081.2 C2210.3,3087.5 2219.2,3104.8 2222.5,3119 C2225.7,3133.2 2227.9,3149 2227.2,3166.3 C2226.5,3183.7 2218.9,3205.7 2218.2,3223.1 C2217.5,3240.4 2219.8,3254.6 2222.9,3270.4 C2226.1,3286.2 2233.2,3304.5 2237.1,3317.7 C2241.1,3331 2245,3344.5 2246.6,3349.9"/>
<path d="M2195,3083.5 C2195.8,3082.3 2197.8,3076.8 2199.8,3076.4 C2201.7,3076 2205.7,3080.4 2206.9,3081.2"/>
<path d="M2249.4,3038.6 C2251.8,3045.7 2260.5,3066.2 2263.6,3081.2 C2266.8,3096.1 2269.2,3111.1 2268.4,3128.5 C2267.6,3145.8 2258.9,3165.5 2258.9,3185.2 C2258.9,3205 2263.6,3226.2 2268.4,3246.7 C2273.1,3267.2 2282.6,3291.1 2287.3,3308.2 C2292,3325.4 2295.2,3342.9 2296.7,3349.9" stroke-width="4.5"/>
<path d="M2259.8,3038.6 C2262.3,3045.7 2271.3,3066.2 2274.5,3081.2 C2277.7,3096.1 2280,3111.1 2279.2,3128.5 C2278.5,3145.8 2270.2,3165.5 2270.3,3185.2 C2270.3,3205 2275.1,3226.2 2279.7,3246.7 C2284.4,3267.2 2293.5,3291.1 2298.2,3308.2 C2302.8,3325.4 2306.1,3342.9 2307.6,3349.9"/>
<path d="M2301.5,3076.4 C2300.7,3085.1 2299.1,3111.9 2296.7,3128.5 C2294.4,3145 2287.3,3158.4 2287.3,3175.8 C2287.3,3193.1 2292.8,3215.2 2296.7,3232.6 C2300.7,3249.9 2307,3265.7 2310.9,3279.9 C2314.9,3294.1 2318.8,3311.4 2320.4,3317.7" stroke-width="4.5"/>
<path d="M2313.3,3076.4 C2312.4,3085.1 2310.5,3111.9 2308.1,3128.5 C2305.7,3145 2299.1,3158.4 2299.1,3175.8 C2299.1,3193.1 2304.3,3215.2 2308.1,3232.6 C2311.9,3249.9 2317.9,3266.1 2321.8,3279.9 C2325.8,3293.7 2330.1,3309.4 2331.8,3315.3"/>
<path d="M2358.2,3029.1 C2359,3037.8 2363.8,3063 2363,3081.2 C2362.2,3099.3 2353.5,3119 2353.5,3137.9 C2353.5,3156.9 2358.2,3177.4 2363,3194.7 C2367.7,3212.1 2376.4,3227.8 2381.9,3242 C2387.4,3256.2 2394.5,3267.2 2396.1,3279.9 C2397.7,3292.5 2391.4,3306 2391.4,3317.7 C2391.4,3329.4 2395.3,3344.5 2396.1,3349.9" stroke-width="4.5"/>
<path d="M2370.1,3029.1 C2370.9,3037.8 2375.6,3063 2374.8,3081.2 C2374,3099.3 2365.3,3119 2365.3,3137.9 C2365.3,3156.9 2370.2,3177.4 2374.8,3194.7 C2379.4,3212.1 2387.3,3227.8 2392.8,3242 C2398.2,3256.2 2405.7,3267.2 2407.5,3279.9 C2409.2,3292.5 2403.1,3306 2403.2,3317.7 C2403.3,3329.4 2407.1,3344.5 2407.9,3349.9"/>
<path d="M2405.6,2873 C2407.1,2884 2412.7,2915.6 2415,2939.2 C2417.4,2962.9 2420.5,2991.3 2419.8,3014.9 C2419,3038.6 2411.1,3060.7 2410.3,3081.2 C2409.5,3101.7 2411.1,3119 2415,3137.9 C2419,3156.9 2428.4,3178.1 2433.9,3194.7 C2439.5,3211.3 2445.8,3230.2 2448.1,3237.3" stroke-width="4.5"/>
<path d="M2392.3,2877.7 C2394.1,2888 2400.6,2916.4 2403.2,2939.2 C2405.8,2962.1 2408.6,2991.3 2407.9,3014.9 C2407.2,3038.6 2399.6,3060.7 2398.9,3081.2 C2398.2,3101.7 2399.7,3119 2403.7,3137.9 C2407.6,3156.9 2417.1,3178.1 2422.6,3194.7 C2428.1,3211.3 2434.4,3230.2 2436.8,3237.3"/>
<polyline points="2292,3081.2 2363,3038.6 2415,3010.2" stroke-width="4.5"/>
<polyline points="2296.7,3088.3 2365.3,3047.1 2415,3018.7"/>
<polyline points="2022.4,3242 2107.5,3194.7 2211.6,3137.9 2268.4,3104.8" stroke-width="4.5"/>
<polyline points="2027.1,3249.1 2109.9,3202.7 2214,3146 2268.4,3113.3"/>
<polyline points="2060.2,3279.9 2102.8,3256.2 2164.3,3218.4 2268.4,3161.6 2358.2,3114.3" stroke-width="4.5"/>
<polyline points="2064.9,3287 2107.5,3263.3 2168.1,3225.9 2268.4,3170.1"/>
<polyline points="2169,3341.4 2225.8,3313 2277.8,3284.6" stroke-width="4.5"/>
<polyline points="2325.1,3313 2452.9,3246.7" stroke-width="4.5"/>
<polyline points="2329.9,3320.1 2455.2,3255.3"/>
<polyline points="2211.6,3349.9 2277.8,3313"/>
<polyline points="1800,2778.4 1828.4,2764.2 1918.3,2764.2 1927.7,2771.3 1894.6,2787.8 1866.2,2783.1 1847.3,2792.6 1814.2,2790.2 1800,2787.8"/>
<ellipse cx="1842.6" cy="2773.7" rx="13.2" ry="5.7" transform="rotate(-10 1842.6 2773.7)"/>
<ellipse cx="1878.1" cy="2779.3" rx="16.6" ry="6.6" transform="rotate(-10 1878.1 2779.3)"/>
<ellipse cx="1837.8" cy="2758.5" rx="13.2" ry="4.7" transform="rotate(-10 1837.8 2758.5)"/>
<path d="M1894.6,2787.8 C1897,2792.6 1902.5,2807.6 1908.8,2816.2 C1915.1,2824.9 1924.6,2835.2 1932.5,2839.9 C1940.4,2844.6 1950.6,2846.2 1956.1,2844.6 C1961.6,2843 1963.6,2838.3 1965.6,2830.4 C1967.6,2822.5 1967.6,2802.8 1967.9,2797.3"/>
<path d="M1901.7,2778.4 C1904.5,2783.9 1912,2802.4 1918.3,2811.5 C1924.6,2820.6 1932.5,2828.5 1939.6,2832.8 C1946.7,2837.1 1957.3,2836.7 1960.9,2837.5"/>
<polyline points="1814.2,2790.2 1833.1,2863.5 1847.3,2877.7"/>
<polyline points="1847.3,2792.6 1866.2,2868.3"/>
<polyline points="1866.2,2783.1 1889.9,2873"/>
<path d="M1965.6,2797.3 C1969.5,2794.9 1979,2786.3 1989.2,2783.1 C1999.5,2780 2018.4,2777.6 2027.1,2778.4 C2035.8,2779.2 2037.3,2784.7 2041.3,2787.8 C2045.2,2791 2044.4,2796.9 2050.7,2797.3 C2057,2797.7 2072,2790.2 2079.1,2790.2 C2086.2,2790.2 2090.2,2793.8 2093.3,2797.3 C2096.5,2800.9 2099.6,2806.8 2098,2811.5 C2096.5,2816.2 2089.4,2822.1 2083.9,2825.7 C2078.3,2829.2 2069.3,2829.6 2064.9,2832.8 C2060.6,2835.9 2058.6,2839.5 2057.8,2844.6 C2057,2849.7 2059.8,2860.4 2060.2,2863.5"/>
<ellipse cx="2008.2" cy="2786.9" rx="18.9" ry="7.6" transform="rotate(-10 2008.2 2786.9)"/>
<ellipse cx="2008.2" cy="2786.9" rx="14.2" ry="5.2" transform="rotate(-10 2008.2 2786.9)" class="n"/>
<path d="M1975,2802 C1979,2817 1992.4,2867.5 1998.7,2891.9 C2005,2916.4 2008.9,2936.9 2012.9,2948.7 C2016.8,2960.5 2020.8,2960.5 2022.4,2962.9"/>
<path d="M1989.2,2792.6 C1992.4,2806 2001.9,2848.6 2008.2,2873 C2014.5,2897.4 2023.9,2928.2 2027.1,2939.2"/>
<path d="M2027.1,2797.3 C2028.7,2805.2 2035.8,2828.8 2036.5,2844.6 C2037.3,2860.4 2028.7,2880.9 2031.8,2891.9 C2035,2903 2051.5,2907.7 2055.5,2910.9"/>
<path d="M2057.8,2844.6 C2059,2852.5 2065.3,2876.2 2064.9,2891.9 C2064.5,2907.7 2061.8,2928.2 2055.5,2939.2 C2049.2,2950.3 2031.8,2955 2027.1,2958.2"/>
<path d="M1800,2891.9 C1803.2,2889.6 1809.5,2880.1 1818.9,2877.7 C1828.4,2875.4 1848.1,2876.6 1856.8,2877.7 C1865.4,2878.9 1862.3,2884.8 1871,2884.8 C1879.6,2884.8 1893.8,2879.7 1908.8,2877.7 C1923.8,2875.8 1949.8,2874.2 1960.9,2873 C1971.9,2871.8 1971.9,2869.1 1975,2870.6 C1978.2,2872.2 1982.9,2878.1 1979.8,2882.5 C1976.6,2886.8 1965.6,2893.5 1956.1,2896.7 C1946.7,2899.8 1936.4,2895.9 1923,2901.4 C1909.6,2906.9 1885.9,2923.9 1875.7,2929.8 C1865.4,2935.7 1870.2,2933.7 1861.5,2936.9 C1852.8,2940 1831.5,2947.5 1823.7,2948.7 C1815.8,2949.9 1818.1,2944 1814.2,2944 C1810.3,2944 1802.4,2947.9 1800,2948.7"/>
<ellipse cx="1834.1" cy="2887.2" rx="18" ry="7.1" transform="rotate(-10 1834.1 2887.2)"/>
<ellipse cx="1834.1" cy="2887.2" rx="13.2" ry="4.7" transform="rotate(-10 1834.1 2887.2)" class="n"/>
<ellipse cx="1911.2" cy="2887.2" rx="13.2" ry="5.2" transform="rotate(-10 1911.2 2887.2)"/>
<ellipse cx="1844.9" cy="2944.9" rx="18" ry="7.1" transform="rotate(-10 1844.9 2944.9)"/>
<ellipse cx="1844.9" cy="2944.9" rx="13.2" ry="4.7" transform="rotate(-10 1844.9 2944.9)" class="n"/>
<path d="M1956.1,2896.7 C1958.5,2905.3 1964.8,2929 1970.3,2948.7 C1975.8,2968.4 1986.1,3003.9 1989.2,3014.9"/>
<path d="M1979.8,2882.5 C1982.9,2893.5 1993.2,2931.4 1998.7,2948.7 C2004.2,2966 2010.5,2980.2 2012.9,2986.5"/>
<path d="M1875.7,2929.8 C1878.8,2939.2 1887.5,2969.2 1894.6,2986.5 C1901.7,3003.9 1910.4,3021.2 1918.3,3033.9 C1926.2,3046.5 1938,3057.5 1941.9,3062.2"/>
<polyline points="1923,2901.4 1941.9,2962.9"/>
<polyline points="1800,2972.4 1847.3,2948.7"/>
<polyline points="1818.9,2958.2 1837.8,3014.9"/>
<ellipse cx="1892.3" cy="2996" rx="28.4" ry="23.7" transform="rotate(-15 1892.3 2996)"/>
<ellipse cx="1892.3" cy="2995.1" rx="16.6" ry="14.2" transform="rotate(-15 1892.3 2995.1)"/>
<ellipse cx="1892.3" cy="2995.1" rx="10.4" ry="9.5" transform="rotate(-15 1892.3 2995.1)"/>
<path d="M1856.8,2981.8 C1856,2987.3 1851.3,3005.5 1852,3014.9 C1852.8,3024.4 1854.4,3033.9 1861.5,3038.6 C1868.6,3043.3 1885.2,3044.9 1894.6,3043.3 C1904.1,3041.7 1912.8,3027.5 1918.3,3029.1 C1923.8,3030.7 1923.8,3047.3 1927.7,3052.8 C1931.7,3058.3 1931.7,3064.6 1941.9,3062.2 C1952.2,3059.9 1979,3044.1 1989.2,3038.6 C1999.5,3033.1 2001.1,3030.7 2003.4,3029.1"/>
<polyline points="1920.6,3029.1 1927.7,3014.9 1941.9,2977.1"/>
<path d="M1951.4,3014.9 C1952.2,3018.1 1953,3027.5 1956.1,3033.9 C1959.3,3040.2 1967.9,3049.6 1970.3,3052.8"/>
<polyline points="1847.3,3043.3 1861.5,3081.2 1871,3090.6"/>
<polyline points="1800,3095.4 1847.3,3100.1 1861.5,3095.4 1975,3076.4 1979.8,3081.2 1977.4,3109.6 1937.2,3133.2 1918.3,3142.7 1875.7,3142.7 1866.2,3128.5 1849.7,3114.3 1800,3109.6"/>
<path d="M1866.2,3128.5 C1868.6,3136.4 1875.7,3165.1 1880.4,3175.8 C1885.2,3186.4 1887.5,3190 1894.6,3192.3 C1901.7,3194.7 1918.3,3190.4 1923,3190"/>
<polyline points="1977.4,3109.6 1984.5,3128.5 2022.4,3142.7"/>
<ellipse cx="2055.5" cy="3161.6" rx="28.4" ry="35.5" transform="rotate(-10 2055.5 3161.6)"/>
<ellipse cx="2055.5" cy="3161.6" rx="18.9" ry="23.7" transform="rotate(-10 2055.5 3161.6)"/>
<ellipse cx="2055.5" cy="3161.6" rx="13.2" ry="16.6" transform="rotate(-10 2055.5 3161.6)"/>
<path d="M2027.1,3137.9 C2024.7,3135.6 2019.2,3130.1 2012.9,3123.7 C2006.6,3117.4 1994,3105.6 1989.2,3100.1 C1984.5,3094.6 1985.3,3092.2 1984.5,3090.6"/>
<path d="M2022.4,3142.7 C2021.6,3146.6 2016,3157.6 2017.6,3166.3 C2019.2,3175 2027.1,3189.2 2031.8,3194.7 C2036.5,3200.2 2043.6,3198.6 2046,3199.4"/>
<path d="M1913.5,3178.1 C1913.5,3173.4 1915.9,3167.1 1923,3164 C1930.1,3160.8 1943.5,3158.8 1956.1,3159.2 C1968.7,3159.6 1990,3162.8 1998.7,3166.3 C2007.4,3169.9 2009.7,3177.4 2008.2,3180.5 C2006.6,3183.7 2003.4,3183.3 1989.2,3185.2 C1975,3187.2 1935.6,3193.5 1923,3192.3 C1910.4,3191.2 1913.5,3182.9 1913.5,3178.1Z"/>
<polyline points="1970.3,3199.4 2008.2,3242 2017.6,3246.7 2060.2,3204.2"/>
<polyline points="2017.6,3246.7 2055.5,3208.9" stroke-width="4.5"/>
<ellipse cx="2339.3" cy="2998.4" rx="28.4" ry="35.5" transform="rotate(-10 2339.3 2998.4)"/>
<ellipse cx="2339.3" cy="2998.4" rx="18.9" ry="23.7" transform="rotate(-10 2339.3 2998.4)"/>
<ellipse cx="2339.3" cy="2998.4" rx="13.2" ry="16.6" transform="rotate(-10 2339.3 2998.4)"/>
<path d="M2344.1,2944 C2344.8,2943.2 2346.8,2938.4 2348.8,2939.2 C2350.8,2940 2355.1,2944.8 2355.9,2948.7 C2356.7,2952.6 2353.9,2960.5 2353.5,2962.9"/>
<polyline points="2301.5,3076.4 2344.1,3033.9" stroke-width="4.5"/>
<polyline points="2292,3081.2 2334.6,3038.6 2353.5,3033.9"/>
<path d="M2012.9,3062.2 C2014.5,3065.4 2016.8,3073.3 2022.4,3081.2 C2027.9,3089 2038.9,3102.5 2046,3109.6 C2053.1,3116.6 2059.4,3126.9 2064.9,3123.7 C2070.5,3120.6 2076,3096.9 2079.1,3090.6 C2082.3,3084.3 2081.5,3082.7 2083.9,3085.9 C2086.2,3089 2091.7,3105.6 2093.3,3109.6"/>
<polyline points="2140.6,2991.3 2154.8,3043.3 2140.6,3076.4 2131.2,3081.2 2088.6,3088.3"/>
<path d="M2140.6,2991.3 C2139,2992.1 2132,2990.5 2131.2,2996 C2130.4,3001.5 2131.2,3018.1 2135.9,3024.4 C2140.6,3030.7 2156.4,3029.1 2159.6,3033.9 C2162.7,3038.6 2151.7,3050.4 2154.8,3052.8 C2158,3055.1 2173,3054.4 2178.5,3048 C2184,3041.7 2187.9,3027.5 2187.9,3014.9 C2187.9,3002.3 2176.1,2981.8 2178.5,2972.4 C2180.8,2962.9 2198.2,2960.5 2202.1,2958.2"/>
<polyline points="2154.8,2981.8 2173.7,2977.1 2183.2,3014.9 2192.7,3019.7 2216.3,3005.5 2211.6,2972.4 2202.1,2958.2"/>
<polyline points="2192.7,2908.5 2225.8,2901.4 2235.2,2910.9 2230.5,2929.8"/>
<polyline points="2192.7,2908.5 2202.1,2934.5 2221.1,2939.2"/>
<path d="M2225.8,2934.5 C2226.6,2940 2227.4,2959.7 2230.5,2967.6 C2233.7,2975.5 2238.4,2980.2 2244.7,2981.8 C2251,2983.4 2263.6,2975.5 2268.4,2977.1 C2273.1,2978.7 2274.7,2986.5 2273.1,2991.3 C2271.5,2996 2266.8,3000.7 2258.9,3005.5 C2251,3010.2 2232.1,3014.9 2225.8,3019.7 C2219.5,3024.4 2217.9,3030.7 2221.1,3033.9 C2224.2,3037 2232.9,3040.2 2244.7,3038.6 C2256.5,3037 2281,3029.9 2292,3024.4 C2303.1,3018.9 2307.8,3008.6 2310.9,3005.5"/>
<polyline points="2050.7,3062.2 2069.7,3052.8"/>
<polyline points="2055.5,3071.7 2074.4,3062.2"/>
<polyline points="2055.5,3081.2 2074.4,3074.1"/>
<polyline points="2093.3,3033.9 2102.8,3062.2"/>
<polyline points="2088.6,3048 2112.2,3038.6"/>
<polyline points="2088.6,3055.1 2114.6,3045.7"/>
<polyline points="2320.4,2887.2 2358.2,2901.4"/>
<polyline points="2339.3,2882.5 2344.1,2920.3"/>
<polyline points="2254.2,2948.7 2273.1,2939.2"/>
<polyline points="2266,2939.2 2273.1,2958.2"/>
<path d="M2287.3,2906.1 C2288.1,2909.3 2288.1,2917.9 2292,2925 C2296,2932.1 2303.1,2943.2 2310.9,2948.7 C2318.8,2954.2 2329.9,2958.9 2339.3,2958.2 C2348.8,2957.4 2359.8,2948.7 2367.7,2944 C2375.6,2939.2 2382.7,2935.3 2386.6,2929.8 C2390.6,2924.3 2390.6,2914 2391.4,2910.9"/>
<polyline points="2391.4,2844.6 2396.1,2868.3 2386.6,2910.9"/>
<polyline points="2169,2977.1 2178.5,3014.9"/>
<polyline points="2183.2,3014.9 2211.6,3000.7" stroke-width="4.5"/>
<polyline points="2273.1,3033.9 2287.3,3071.7"/>
<polyline points="2225.8,3071.7 2249.4,3043.3"/>
<polyline points="2315.7,3123.7 2325.1,3142.7"/>
<polyline points="2301.5,3137.9 2320.4,3128.5"/>
<polyline points="2306.2,3251.5 2339.3,3232.6"/>
<polyline points="2339.3,3213.6 2358.2,3270.4"/>
<path d="M1800,3223.1 C1804.7,3227 1818.9,3234.9 1828.4,3246.7 C1837.8,3258.6 1849.7,3276.9 1856.8,3294.1 C1863.9,3311.2 1868.6,3340.6 1871,3349.9"/>
<path d="M1800,3194.7 C1807.9,3199.4 1833.1,3210.5 1847.3,3223.1 C1861.5,3235.7 1874.9,3249.3 1885.2,3270.4 C1895.4,3291.5 1904.9,3336.6 1908.8,3349.9"/>
<path d="M1847.3,3171.1 C1855.2,3176.6 1879.6,3187.6 1894.6,3204.2 C1909.6,3220.7 1926.2,3246.1 1937.2,3270.4 C1948.2,3294.7 1956.9,3336.6 1960.9,3349.9"/>
<path d="M1918.3,3213.6 C1924.6,3221.5 1945.9,3243.6 1956.1,3260.9 C1966.4,3278.3 1975.8,3308.2 1979.8,3317.7"/>
<path d="M1809.5,3270.4 C1812.6,3276.7 1824.4,3295 1828.4,3308.2 C1832.3,3321.5 1832.3,3342.9 1833.1,3349.9"/>
<polyline points="1941.9,3289.3 2008.2,3256.2"/>
<ellipse cx="1901.7" cy="3317.7" rx="40.2" ry="23.7" transform="rotate(-20 1901.7 3317.7)"/>
<ellipse cx="1930.1" cy="3301.2" rx="7.1" ry="9.5" transform="rotate(-10 1930.1 3301.2)"/>
<polyline points="1800,3152.1 1828.4,3128.5"/>
<polyline points="1800,3175.8 1823.7,3161.6 1837.8,3175.8 1828.4,3199.4"/>
<polyline points="1809.5,3204.2 1828.4,3194.7"/>
</g>
<!-- 42_loC.svg -->
<clipPath id="cp_42_loC"><path clip-rule="evenodd" d="M0,0H3200V4134H0Z M1450,3000H2000V3450H1450Z"/></clipPath>
<g class="l" id="42_loC" clip-path="url(#cp_42_loC)">
<path d="M1085.2,3278.4 C1089.1,3283.9 1103.3,3302 1108.8,3311.5 C1114.3,3321 1115.1,3327.3 1118.3,3335.2 C1121.4,3343 1121.4,3354.1 1127.7,3358.8 C1134,3363.5 1146.7,3361.2 1156.1,3363.5 C1165.6,3365.9 1175.8,3368.3 1184.5,3373 C1193.2,3377.7 1197.9,3387.2 1208.2,3391.9 C1218.4,3396.7 1235,3398.2 1246,3401.4 C1257,3404.5 1268.1,3405.3 1274.4,3410.9 C1280.7,3416.4 1279.1,3429.8 1283.9,3434.5 C1288.6,3439.2 1299.6,3438.4 1302.8,3439.2"/>
<path d="M1118.3,3287.8 C1122.2,3294.2 1131.7,3312.3 1141.9,3325.7 C1152.2,3339.1 1168.7,3358 1179.8,3368.3 C1190.8,3378.5 1198.7,3382.5 1208.2,3387.2 C1217.6,3391.9 1226.3,3395.9 1236.5,3396.7 C1246.8,3397.4 1257.8,3395.9 1269.7,3391.9 C1281.5,3388 1297.3,3380.9 1307.5,3373 C1317.8,3365.1 1324.1,3355.7 1331.2,3344.6 C1338.3,3333.6 1346.1,3317.8 1350.1,3306.8 C1354,3295.7 1354,3283.1 1354.8,3278.4"/>
<ellipse cx="1130.1" cy="3342.3" rx="8.5" ry="11.8" transform="rotate(-10 1130.1 3342.3)"/>
<ellipse cx="1131" cy="3343.2" rx="4.3" ry="6.2" transform="rotate(-10 1131 3343.2)" fill="#000"/>
<ellipse cx="1250.7" cy="3361.2" rx="11.8" ry="15.1" transform="rotate(-10 1250.7 3361.2)"/>
<ellipse cx="1250.7" cy="3361.2" rx="7.1" ry="9.5" transform="rotate(-10 1250.7 3361.2)"/>
<ellipse cx="1291" cy="3422.7" rx="8.5" ry="11.8" transform="rotate(-10 1291 3422.7)"/>
<ellipse cx="1291" cy="3422.7" rx="4.3" ry="6.2" transform="rotate(-10 1291 3422.7)"/>
<ellipse cx="1373.7" cy="3302" rx="8.5" ry="11.8" transform="rotate(-10 1373.7 3302)"/>
<ellipse cx="1373.7" cy="3302" rx="4.3" ry="6.2" transform="rotate(-10 1373.7 3302)" fill="#000"/>
<path d="M1184.5,3311.5 C1185.3,3315.4 1185.3,3328.1 1189.2,3335.2 C1193.2,3342.3 1200.3,3350.1 1208.2,3354.1 C1216,3358 1231.8,3358 1236.5,3358.8"/>
<path d="M1227.1,3297.3 C1230.2,3303.6 1242.1,3327.3 1246,3335.2 C1250,3343 1250,3343 1250.7,3344.6"/>
<polyline points="1141.9,3351.7 1189.2,3351.7"/>
<path d="M1293.3,3297.3 C1296.5,3305.2 1306.7,3333.6 1312.2,3344.6 C1317.8,3355.7 1324.1,3360.4 1326.4,3363.5"/>
<path d="M1302.8,3273.7 C1305.1,3279.2 1313,3294.9 1317,3306.8 C1320.9,3318.6 1324.9,3338.3 1326.4,3344.6"/>
<polyline points="1274.4,3358.8 1302.8,3363.5"/>
<polyline points="1298,3344.6 1307.5,3342.3 1312.2,3354.1 1302.8,3363.5"/>
<polyline points="1326.4,3363.5 1369,3363.5"/>
<polyline points="1203.4,3297.3 1283.9,3294.9"/>
<polygon points="1359.6,3321 1378.5,3325.7 1435.2,3297.3 1442.3,3292.6 1440,3302 1392.7,3330.4 1373.7,3339.9 1364.3,3335.2"/>
<polygon points="1302.8,3401.4 1364.3,3358.8 1383.2,3356.4 1421.1,3365.9 1411.6,3375.4 1378.5,3396.7 1307.5,3401.4"/>
<ellipse cx="1440" cy="3439.2" rx="23.7" ry="30.8" transform="rotate(-10 1440 3439.2)"/>
<ellipse cx="1440.9" cy="3440.2" rx="16.6" ry="22.7" transform="rotate(-10 1440.9 3440.2)"/>
<path d="M1416.3,3413.2 C1422.6,3411.2 1443.1,3403.4 1454.2,3401.4 C1465.2,3399.4 1475.5,3399 1482.6,3401.4 C1489.7,3403.8 1493.6,3409.3 1496.7,3415.6 C1499.9,3421.9 1500.7,3435.3 1501.5,3439.2"/>
<path d="M1444.7,3470 C1449.4,3468 1463.6,3460.9 1473.1,3458.2 C1482.6,3455.4 1496.7,3454.2 1501.5,3453.4"/>
<path d="M1305.1,3406.1 C1305.5,3410.9 1304,3426.6 1307.5,3434.5 C1311.1,3442.4 1319.3,3450.3 1326.4,3453.4 C1333.5,3456.6 1344.6,3455.8 1350.1,3453.4 C1355.6,3451.1 1350.1,3444.8 1359.6,3439.2 C1369,3433.7 1399,3423.5 1406.9,3420.3"/>
<path d="M1314.6,3415.6 C1315.8,3419.5 1318.2,3433.7 1321.7,3439.2 C1325.3,3444.8 1331.6,3449.1 1335.9,3448.7 C1340.2,3448.3 1346.1,3443.2 1347.7,3436.9 C1349.3,3430.6 1345.8,3415.2 1345.4,3410.9"/>
<path d="M1354.8,3453.4 C1358.8,3451.1 1369,3440.8 1378.5,3439.2 C1387.9,3437.7 1405.3,3440.8 1411.6,3444 C1417.9,3447.1 1415.5,3455.8 1416.3,3458.2"/>
<polyline points="1406.9,3458.2 1411.6,3481.8 1416.3,3496" stroke-width="4.5"/>
<polyline points="1392.7,3491.3 1402.1,3484.2 1411.6,3486.5 1397.4,3496 1392.7,3543.3 1397.4,3552.8 1411.6,3552.8" stroke-width="4.5"/>
<polyline points="1416.3,3496 1421.1,3533.9 1416.3,3552.8 1492,3590.6 1496.7,3609.6 1515.7,3614.3 1520.4,3600.1 1619.8,3647.4 1629.2,3656.9 1657.6,3656.9 1756.9,3699.4 1804.3,3699.4"/>
<polyline points="1425.8,3538.6 1492,3571.7"/>
<polyline points="1421.1,3548 1492,3581.2"/>
<polyline points="1525.1,3590.6 1619.8,3635.6"/>
<polyline points="1529.9,3604.8 1619.8,3647.4"/>
<path d="M1492,3590.6 C1492.4,3585.1 1492.8,3565.4 1494.4,3557.5 C1496,3549.6 1497.9,3544.1 1501.5,3543.3 C1505,3542.5 1512.5,3543.3 1515.7,3552.8 C1518.8,3562.2 1519.6,3592.2 1520.4,3600.1"/>
<path d="M1496.7,3458.2 C1499.1,3467.6 1506.2,3496 1510.9,3514.9 C1515.7,3533.9 1522.8,3562.2 1525.1,3571.7"/>
<polyline points="1463.6,3472.4 1482.6,3543.3"/>
<path d="M1501.5,3439.2 C1503.8,3447.1 1510.9,3467.6 1515.7,3486.5 C1520.4,3505.5 1527.5,3541.7 1529.9,3552.8"/>
<ellipse cx="1619.8" cy="3460.5" rx="82.8" ry="123" transform="rotate(-15 1619.8 3460.5)"/>
<ellipse cx="1620.7" cy="3461.9" rx="75.7" ry="114.5" transform="rotate(-15 1620.7 3461.9)"/>
<path d="M1586.6,3391.9 C1587.4,3379.3 1591.4,3377.7 1596.1,3373 C1600.8,3368.3 1607.9,3363.5 1615,3363.5 C1622.1,3363.5 1630.8,3365.9 1638.7,3373 C1646.6,3380.1 1654.4,3392.7 1662.3,3406.1 C1670.2,3419.5 1680.1,3438.4 1686,3453.4 C1691.9,3468.4 1696.2,3484.2 1697.8,3496 C1699.4,3507.8 1698.2,3518.9 1695.4,3524.4 C1692.7,3529.9 1686,3529.1 1681.3,3529.1 C1676.5,3529.1 1671.8,3523.6 1667.1,3524.4 C1662.3,3525.2 1658.4,3533.1 1652.9,3533.9 C1647.3,3534.6 1641,3535.4 1633.9,3529.1 C1626.8,3522.8 1617.4,3509.4 1610.3,3496 C1603.2,3482.6 1595.3,3466 1591.4,3448.7 C1587.4,3431.4 1585.8,3404.5 1586.6,3391.9Z"/>
<polyline points="1586.6,3401.4 1671.8,3448.7"/>
<polyline points="1671.8,3448.7 1605.6,3484.2"/>
<polyline points="1605.6,3484.2 1610.3,3496"/>
<polyline points="1667.1,3524.4 1695.4,3514.9"/>
<ellipse cx="1619.8" cy="3337.5" rx="10.4" ry="14.2" transform="rotate(-10 1619.8 3337.5)"/>
<ellipse cx="1619.8" cy="3337.5" rx="16.6" ry="21.3" transform="rotate(-10 1619.8 3337.5)"/>
<ellipse cx="1598.5" cy="3564.6" rx="10.4" ry="14.2" transform="rotate(-10 1598.5 3564.6)"/>
<ellipse cx="1598.5" cy="3564.6" rx="16.6" ry="21.3" transform="rotate(-10 1598.5 3564.6)"/>
<ellipse cx="1738" cy="3529.1" rx="28.4" ry="40.2" transform="rotate(-12 1738 3529.1)"/>
<ellipse cx="1739" cy="3530.1" rx="32.2" ry="44.9" transform="rotate(-12 1739 3530.1)"/>
<ellipse cx="1740.4" cy="3524.4" rx="22.7" ry="33.1" transform="rotate(-12 1740.4 3524.4)" class="n"/>
<path d="M1704.9,3264.2 C1705.7,3271.3 1705.7,3292.6 1709.6,3306.8 C1713.6,3321 1719.9,3337.5 1728.6,3349.3 C1737.2,3361.2 1749.1,3371.4 1761.7,3377.7 C1774.3,3384 1797.2,3385.6 1804.3,3387.2"/>
<path d="M1714.4,3259.5 C1715.2,3266.6 1715.2,3288.2 1719.1,3302 C1723,3315.8 1730.1,3331.2 1738,3342.3 C1745.9,3353.3 1755.4,3362.4 1766.4,3368.3 C1777.4,3374.2 1797.9,3376.2 1804.3,3377.7"/>
<path d="M1747.5,3250 C1748.3,3257.9 1747.5,3281.5 1752.2,3297.3 C1756.9,3313.1 1767.2,3333.6 1775.9,3344.6 C1784.5,3355.7 1799.5,3360.4 1804.3,3363.5"/>
<ellipse cx="1709.6" cy="3628.5" rx="21.3" ry="28.4" transform="rotate(-10 1709.6 3628.5)"/>
<ellipse cx="1709.6" cy="3628.5" rx="13.2" ry="18" transform="rotate(-10 1709.6 3628.5)"/>
<ellipse cx="1709.6" cy="3628.5" rx="8.5" ry="11.8" transform="rotate(-10 1709.6 3628.5)"/>
<ellipse cx="1775.9" cy="3604.8" rx="13.2" ry="18" transform="rotate(-10 1775.9 3604.8)"/>
<ellipse cx="1775.9" cy="3604.8" rx="7.6" ry="10.4" transform="rotate(-10 1775.9 3604.8)"/>
<ellipse cx="1752.2" cy="3604.8" rx="5.7" ry="7.1"/>
<path d="M1619.8,3647.4 C1620.5,3641.1 1622.9,3619 1624.5,3609.6 C1626.1,3600.1 1624.5,3595.4 1629.2,3590.6 C1633.9,3585.9 1648.1,3578 1652.9,3581.2 C1657.6,3584.3 1657.6,3596.9 1657.6,3609.6 C1657.6,3622.2 1653.7,3649 1652.9,3656.9"/>
<polyline points="1690.7,3600.1 1738,3576.4 1756.9,3571.7"/>
<path d="M1738,3652.1 C1741.2,3654.5 1753,3659.2 1756.9,3666.3 C1760.9,3673.4 1753.8,3689.2 1761.7,3694.7 C1769.6,3700.2 1797.2,3698.6 1804.3,3699.4"/>
<polyline points="1785.3,3675.8 1804.3,3680.5"/>
<path d="M1742.8,3406.1 C1745.1,3407.7 1751.4,3414.8 1756.9,3415.6 C1762.5,3416.4 1768,3413.2 1775.9,3410.9 C1783.8,3408.5 1799.5,3403 1804.3,3401.4"/>
<path d="M1756.9,3415.6 C1756.2,3421.1 1755.4,3439.2 1752.2,3448.7 C1749.1,3458.2 1740.4,3468.4 1738,3472.4"/>
<polyline points="1752.2,3448.7 1780.6,3439.2 1804.3,3429.8"/>
<polyline points="1662.3,3619 1686,3647.4"/>
<polyline points="1671.8,3609.6 1681.3,3628.5"/>
<path d="M1425.8,3250 C1427.4,3256.3 1432.9,3272.1 1435.2,3287.8 C1437.6,3303.6 1436.8,3328.8 1440,3344.6 C1443.1,3360.4 1448.6,3374.6 1454.2,3382.5 C1459.7,3390.4 1469.9,3390.4 1473.1,3391.9"/>
<path d="M1548.8,3297.3 C1544.1,3305.2 1526.7,3329.6 1520.4,3344.6 C1514.1,3359.6 1512.5,3380.1 1510.9,3387.2"/>
<polyline points="1567.7,3297.3 1534.6,3311.5"/>
<polyline points="1577.2,3278.4 1591.4,3321"/>
<polyline points="1615,3250 1629.2,3292.6"/>
<polyline points="1657.6,3250 1667.1,3278.4"/>
<polyline points="1558.2,3325.7 1563,3344.6"/>
<polygon points="1466,3278.4 1501.5,3259.5 1510.9,3264.2 1473.1,3285.5"/>
<polyline points="1487.3,3391.9 1454.2,3401.4"/>
<path d="M1515.7,3406.1 C1518,3417.9 1524.3,3454.2 1529.9,3477.1 C1535.4,3500 1544.1,3529.1 1548.8,3543.3 C1553.5,3557.5 1556.7,3559.1 1558.2,3562.2"/>
<polyline points="1534.6,3571.7 1537,3581.2"/>
<polyline points="1544.1,3391.9 1558.2,3448.7 1577.2,3514.9 1591.4,3552.8"/>
<polyline points="1558.2,3552.8 1581.9,3581.2 1596.1,3590.6"/>
</g>
<!-- 43_loD.svg -->
<clipPath id="cp_43_loD"><path clip-rule="evenodd" d="M0,0H3200V4134H0Z M1450,3000H2000V3450H1450Z M2000,2950H2600V3400H2000Z"/></clipPath>
<g class="l" id="43_loD" clip-path="url(#cp_43_loD)">
<path d="M2057.5,3344.6 C2059.1,3348.6 2063,3350.9 2067,3368.3 C2070.9,3385.6 2076.4,3421.1 2081.2,3448.7 C2085.9,3476.3 2092.2,3518.9 2095.4,3533.9 C2098.5,3548.8 2098.9,3539.4 2100.1,3538.6 C2101.3,3537.8 2104,3544.1 2102.5,3529.1 C2100.9,3514.1 2095,3475.5 2090.6,3448.7 C2086.3,3421.9 2079.6,3385.6 2076.4,3368.3 C2073.3,3350.9 2072.5,3348.6 2071.7,3344.6" stroke-width="4.5"/>
<path d="M2114.3,3344.6 C2115.9,3354.9 2119,3379.3 2123.7,3406.1 C2128.5,3432.9 2138.3,3488.1 2142.7,3505.5 C2147,3522.8 2148.2,3511 2149.8,3510.2 C2151.3,3509.4 2154.9,3518.1 2152.1,3500.7 C2149.4,3483.4 2137.9,3432.1 2133.2,3406.1 C2128.5,3380.1 2125.3,3354.9 2123.7,3344.6" stroke-width="4.5"/>
<path d="M2168.7,3344.6 C2169.9,3350.9 2171.4,3360.4 2175.8,3382.5 C2180.1,3404.5 2190.4,3460.5 2194.7,3477.1 C2199,3493.6 2200.2,3482.6 2201.8,3481.8 C2203.4,3481 2206.9,3488.9 2204.2,3472.4 C2201.4,3455.8 2189.6,3403.8 2185.2,3382.5 C2180.9,3361.2 2179.3,3350.9 2178.1,3344.6" stroke-width="4.5"/>
<path d="M2225.5,3344.6 C2228.2,3356.4 2238.1,3397.8 2242,3415.6 C2246,3433.3 2246.7,3445.5 2249.1,3451.1 C2251.5,3456.6 2255.8,3454.6 2256.2,3448.7 C2256.6,3442.8 2254.6,3432.9 2251.5,3415.6 C2248.3,3398.2 2239.7,3356.4 2237.3,3344.6" stroke-width="4.5"/>
<path d="M2283.6,3344.6 C2284.6,3348.6 2286.8,3355.7 2289.3,3368.3 C2291.8,3380.9 2296,3411.6 2298.8,3420.3 C2301.5,3429 2305.5,3429 2305.9,3420.3 C2306.3,3411.6 2303.1,3380.9 2301.2,3368.3 C2299.2,3355.7 2295.2,3348.6 2294.1,3344.6" stroke-width="4.5"/>
<path d="M2327.2,3344.6 L2350.8,3410.9"/>
<path d="M2339,3344.6 L2365,3406.1"/>
<polyline points="2076.4,3410.9 2123.7,3382.5 2175.8,3351.7" stroke-width="4.5"/>
<polyline points="2081.2,3417.9 2128.5,3389.6 2180.5,3357.9"/>
<path d="M2019.7,3349.8 C2020.5,3356.8 2020.5,3373.1 2024.4,3391.9 C2028.3,3410.8 2036.2,3440.8 2043.3,3462.9 C2050.4,3485 2060.7,3507.8 2067,3524.4 C2073.3,3541 2078.8,3555.9 2081.2,3562.2" stroke-width="4.5"/>
<path d="M2030.1,3349.8 C2030.7,3356.8 2030.1,3373.9 2033.9,3391.9 C2037.6,3410 2044.9,3432.9 2052.8,3458.2 C2060.7,3483.4 2076.4,3529.1 2081.2,3543.3"/>
<path d="M2051.4,3349.8 C2052.4,3356.8 2052.5,3369.1 2057.5,3391.9 C2062.5,3414.7 2074.1,3462.9 2081.2,3486.5 C2088.3,3510.2 2096.9,3526 2100.1,3533.9"/>
<polyline points="2097.7,3533.9 2308.2,3410.9 2336.6,3415.6 2346.1,3439.2"/>
<polyline points="2104.8,3574.1 2336.6,3441.6"/>
<polyline points="2119,3642.7 2360.3,3505.5" stroke-width="4.5"/>
<path d="M2081.2,3562.2 C2077.2,3563 2078.8,3573.3 2076.4,3581.2 C2074.1,3589 2067.8,3600.1 2067,3609.6 C2066.2,3619 2066.2,3629.7 2071.7,3637.9 C2077.2,3646.2 2092.6,3656.9 2100.1,3659.2 C2107.6,3661.6 2113.5,3658 2116.6,3652.1 C2119.8,3646.2 2120.2,3634 2119,3623.7 C2117.8,3613.5 2112.7,3598.5 2109.6,3590.6 C2106.4,3582.7 2104.8,3581.2 2100.1,3576.4 C2095.4,3571.7 2085.1,3561.5 2081.2,3562.2Z"/>
<ellipse cx="2090.6" cy="3621.4" rx="11.8" ry="16.6" transform="rotate(-10 2090.6 3621.4)"/>
<ellipse cx="2090.6" cy="3621.4" rx="7.6" ry="11.4" transform="rotate(-10 2090.6 3621.4)"/>
<path d="M2336.6,3439.2 C2337.4,3442.4 2341,3451.9 2341.4,3458.2 C2341.8,3464.5 2337.4,3471.6 2339,3477.1 C2340.6,3482.6 2346.5,3488.1 2350.8,3491.3 C2355.2,3494.4 2359.5,3493.6 2365,3496 C2370.5,3498.4 2380,3507 2383.9,3505.5 C2387.9,3503.9 2387.1,3494.4 2388.7,3486.5 C2390.3,3478.7 2393.8,3466 2393.4,3458.2 C2393,3450.3 2389.5,3446.3 2386.3,3439.2 C2383.2,3432.1 2380.4,3419.9 2374.5,3415.6 C2368.6,3411.2 2355.6,3409.3 2350.8,3413.2 C2346.1,3417.2 2346.9,3434.9 2346.1,3439.2"/>
<ellipse cx="2369.8" cy="3460.5" rx="11.8" ry="16.6" transform="rotate(-10 2369.8 3460.5)"/>
<ellipse cx="2369.8" cy="3460.5" rx="7.6" ry="11.4" transform="rotate(-10 2369.8 3460.5)"/>
<polyline points="2360.3,3410.9 2334.3,3349.8"/>
<path d="M2383.9,3413.2 C2387.1,3412 2396.6,3408.9 2402.9,3406.1 C2409.2,3403.4 2412.3,3399 2421.8,3396.7 C2431.3,3394.3 2451.8,3394.3 2459.6,3391.9 C2467.5,3389.6 2467.1,3387.2 2469.1,3382.5 C2471.1,3377.7 2473,3367.5 2471.5,3363.5 C2469.9,3359.6 2465.6,3358 2459.6,3358.8 C2453.7,3359.6 2440.7,3365.9 2436,3368.3 C2431.3,3370.6 2432,3372.2 2431.3,3373"/>
<polyline points="2398.1,3391.9 2421.8,3377.7"/>
<path d="M1844.6,3396.7 C1848.6,3395.1 1858,3388.8 1868.3,3387.2 C1878.5,3385.6 1898.2,3384.8 1906.1,3387.2 C1914,3389.6 1914.8,3395.9 1915.6,3401.4 C1916.4,3406.9 1911.6,3417.2 1910.9,3420.3"/>
<polyline points="1910.9,3420.3 2062.2,3619 2071.7,3637.9"/>
<polyline points="1858.8,3401.4 2052.8,3614.3"/>
<polyline points="1977.1,3486.5 2033.9,3581.2 2057.5,3614.3"/>
<path d="M1915.6,3415.6 C1916.4,3414 1914.8,3408.5 1920.3,3406.1 C1925.8,3403.8 1939.2,3399.8 1948.7,3401.4 C1958.2,3403 1969.2,3410.1 1977.1,3415.6 C1985,3421.1 1993.2,3427.4 1996,3434.5 C1998.8,3441.6 2000,3450.3 1993.6,3458.2 C1987.3,3466 1967.2,3478.7 1958.2,3481.8 C1949.1,3485 1945.5,3481 1939.2,3477.1 C1932.9,3473.1 1925,3466.8 1920.3,3458.2 C1915.6,3449.5 1912.4,3430.6 1910.9,3425"/>
<ellipse cx="1936.9" cy="3448.7" rx="18.9" ry="30.8" transform="rotate(-15 1936.9 3448.7)"/>
<polyline points="1996,3458.2 2014.9,3477.1 2033.9,3496"/>
<ellipse cx="1882.5" cy="3514.9" rx="28.4" ry="37.8" transform="rotate(-12 1882.5 3514.9)"/>
<ellipse cx="1883.9" cy="3516.4" rx="21.3" ry="30.8" transform="rotate(-12 1883.9 3516.4)"/>
<ellipse cx="1887.2" cy="3519.7" rx="15.6" ry="24.6" transform="rotate(-12 1887.2 3519.7)" class="n"/>
<ellipse cx="1861.2" cy="3455.8" rx="11.8" ry="15.1" transform="rotate(-10 1861.2 3455.8)"/>
<ellipse cx="1861.2" cy="3455.8" rx="6.6" ry="8.5" transform="rotate(-10 1861.2 3455.8)"/>
<path d="M1835.2,3477.1 C1834.4,3481.8 1829.6,3496 1830.4,3505.5 C1831.2,3514.9 1835.2,3525.2 1839.9,3533.9 C1844.6,3542.5 1855.7,3553.6 1858.8,3557.5"/>
<ellipse cx="1776" cy="3604.8" rx="11.8" ry="16.6" transform="rotate(-10 1776 3604.8)"/>
<ellipse cx="1776" cy="3604.8" rx="6.6" ry="9.5" transform="rotate(-10 1776 3604.8)"/>
<polyline points="1768.9,3588.3 1844.6,3538.6 1863.5,3541 1873,3557.5 1868.3,3581.2 1792.6,3623.7"/>
<polyline points="1783.1,3581.2 1854.1,3543.3"/>
<polyline points="1797.3,3609.6 1868.3,3571.7"/>
<ellipse cx="1804.4" cy="3661.6" rx="21.3" ry="28.4" transform="rotate(-10 1804.4 3661.6)"/>
<ellipse cx="1804.4" cy="3661.6" rx="13.2" ry="18.9" transform="rotate(-10 1804.4 3661.6)"/>
<ellipse cx="1804.4" cy="3661.6" rx="8.5" ry="12.3" transform="rotate(-10 1804.4 3661.6)"/>
<polyline points="1750,3690 1764.2,3701.8 1962.9,3687.6 1996,3671.1 2005.5,3656.9 2100.1,3659.2"/>
<polyline points="1783.1,3687.6 1953.4,3675.8 1991.3,3661.6"/>
<path d="M1821,3687.6 C1836.7,3674.6 1897.4,3624.1 1915.6,3609.6 C1933.7,3595 1922.7,3602.5 1929.8,3600.1 C1936.9,3597.7 1948.7,3593.8 1958.2,3595.4 C1967.6,3596.9 1979.8,3603.2 1986.5,3609.6 C1993.2,3615.9 1996.8,3624.5 1998.4,3633.2 C2000,3641.9 1996.4,3656.9 1996,3661.6"/>
<polyline points="1939.2,3623.7 1948.7,3642.7 1996,3628.5"/>
<polyline points="1915.6,3623.7 1934.5,3628.5"/>
<polyline points="1913.2,3637.9 1932.1,3640.3"/>
<path d="M1939.2,3623.7 C1942.4,3621.4 1950.3,3611.5 1958.2,3609.6 C1966,3607.6 1981.8,3611.5 1986.5,3611.9"/>
<polyline points="1948.7,3642.7 1953.4,3675.8"/>
<polyline points="1967.6,3637.9 1970,3671.1"/>
<polyline points="1925,3557.5 1929.8,3590.6 1934.5,3600.1"/>
<polyline points="1944,3557.5 1946.3,3595.4"/>
<polyline points="1955.8,3562.2 1958.2,3590.6"/>
<polyline points="1873,3588.3 1910.9,3604.8"/>
<path d="M1750,3406.1 C1753.9,3407.7 1768.1,3408.5 1773.7,3415.6 C1779.2,3422.7 1787.1,3441.6 1783.1,3448.7 C1779.2,3455.8 1755.5,3456.6 1750,3458.2"/>
<polyline points="1773.7,3415.6 1835.2,3396.7 1844.6,3396.7"/>
<polyline points="1778.4,3420.3 1816.2,3401.4"/>
<polyline points="1835.2,3439.2 1863.5,3425"/>
<polyline points="1802,3448.7 1835.2,3439.2"/>
<path d="M1750,3552.8 C1752.4,3551.2 1761,3549.6 1764.2,3543.3 C1767.3,3537 1770.5,3523.6 1768.9,3514.9 C1767.3,3506.3 1757.9,3496 1754.7,3491.3 C1751.6,3486.5 1750.8,3487.3 1750,3486.5"/>
<path d="M1948.7,3481.8 C1947.9,3487.3 1946.3,3506.3 1944,3514.9 C1941.6,3523.6 1938.4,3529.1 1934.5,3533.9 C1930.6,3538.6 1922.7,3541.7 1920.3,3543.3"/>
<polyline points="1906.1,3543.3 1925,3557.5"/>
</g>
<!-- 44_loR.svg -->
<g class="l" id="44_loR">
<path d="M2024.8,3241 C2023.7,3251.6 2018.6,3285.3 2017.7,3304.9 C2016.9,3324.4 2018,3342.2 2019.5,3358.1 C2021,3373.9 2025.4,3393 2026.6,3400" stroke-width="4.5"/>
<path d="M2016,3241 C2014.8,3251.6 2009.8,3285.3 2008.9,3304.9 C2008,3324.4 2009.2,3342.2 2010.6,3358.1 C2012.1,3373.9 2016.6,3393 2017.7,3400"/>
<path d="M2053.2,3219.7 C2052.6,3228 2050.9,3252.2 2049.7,3269.4 C2048.5,3286.5 2044.9,3300.8 2046.1,3322.6 C2047.3,3344.4 2055,3387.1 2056.8,3400" stroke-width="4.5"/>
<path d="M2062.1,3212.6 C2061.5,3222.1 2059.6,3251 2058.6,3269.4 C2057.5,3287.7 2054.9,3300.8 2056.1,3322.6 C2057.3,3344.4 2064.1,3387.1 2065.6,3400"/>
<path d="M2086.9,3091.9 C2089.6,3103.8 2098.5,3145.2 2102.9,3162.9 C2107.3,3180.7 2113,3183.6 2113.6,3198.4 C2114.1,3213.2 2108.8,3233.9 2106.5,3251.6 C2104.1,3269.4 2098.8,3287.1 2099.4,3304.9 C2100,3322.6 2106.2,3342.2 2110,3358.1 C2113.9,3373.9 2120.4,3393 2122.4,3400" stroke-width="4.5"/>
<path d="M2079.8,3093.7 C2082.2,3105.3 2089.9,3145.5 2094,3162.9 C2098.2,3180.4 2104.1,3183.6 2104.7,3198.4 C2105.3,3213.2 2100,3233.9 2097.6,3251.6 C2095.2,3269.4 2089.9,3287.1 2090.5,3304.9 C2091.1,3322.6 2097.3,3342.2 2101.1,3358.1 C2105,3373.9 2111.5,3393 2113.6,3400"/>
<polyline points="2079.8,3093.7 2085.2,3086.6 2088.7,3091.9"/>
<path d="M2141.9,3074.2 C2144.3,3083.1 2152,3112.6 2156.1,3127.4 C2160.3,3142.2 2166.2,3148.1 2166.8,3162.9 C2167.4,3177.7 2162.1,3198.4 2159.7,3216.1 C2157.3,3233.9 2152,3251.6 2152.6,3269.4 C2153.2,3287.1 2159.7,3307.2 2163.2,3322.6 C2166.8,3338 2170.3,3348.7 2173.9,3361.6 C2177.4,3374.5 2182.8,3393.6 2184.5,3400" stroke-width="4.5"/>
<path d="M2133.1,3076 C2135.4,3084.6 2143.1,3112.9 2147.3,3127.4 C2151.4,3141.9 2157.3,3148.1 2157.9,3162.9 C2158.5,3177.7 2153.2,3198.4 2150.8,3216.1 C2148.5,3233.9 2143.1,3251.6 2143.7,3269.4 C2144.3,3287.1 2150.8,3307.2 2154.4,3322.6 C2157.9,3338 2161.5,3348.7 2165,3361.6 C2168.6,3374.5 2173.9,3393.6 2175.7,3400"/>
<path d="M2202.3,3081.3 C2204,3089 2210.6,3110.9 2212.9,3127.4 C2215.3,3144 2217.1,3162.9 2216.5,3180.7 C2215.9,3198.4 2209.4,3216.1 2209.4,3233.9 C2209.4,3251.6 2213.5,3270.6 2216.5,3287.1 C2219.4,3303.7 2224.2,3314.4 2227.1,3333.3 C2230.1,3352.1 2233,3388.8 2234.2,3400" stroke-width="4.5"/>
<path d="M2194.5,3083.1 C2196.1,3090.5 2201.9,3111.2 2204,3127.4 C2206.2,3143.7 2208.2,3162.9 2207.6,3180.7 C2207,3198.4 2200.5,3216.1 2200.5,3233.9 C2200.5,3251.6 2204.6,3270.6 2207.6,3287.1 C2210.6,3303.7 2215.3,3314.4 2218.2,3333.3 C2221.2,3352.1 2224.2,3388.8 2225.3,3400"/>
<path d="M2194.5,3083.1 C2195.2,3082.2 2197.3,3078 2198.7,3077.8 C2200.1,3077.5 2202.3,3080.7 2203,3081.3"/>
<path d="M2252,3038.7 C2254.3,3047.6 2263.2,3074.2 2266.1,3091.9 C2269.1,3109.7 2270.3,3127.4 2269.7,3145.2 C2269.1,3162.9 2262.6,3180.7 2262.6,3198.4 C2262.6,3216.1 2266.1,3233.9 2269.7,3251.6 C2273.2,3269.4 2279.7,3287.1 2283.9,3304.9 C2288,3322.6 2291.6,3342.2 2294.5,3358.1 C2297.5,3373.9 2300.4,3393 2301.6,3400" stroke-width="4.5"/>
<path d="M2243.1,3040.5 C2245.4,3049.1 2254.3,3074.5 2257.3,3091.9 C2260.2,3109.4 2261.4,3127.4 2260.8,3145.2 C2260.2,3162.9 2253.7,3180.7 2253.7,3198.4 C2253.7,3216.1 2257.3,3233.9 2260.8,3251.6 C2264.4,3269.4 2270.9,3287.1 2275,3304.9 C2279.2,3322.6 2282.7,3342.2 2285.7,3358.1 C2288.6,3373.9 2291.6,3393 2292.8,3400"/>
<path d="M2298.1,3081.3 C2297.5,3089 2296.3,3110.9 2294.5,3127.4 C2292.8,3144 2287.4,3162.9 2287.4,3180.7 C2287.4,3198.4 2291.6,3216.1 2294.5,3233.9 C2297.5,3251.6 2301,3272.3 2305.2,3287.1 C2309.3,3301.9 2315.2,3313.7 2319.4,3322.6 C2323.5,3331.5 2328.2,3337.4 2330,3340.3" stroke-width="4.5"/>
<path d="M2289.2,3177.1 C2290.4,3186.6 2293.4,3215.6 2296.3,3233.9 C2299.3,3252.2 2302.8,3271.7 2307,3287.1 C2311.1,3302.5 2318.8,3319.6 2321.1,3326.2"/>
<polyline points="2330,3340.3 2354.9,3400"/>
<path d="M2319.4,3319.1 C2321.7,3325.6 2330,3344.6 2333.6,3358.1 C2337.1,3371.6 2339.5,3393 2340.7,3400"/>
<path d="M2362,3031.6 C2362.6,3041.7 2366.7,3073 2365.5,3091.9 C2364.3,3110.9 2354.9,3127.4 2354.9,3145.2 C2354.9,3162.9 2360.8,3181.8 2365.5,3198.4 C2370.2,3215 2377.9,3231.5 2383.3,3244.5 C2388.6,3257.5 2393.9,3263.5 2397.4,3276.5 C2401,3289.5 2404,3302 2404.5,3322.6 C2405.1,3343.2 2401.6,3387.1 2401,3400" stroke-width="4.5"/>
<path d="M2353.1,3035.2 C2353.7,3044.6 2357.8,3073.6 2356.6,3091.9 C2355.5,3110.3 2346,3127.4 2346,3145.2 C2346,3162.9 2351.9,3181.8 2356.6,3198.4 C2361.4,3215 2369.1,3231.5 2374.4,3244.5 C2379.7,3257.5 2385,3263.5 2388.6,3276.5 C2392.1,3289.5 2395.1,3302 2395.7,3322.6 C2396.3,3343.2 2392.7,3387.1 2392.1,3400"/>
<path d="M2415.2,2950 C2416.4,2961.8 2420.5,3000.3 2422.3,3021 C2424.1,3041.7 2426.4,3057.6 2425.8,3074.2 C2425.2,3090.8 2418.1,3105.5 2418.7,3120.3 C2419.3,3135.1 2424.7,3148.7 2429.4,3162.9 C2434.1,3177.1 2443,3194.3 2447.1,3205.5 C2451.3,3216.7 2453,3226.2 2454.2,3230.3" stroke-width="4.5"/>
<path d="M2406.3,2950 C2407.5,2961.8 2411.6,3000.3 2413.4,3021 C2415.2,3041.7 2417.6,3057.6 2417,3074.2 C2416.4,3090.8 2409.3,3105.5 2409.9,3120.3 C2410.5,3135.1 2415.8,3148.7 2420.5,3162.9 C2425.2,3177.1 2434.1,3194.3 2438.3,3205.5 C2442.4,3216.7 2444.2,3226.2 2445.4,3230.3"/>
<path d="M2489.7,2950 C2490.9,2953.5 2494.4,2963 2496.8,2971.3 C2499.2,2979.6 2500.7,2992.6 2503.9,2999.7 C2507.2,3006.8 2513.7,3008.6 2516.3,3013.9 C2519,3019.2 2520.8,3026.3 2519.9,3031.6 C2519,3036.9 2516,3042.3 2511,3045.8 C2506,3049.4 2498.6,3050.8 2489.7,3052.9 C2480.8,3055 2465.5,3058.2 2457.8,3058.2 C2450.1,3058.2 2446.5,3056.2 2443.6,3052.9 C2440.6,3049.7 2439.4,3044 2440,3038.7 C2440.6,3033.4 2442.4,3026 2447.1,3021 C2451.9,3015.9 2459,3012.1 2468.4,3008.6 C2477.9,3005 2498,3001.2 2503.9,2999.7"/>
<path d="M2489.7,3052.9 C2489.1,3059.4 2485,3079.5 2486.2,3091.9 C2487.3,3104.4 2493.3,3115.6 2496.8,3127.4 C2500.4,3139.3 2505.1,3151.1 2507.5,3162.9 C2509.8,3174.7 2508,3189.5 2511,3198.4 C2514,3207.3 2521.9,3210.2 2525.2,3216.1 C2528.4,3222.1 2530.5,3228 2530.5,3233.9 C2530.5,3239.8 2529.6,3246.9 2525.2,3251.6 C2520.8,3256.4 2512.8,3260.2 2503.9,3262.3 C2495,3264.3 2480.2,3265.2 2472,3264.1 C2463.7,3262.9 2458.4,3259 2454.2,3255.2 C2450.1,3251.3 2446.5,3245.7 2447.1,3241 C2447.7,3236.3 2447.1,3232.7 2457.8,3226.8 C2468.4,3220.9 2502.1,3209 2511,3205.5"/>
<path d="M2472,3056.5 C2471.4,3062.4 2467.2,3078.9 2468.4,3091.9 C2469.6,3105 2475.8,3121.5 2479.1,3134.5 C2482.3,3147.5 2486.2,3160 2487.9,3170 C2489.7,3180.1 2489.4,3190.7 2489.7,3194.9"/>
<path d="M2479.1,3056.5 C2478.8,3062.4 2475.8,3078.9 2477.3,3091.9 C2478.8,3105 2484.7,3121.5 2487.9,3134.5 C2491.2,3147.5 2495,3159.4 2496.8,3170 C2498.6,3180.7 2498.3,3193.7 2498.6,3198.4"/>
<path d="M2503.9,3262.3 C2502.7,3266.4 2501.5,3274.1 2496.8,3287.1 C2492.1,3300.1 2479.7,3327.3 2475.5,3340.3 C2471.4,3353.4 2472,3355.3 2472,3365.2 C2472,3375.1 2474.9,3394.2 2475.5,3400"/>
<path d="M2461.3,3262.3 C2459.5,3269.4 2454.2,3291.9 2450.7,3304.9 C2447.1,3317.9 2443.6,3328.5 2440,3340.3 C2436.5,3352.2 2430.6,3365.9 2429.4,3375.8 C2428.2,3385.8 2432.3,3395.9 2432.9,3400"/>
<path d="M2493.3,3265.8 C2491.5,3271.1 2487.9,3283.6 2482.6,3297.8 C2477.3,3312 2464.9,3342.1 2461.3,3351"/>
<path d="M2486.2,3265.8 C2483.8,3272.3 2476.7,3292.4 2472,3304.9 C2467.2,3317.3 2460.1,3334.4 2457.8,3340.3"/>
<polyline points="2489.7,2967.7 2482.6,2985.5"/>
<polyline points="2500.4,2967.7 2491.5,2989"/>
<polyline points="2440,3006.8 2457.8,2996.1"/>
<polyline points="2496.8,3166.5 2507.5,3162.9"/>
<polyline points="2457.8,3223.2 2468.4,3219.7"/>
<polyline points="2298.1,3077.8 2354.9,3042.3 2415.2,3010.3" stroke-width="4.5"/>
<polyline points="2301.6,3084.8 2358.4,3049.4 2417,3017.4"/>
<polyline points="2063.9,3212.6 2166.8,3159.4 2259,3109.7" stroke-width="4.5"/>
<polyline points="2067.4,3219.7 2117.1,3194.9"/>
<polyline points="2191.6,3146.9 2212.9,3136.3" stroke-width="4.5"/>
<polyline points="2230.7,3125.7 2255.5,3113.2" stroke-width="4.5"/>
<polyline points="2063.9,3280 2156.1,3219.7 2259,3162.9" stroke-width="4.5"/>
<polyline points="2062.1,3271.1 2156.1,3212.6 2257.3,3155.8"/>
<polyline points="2117.1,3386.5 2173.9,3354.5 2273.2,3301.3" stroke-width="4.5"/>
<polyline points="2122.4,3395.4 2177.4,3361.6 2275,3308.4"/>
<polyline points="2326.5,3315.5 2393.9,3280 2450.7,3251.6" stroke-width="4.5"/>
<polyline points="2321.1,3304.9 2390.3,3271.1 2445.4,3244.5"/>
<polyline points="2321.1,3304.9 2326.5,3315.5"/>
<polyline points="2393.9,3393.6 2425.8,3375.8"/>
<ellipse cx="2340.7" cy="2990.8" rx="28.4" ry="35.5" transform="rotate(-10 2340.7 2990.8)"/>
<ellipse cx="2340.7" cy="2990.8" rx="19.5" ry="24.8" transform="rotate(-10 2340.7 2990.8)"/>
<ellipse cx="2340.7" cy="2990.8" rx="13.5" ry="17" transform="rotate(-10 2340.7 2990.8)"/>
<ellipse cx="2056.8" cy="3161.1" rx="28.4" ry="35.5" transform="rotate(-10 2056.8 3161.1)"/>
<ellipse cx="2056.8" cy="3161.1" rx="19.5" ry="24.8" transform="rotate(-10 2056.8 3161.1)"/>
<ellipse cx="2056.8" cy="3161.1" rx="13.5" ry="17" transform="rotate(-10 2056.8 3161.1)"/>
<polyline points="2298.1,3077.8 2340.7,3033.4 2354.9,3035.2"/>
<polyline points="2301.6,3081.3 2344.2,3038.7" stroke-width="4.5"/>
<polyline points="2021.3,3241 2056.8,3202 2071,3198.4"/>
<polyline points="2026.6,3239.2 2060.3,3203.7" stroke-width="4.5"/>
<polyline points="2014.2,3063.6 2134.8,2999.7 2145.5,3042.3 2141.9,3067.1 2134.8,3077.8 2117.1,3084.8 2088.7,3090.2"/>
<polyline points="2014.2,3063.6 2021.3,3091.9 2053.2,3116.8 2058.6,3123.9"/>
<polyline points="2134.8,2999.7 2131.3,2990.8 2191.6,2960.6 2212.9,2957.1 2227.1,3003.2 2198.7,3017.4 2188.1,3013.9 2177.4,2985.5"/>
<polyline points="2145.5,2989 2166.8,3038.7 2184.5,3045.8 2227.1,3021"/>
<polyline points="2156.1,3038.7 2157.9,3051.1 2184.5,3047.6"/>
<path d="M2227.1,3003.2 C2228.3,3005 2228.3,3013.3 2234.2,3013.9 C2240.1,3014.5 2257.3,3010.9 2262.6,3006.8 C2267.9,3002.6 2262.6,2993.2 2266.1,2989 C2269.7,2984.9 2277.4,2982.5 2283.9,2981.9 C2290.4,2981.3 2301.6,2984.9 2305.2,2985.5"/>
<polyline points="2248.4,3035.2 2301.6,3021 2305.2,3010.3 2298.1,2985.5"/>
<polyline points="2216.5,3035.2 2248.4,3036.9 2252,3038.7"/>
<polyline points="2220,3031.6 2241.3,3021 2269.7,3017.4 2301.6,3022.7"/>
<polyline points="2047.9,3067.1 2065.6,3060"/>
<polyline points="2053.2,3074.2 2071,3066.4"/>
<polyline points="2055,3081.3 2072.7,3074.2"/>
<polyline points="2090.5,3044 2113.6,3033.4"/>
<polyline points="2094,3052.9 2117.1,3041.6"/>
<polyline points="2099.4,3031.6 2106.5,3067.1"/>
<polyline points="2129.5,3019.2 2145.5,3012.1"/>
<polyline points="2131.3,3026.3 2147.3,3019.2"/>
<ellipse cx="2110" cy="3006.8" rx="10.6" ry="4.6" transform="rotate(-15 2110 3006.8)" fill="#000"/>
<polyline points="2088.7,2950 2106.5,2996.1"/>
<polyline points="2106.5,2971.3 2141.9,2953.5"/>
<polyline points="2000,3060 2088.7,3013.9"/>
<path d="M2000,2996.1 C2003.5,2997.3 2015.4,2999.1 2021.3,3003.2 C2027.2,3007.4 2034.9,3014.5 2035.5,3021 C2036.1,3027.5 2026.6,3038.7 2024.8,3042.3"/>
<polyline points="2042.6,2999.7 2067.4,2994.4"/>
<path d="M2039,2999.7 C2040.8,3003.2 2050.3,3014.5 2049.7,3021 C2049.1,3027.5 2037.9,3035.8 2035.5,3038.7"/>
<polyline points="2000,3091.9 2021.3,3102.6 2053.2,3116.8"/>
<polyline points="2000,3134.5 2017.7,3127.4 2031.9,3138.1"/>
<polyline points="2000,3194.9 2028.4,3198.4 2053.2,3194.9"/>
<polyline points="2269.7,3049.4 2283.9,3077.8 2294.5,3083.1"/>
<polyline points="2262.6,3042.3 2273.2,3067.1"/>
<polyline points="2321.1,3077.8 2324.7,3120.3"/>
<polyline points="2308.7,3120.3 2322.9,3134.5"/>
<polyline points="2301.6,3146.9 2319.4,3138.1"/>
<polyline points="2305.2,3131 2319.4,3123.9"/>
<polyline points="2308.7,3244.5 2333.6,3233.9"/>
<path d="M2340.7,3210.8 C2341,3218.2 2341.6,3242.5 2342.4,3255.2 C2343.3,3267.9 2345.4,3281.8 2346,3287.1"/>
<path d="M2308.7,3244.5 C2309.9,3249.9 2312.9,3266.4 2315.8,3276.5 C2318.8,3286.5 2324.7,3300.1 2326.5,3304.9"/>
<path d="M2344.2,3230.3 C2346.6,3235.7 2355.5,3252.8 2358.4,3262.3 C2361.4,3271.7 2361.4,3283 2362,3287.1"/>
</g>
<!-- 45_loM.svg -->
<g class="l" id="45_loM">
<polyline points="1450,3024.8 1478.4,3021.3 1492.6,3010.6 1489,3000"/>
<polyline points="1496.1,3000 1513.9,3063.9 1531.6,3117.1"/>
<polyline points="1521,3000 1542.3,3071 1552.9,3117.1"/>
<path d="M1538.7,3000 C1541.7,3003.5 1550,3014.8 1556.5,3021.3 C1563,3027.8 1570.7,3036.7 1577.8,3039 C1584.8,3041.4 1593.7,3038.4 1599,3035.5 C1604.4,3032.5 1607.3,3027.2 1609.7,3021.3 C1612.1,3015.4 1612.6,3003.5 1613.2,3000"/>
<polyline points="1450,3095.8 1460.6,3086.9 1496.1,3083.4 1510.3,3086.9 1506.8,3095.8 1489,3104.7 1464.2,3106.5 1450,3102.9"/>
<ellipse cx="1480.2" cy="3095.1" rx="19.5" ry="7.1" transform="rotate(-8 1480.2 3095.1)"/>
<ellipse cx="1480.2" cy="3095.1" rx="14.2" ry="4.6" transform="rotate(-8 1480.2 3095.1)"/>
<polyline points="1467.7,3106.5 1481.9,3163.2"/>
<polyline points="1450,3110 1460.6,3149"/>
<polyline points="1506.8,3095.8 1521,3141.9"/>
<polyline points="1616.8,3007.1 1634.5,3071 1641.6,3095.8"/>
<polyline points="1627.4,3007.1 1648.7,3074.5"/>
<polyline points="1662.9,3035.5 1677.1,3071 1680.7,3102.9"/>
<polyline points="1698.4,3031.9 1719.7,3102.9"/>
<polyline points="1755.2,3000 1769.4,3046.1 1785.3,3088.7"/>
<polygon points="1677.1,3035.5 1698.4,3026.6 1709,3030.2 1698.4,3035.5 1684.2,3039"/>
<ellipse cx="1687.8" cy="3033.7" rx="10.6" ry="3.5" transform="rotate(-15 1687.8 3033.7)"/>
<polyline points="1709,3014.2 1730.3,3007.1 1744.5,3010.6"/>
<ellipse cx="1723.2" cy="3014.2" rx="12.4" ry="4.3" transform="rotate(-15 1723.2 3014.2)"/>
<polyline points="1670,3000 1698.4,3007.1 1709,3014.2"/>
<polyline points="1574.2,3088.7 1627.4,3058.6 1677.1,3031.9" stroke-width="4.5"/>
<polyline points="1574.2,3093 1627.4,3063.2 1677.1,3036.6"/>
<polygon points="1567.1,3099.4 1577.8,3085.2 1602.6,3076.3 1677.1,3074.5 1684.2,3081.6 1687.8,3102.9 1677.1,3106.5 1570.7,3102.9"/>
<polygon points="1584.8,3092.3 1602.6,3083.4 1670,3080.9 1677.1,3088.7 1662.9,3097.6 1591.9,3099.4"/>
<ellipse cx="1615" cy="3086.9" rx="10.6" ry="4.6" transform="rotate(-8 1615 3086.9)"/>
<ellipse cx="1659.4" cy="3084.5" rx="10.6" ry="4.6" transform="rotate(-8 1659.4 3084.5)"/>
<polyline points="1570.7,3101.1 1684.2,3106.5" stroke-width="4.5"/>
<polyline points="1450,3161.5 1485.5,3141.9 1567.1,3102.9"/>
<polyline points="1450,3170.3 1489,3149 1570.7,3113.6 1599,3113.6 1591.9,3124.2 1570.7,3127.8 1510.3,3163.2 1503.2,3170.3"/>
<ellipse cx="1494.4" cy="3141.9" rx="12.4" ry="5" transform="rotate(-15 1494.4 3141.9)"/>
<ellipse cx="1494.4" cy="3141.9" rx="7.8" ry="2.8" transform="rotate(-15 1494.4 3141.9)"/>
<polyline points="1570.7,3127.8 1574.2,3152.6 1623.9,3124.2 1627.4,3120.7"/>
<polyline points="1574.2,3156.1 1620.3,3131.3"/>
<polyline points="1563.6,3166.8 1627.4,3136.6" stroke-width="4.5"/>
<polyline points="1556.5,3149 1567.1,3143.7 1572.4,3156.1"/>
<path d="M1531.6,3184.5 C1534.3,3180.4 1540.5,3176.2 1545.8,3173.9 C1551.1,3171.5 1560,3168.6 1563.6,3170.3 C1567.1,3172.1 1565.9,3178 1567.1,3184.5 C1568.3,3191 1572.4,3203.5 1570.7,3209.4 C1568.9,3215.3 1561.8,3220 1556.5,3220 C1551.1,3220 1543.2,3212.9 1538.7,3209.4 C1534.3,3205.8 1531,3202.9 1529.8,3198.7 C1528.7,3194.6 1529,3188.7 1531.6,3184.5Z"/>
<ellipse cx="1554.7" cy="3200.5" rx="11.7" ry="15.6" transform="rotate(-10 1554.7 3200.5)" stroke-width="4.5"/>
<ellipse cx="1554.7" cy="3200.5" rx="7.1" ry="9.9" transform="rotate(-10 1554.7 3200.5)"/>
<polyline points="1450,3212.9 1528.1,3177.4"/>
<polyline points="1450,3248.4 1567.1,3191.6 1634.5,3156.1 1652.3,3170.3 1659.4,3191.6 1652.3,3205.8"/>
<polyline points="1570.7,3216.5 1648.7,3177.4"/>
<polyline points="1450,3301.6 1542.3,3252"/>
<polyline points="1467.7,3280.3 1556.5,3243.1" stroke-width="4.5"/>
<polyline points="1467.7,3280.3 1474.8,3287.4 1489,3280.3"/>
<path d="M1450,3209.4 C1453.5,3209.4 1465.4,3208.2 1471.3,3209.4 C1477.2,3210.6 1482.5,3212.9 1485.5,3216.5 C1488.4,3220 1485.5,3226.5 1489,3230.7 C1492.6,3234.8 1502.6,3237.2 1506.8,3241.3 C1510.9,3245.4 1514.5,3252 1513.9,3255.5 C1513.3,3259 1505,3261.4 1503.2,3262.6"/>
<path d="M1489,3230.7 C1492.9,3230.1 1507.7,3224.7 1512.1,3227.1 C1516.5,3229.5 1515.1,3241.9 1515.6,3244.9"/>
<path d="M1627.4,3127.8 C1628.6,3130.7 1631,3140.5 1634.5,3145.5 C1638.1,3150.5 1643.4,3156.1 1648.7,3157.9 C1654,3159.7 1662,3158.8 1666.5,3156.1 C1670.9,3153.5 1674.7,3147.9 1675.3,3141.9 C1675.9,3136 1670.9,3124.2 1670,3120.7" stroke-width="4.5"/>
<path d="M1634.5,3129.5 C1635.7,3131.9 1638.7,3140 1641.6,3143.7 C1644.6,3147.4 1648.4,3151 1652.3,3151.9 C1656.1,3152.8 1662.6,3149.5 1664.7,3149" stroke-width="4.5"/>
<path d="M1666.5,3117.1 C1668.2,3120.1 1675.9,3128.3 1677.1,3134.8 C1678.3,3141.4 1675.9,3150.8 1673.6,3156.1 C1671.2,3161.5 1666.5,3164.7 1662.9,3166.8 C1659.4,3168.9 1654,3168.3 1652.3,3168.6"/>
<polyline points="1677.1,3131.3 1705.5,3113.6 1836.8,3101.1 1851,3104.7 1849.2,3113.6 1758.7,3140.2 1716.1,3145.5 1705.5,3152.6 1677.1,3163.2"/>
<ellipse cx="1790.7" cy="3095.1" rx="14.2" ry="5.3" transform="rotate(-12 1790.7 3095.1)" fill="#000"/>
<ellipse cx="1874.1" cy="3104.7" rx="14.2" ry="5.3" transform="rotate(-12 1874.1 3104.7)" fill="#000"/>
<ellipse cx="1874.1" cy="3104.7" rx="6.4" ry="2.1" transform="rotate(-12 1874.1 3104.7)" fill="#fff"/>
<polyline points="1744.5,3106.5 1797.8,3085.2 1840.3,3088.7 1851,3083.4"/>
<polyline points="1851,3113.6 1911.3,3117.1 1975.2,3092.3 2000,3081.6"/>
<path d="M1847.4,3102.9 C1850.4,3102.3 1857.5,3101.1 1865.2,3099.4 C1872.9,3097.6 1877,3096.1 1893.6,3092.3 C1910.1,3088.4 1946.8,3081.3 1964.5,3076.3 C1982.3,3071.3 1994.1,3064.5 2000,3062.1"/>
<ellipse cx="1989.4" cy="3076.3" rx="10.6" ry="4.6" transform="rotate(-15 1989.4 3076.3)" fill="#000"/>
<path d="M1851,3113.6 C1852.8,3117.1 1857.5,3130.1 1861.6,3134.8 C1865.8,3139.6 1866.4,3140.8 1875.8,3141.9 C1885.3,3143.1 1902.4,3146.1 1918.4,3141.9 C1934.4,3137.8 1961.6,3124.2 1971.6,3117.1 C1981.7,3110 1977.6,3102.3 1978.7,3099.4"/>
<path d="M1861.6,3134.8 C1862.8,3141.9 1864,3167.4 1868.7,3177.4 C1873.5,3187.5 1881.2,3192.5 1890,3195.2 C1898.9,3197.8 1916.6,3193.7 1922,3193.4"/>
<path d="M1911.3,3188.1 C1910.1,3184.2 1911.9,3174.5 1914.9,3170.3 C1917.8,3166.2 1920.8,3165 1929.1,3163.2 C1937.3,3161.5 1952.7,3159.7 1964.5,3159.7 C1976.4,3159.7 1992.9,3160.9 2000,3163.2 C2007.1,3165.6 2007.1,3170.3 2007.1,3173.9 C2007.1,3177.4 2014.2,3181.3 2000,3184.5 C1985.8,3187.8 1936.8,3192.8 1922,3193.4 C1907.2,3194 1912.5,3191.9 1911.3,3188.1Z"/>
<polyline points="1943.3,3170.3 2000,3168.6"/>
<path d="M1847.4,3039 C1848,3036.1 1848.6,3026.6 1851,3021.3 C1853.4,3016 1859.9,3009.5 1861.6,3007.1"/>
<path d="M1851,3039 C1858.1,3038.1 1881.7,3036.7 1893.6,3033.7 C1905.4,3030.8 1916.6,3026.9 1922,3021.3 C1927.3,3015.7 1924.9,3003.5 1925.5,3000"/>
<polyline points="1854.5,3039 1868.7,3095.8"/>
<path d="M1922,3031.9 C1924.9,3036.7 1933.8,3055 1939.7,3060.3 C1945.6,3065.6 1947.4,3067.7 1957.5,3063.9 C1967.5,3060 1992.9,3041.7 2000,3037.3"/>
<path d="M1872.3,3000 C1873.5,3002.4 1875.2,3011.2 1879.4,3014.2 C1883.5,3017.2 1891.2,3018.3 1897.1,3017.7 C1903,3017.2 1910.7,3013.6 1914.9,3010.6 C1919,3007.7 1920.8,3001.8 1922,3000"/>
<path d="M1946.8,3046.1 C1948,3044.4 1950.9,3037.6 1953.9,3035.5 C1956.9,3033.4 1961.6,3032.5 1964.5,3033.7 C1967.5,3034.9 1970.5,3041.1 1971.6,3042.6"/>
<path d="M1982.3,3102.9 C1984.1,3101.7 1990,3096.9 1992.9,3095.8 C1995.9,3094.7 1998.9,3096.4 2000,3096.5"/>
<path d="M1975.2,3120.7 C1976.4,3123 1978.2,3131.9 1982.3,3134.8 C1986.4,3137.8 1997.1,3137.8 2000,3138.4"/>
<polyline points="1968.1,3202.3 2000,3236"/>
<polyline points="1975.2,3198.7 2000,3198.7"/>
<ellipse cx="1765.8" cy="3314.8" rx="56.8" ry="79.8" transform="rotate(-20 1765.8 3314.8)" stroke-width="4.5"/>
<ellipse cx="1766.9" cy="3315.8" rx="52.5" ry="75.2" transform="rotate(-20 1766.9 3315.8)"/>
<path d="M1744.5,3244.9 C1743.9,3250.2 1739.8,3264.4 1741,3276.8 C1742.2,3289.2 1745.7,3306.4 1751.6,3319.4 C1757.5,3332.4 1765.8,3346.6 1776.5,3354.9 C1787.1,3363.1 1809,3366.7 1815.5,3369.1"/>
<polyline points="1758.7,3248.4 1751.6,3280.3 1762.3,3319.4 1787.1,3351.3 1819.1,3362"/>
<path d="M1748.1,3212.9 C1751.6,3212.3 1761.1,3208.2 1769.4,3209.4 C1777.7,3210.6 1788.3,3212.3 1797.8,3220 C1807.2,3227.7 1817.3,3241.3 1826.2,3255.5 C1835,3269.7 1845.7,3291 1851,3305.2 C1856.3,3319.4 1858.1,3329.4 1858.1,3340.7 C1858.1,3351.9 1854,3364.9 1851,3372.6 C1848,3380.3 1848,3383.3 1840.3,3386.8 C1832.7,3390.3 1810.8,3392.7 1804.9,3393.9"/>
<path d="M1804.9,3209.4 C1810.8,3215.9 1830.3,3233 1840.3,3248.4 C1850.4,3263.8 1859.9,3286.3 1865.2,3301.6 C1870.5,3317 1872,3328.2 1872.3,3340.7 C1872.6,3353.1 1868.7,3368.5 1867,3376.2 C1865.2,3383.8 1862.5,3385 1861.6,3386.8"/>
<path d="M1843.9,3184.5 C1849.2,3190.4 1866.4,3205.8 1875.8,3220 C1885.3,3234.2 1894.2,3253.1 1900.7,3269.7 C1907.2,3286.3 1913.1,3304 1914.9,3319.4 C1916.6,3334.8 1913.1,3351.9 1911.3,3362 C1909.5,3372 1905.4,3376.7 1904.2,3379.7"/>
<path d="M1922,3209.4 C1926.1,3217.1 1940.3,3240.1 1946.8,3255.5 C1953.3,3270.9 1958,3285.1 1961,3301.6 C1964,3318.2 1965.1,3340.1 1964.5,3354.9 C1964,3369.6 1958.6,3384.4 1957.5,3390.3"/>
<path d="M1957.5,3202.3 C1961,3210 1973.4,3237.2 1978.7,3248.4 C1984.1,3259.6 1987.6,3266.1 1989.4,3269.7"/>
<path d="M1996.5,3283.9 C1997.7,3292.8 2003.6,3319.4 2003.6,3337.1 C2003.6,3354.9 2000,3378.5 1996.5,3390.3 C1992.9,3402.2 1984.7,3405.1 1982.3,3408.1"/>
<path d="M1762.3,3230.7 C1762.6,3231.8 1762.9,3237.2 1764.1,3237.8 C1765.2,3238.3 1768.8,3236 1769.4,3234.2 C1770,3232.4 1767.9,3228.3 1767.6,3227.1"/>
<path d="M1719.7,3156.1 C1722.1,3157.3 1729.7,3160.3 1733.9,3163.2 C1738,3166.2 1741.9,3169.2 1744.5,3173.9 C1747.2,3178.6 1748.7,3185.7 1749.9,3191.6 C1751,3197.5 1751.3,3206.4 1751.6,3209.4"/>
<path d="M1698.4,3191.6 C1700.8,3191.9 1708.5,3191 1712.6,3193.4 C1716.7,3195.8 1720.9,3200.2 1723.2,3205.8 C1725.6,3211.4 1727.4,3221.8 1726.8,3227.1 C1726.2,3232.4 1720.9,3236 1719.7,3237.8"/>
<path d="M1684.2,3188.1 C1687.8,3189.9 1700.2,3191 1705.5,3198.7 C1710.8,3206.4 1714.4,3228.3 1716.1,3234.2"/>
<path d="M1751.6,3149 C1754.6,3150.8 1765.2,3153.8 1769.4,3159.7 C1773.5,3165.6 1774.1,3178 1776.5,3184.5 C1778.8,3191 1778.8,3194.6 1783.6,3198.7 C1788.3,3202.9 1801.3,3207.6 1804.9,3209.4"/>
<polyline points="1783.6,3152.6 1804.9,3145.5 1822.6,3145.5"/>
<path d="M1836.8,3156.1 C1836.2,3158.5 1837.4,3165 1833.3,3170.3 C1829.1,3175.7 1818.5,3185.7 1812,3188.1 C1805.5,3190.4 1797.2,3185.1 1794.2,3184.5"/>
<polyline points="1804.9,3209.4 1822.6,3202.3"/>
<polyline points="1840.3,3182.8 1865.2,3177.4"/>
<path d="M1536.9,3450 C1536.3,3443 1532.5,3421 1533.4,3408.1 C1534.3,3395.2 1537.8,3382.1 1542.3,3372.6 C1546.7,3363.1 1552.9,3355.5 1560,3351.3 C1567.1,3347.2 1577.2,3347.8 1584.8,3347.8 C1592.5,3347.8 1597.9,3347.8 1606.1,3351.3 C1614.4,3354.9 1626.2,3361.4 1634.5,3369.1 C1642.8,3376.7 1648.7,3388 1655.8,3397.4 C1662.9,3406.9 1671.2,3417.1 1677.1,3425.8 C1683,3434.6 1688.9,3445.9 1691.3,3450" stroke-width="4.5"/>
<path d="M1545.8,3450 C1545.2,3443 1541.4,3420.4 1542.3,3408.1 C1543.2,3395.8 1547,3384.4 1551.1,3376.2 C1555.3,3367.9 1560.3,3362 1567.1,3358.4 C1573.9,3354.9 1584.8,3354.9 1591.9,3354.9 C1599,3354.9 1602.6,3354.9 1609.7,3358.4 C1616.8,3362 1627.4,3369.1 1634.5,3376.2 C1641.6,3383.3 1646.4,3392.7 1652.3,3401 C1658.2,3409.3 1665,3417.7 1670,3425.8 C1675,3434 1680.4,3445.9 1682.4,3450"/>
<path d="M1584.8,3450 C1584.3,3443 1580.7,3419.8 1581.3,3408.1 C1581.9,3396.4 1584.8,3386.8 1588.4,3379.7 C1591.9,3372.6 1597.3,3367.9 1602.6,3365.5 C1607.9,3363.1 1613.8,3362.6 1620.3,3365.5 C1626.8,3368.5 1635.1,3375.6 1641.6,3383.3 C1648.1,3390.9 1654,3400.5 1659.4,3411.6 C1664.7,3422.8 1671.2,3443.6 1673.6,3450" stroke-width="4.5"/>
<path d="M1602.6,3322.9 C1605,3322.3 1612.1,3318.2 1616.8,3319.4 C1621.5,3320.6 1627.7,3325.3 1631,3330 C1634.2,3334.8 1636.3,3341.9 1636.3,3347.8 C1636.3,3353.7 1631.9,3362.6 1631,3365.5"/>
<ellipse cx="1622.1" cy="3338.9" rx="10.6" ry="14.2" transform="rotate(-10 1622.1 3338.9)" stroke-width="4.5"/>
<ellipse cx="1622.1" cy="3338.9" rx="5.3" ry="7.8" transform="rotate(-10 1622.1 3338.9)"/>
<polyline points="1599,3326.5 1606.1,3351.3"/>
<polyline points="1606.1,3315.8 1698.4,3269.7"/>
<polyline points="1636.3,3365.5 1712.6,3328.2 1765.8,3315.8"/>
<polyline points="1545.8,3443.6 1648.7,3390.3 1712.6,3354.9"/>
<polyline points="1556.5,3340.7 1606.1,3315.8 1634.5,3301.6"/>
<path d="M1567.1,3301.6 C1563.6,3303.4 1551.7,3307 1545.8,3312.3 C1539.9,3317.6 1534,3330 1531.6,3333.6"/>
<path d="M1528.1,3340.7 C1526.3,3345.4 1520.4,3360.8 1517.4,3369.1 C1514.5,3377.3 1511.5,3386.8 1510.3,3390.3"/>
<polyline points="1556.5,3322.9 1560,3340.7"/>
<path d="M1588.4,3234.2 C1587.2,3241.3 1581.9,3262.6 1581.3,3276.8 C1580.7,3291 1584.3,3312.3 1584.8,3319.4"/>
<polyline points="1609.7,3230.7 1631,3294.5"/>
<polyline points="1645.2,3212.9 1670,3280.3"/>
<polyline points="1513.9,3408.1 1524.5,3450"/>
<path d="M1450,3372.6 C1453.5,3374.4 1464.2,3377.3 1471.3,3383.3 C1478.4,3389.2 1487.3,3397 1492.6,3408.1 C1497.9,3419.2 1501.5,3443 1503.2,3450"/>
<polyline points="1450,3401 1464.2,3397.4 1489,3390.3"/>
<path d="M1450,3418.7 C1451.8,3421.1 1458.3,3427.7 1460.6,3432.9 C1463,3438.1 1463.6,3447.1 1464.2,3450"/>
<path d="M1744.5,3408.1 C1746.3,3406.3 1747.5,3400.4 1755.2,3397.4 C1762.9,3394.5 1776.5,3391.5 1790.7,3390.3 C1804.9,3389.2 1828.5,3390.9 1840.3,3390.3 C1852.2,3389.8 1851,3387.4 1861.6,3386.8 C1872.3,3386.2 1895.4,3385.6 1904.2,3386.8 C1913.1,3388 1912.5,3390.3 1914.9,3393.9 C1917.2,3397.4 1919.6,3404 1918.4,3408.1 C1917.2,3412.2 1909.5,3417 1907.8,3418.7"/>
<path d="M1907.8,3418.7 C1910.1,3417.6 1915.5,3414.6 1922,3411.6 C1928.5,3408.7 1940.3,3402.2 1946.8,3401 C1953.3,3399.8 1956.3,3401.6 1961,3404.5 C1965.7,3407.5 1969.9,3413.4 1975.2,3418.7 C1980.5,3424.1 1988.8,3431.3 1992.9,3436.5 C1997.1,3441.7 1998.9,3447.7 2000,3450"/>
<polyline points="1744.5,3408.1 1748.1,3425.8 1758.7,3450"/>
<path d="M1755.2,3411.6 C1759.3,3412.8 1770,3421.1 1780,3418.7 C1790.1,3416.4 1801.9,3400.4 1815.5,3397.4 C1829.1,3394.5 1851.6,3397.4 1861.6,3401 C1871.7,3404.5 1869.9,3412.2 1875.8,3418.7 C1881.7,3425.2 1892.4,3434.8 1897.1,3440 C1901.9,3445.2 1903,3448.3 1904.2,3450"/>
<polyline points="1780,3418.7 1783.6,3450"/>
<polyline points="1840.3,3390.3 1843.9,3411.6 1865.2,3418.7"/>
<polyline points="1847.4,3404.5 1865.2,3415.2" stroke-width="4.5"/>
<path d="M1918.4,3418.7 C1919.6,3420.5 1920.8,3428.2 1925.5,3429.4 C1930.2,3430.6 1940.3,3424.1 1946.8,3425.8 C1953.3,3427.6 1961.6,3437.7 1964.5,3440"/>
<polyline points="1914.9,3422.3 1922,3450"/>
<path d="M1861.6,3322.9 C1862.2,3317 1869.9,3309.9 1875.8,3305.2 C1881.7,3300.4 1888.8,3296.3 1897.1,3294.5 C1905.4,3292.8 1918.4,3292.8 1925.5,3294.5 C1932.6,3296.3 1937,3300.4 1939.7,3305.2 C1942.4,3309.9 1943.8,3317.6 1941.5,3322.9 C1939.1,3328.2 1933.5,3333.6 1925.5,3337.1 C1917.5,3340.7 1902.4,3343.6 1893.6,3344.2 C1884.7,3344.8 1877.6,3344.2 1872.3,3340.7 C1867,3337.1 1861,3328.8 1861.6,3322.9Z"/>
<ellipse cx="1929.1" cy="3303.4" rx="5" ry="6.4"/>
<polyline points="1939.7,3291 1968.1,3280.3"/>
</g>
<!-- 50_pipe39193.svg -->
<g class="l" id="50_pipe39193">
<ellipse cx="2156.6" cy="2062.9" rx="19" ry="11.4" transform="rotate(-42 2156.6 2062.9)"/>
<ellipse cx="2156.6" cy="2062.9" rx="11.4" ry="5.4" transform="rotate(-42 2156.6 2062.9)"/>
<polyline points="2236,2102.3 2331.2,2058.8" stroke-width="4.5"/>
<polyline points="2238.7,2109.1 2332.6,2065.6"/>
<polyline points="2234.7,2105.6 2331.2,2062.1" stroke-width="4.5"/>
<polyline points="2230.6,2145.9 2295.9,2113.2 2301.3,2107.8 2323.1,2096.9"/>
<polyline points="2217,2115.9 2241.5,2106.4"/>
<path d="M2149,2137.7 C2151.2,2133.2 2157.6,2128.6 2162.6,2126.8 C2167.6,2125 2174.4,2125 2178.9,2126.8 C2183.4,2128.6 2185.7,2134.1 2189.8,2137.7 C2193.9,2141.3 2200.7,2145.4 2203.4,2148.6 C2206.1,2151.8 2207.9,2151.8 2206.1,2156.7 C2204.3,2161.7 2197,2174.2 2192.5,2178.5 C2188,2182.8 2183,2183.5 2178.9,2182.6 C2174.8,2181.7 2173,2177.8 2168,2173.1 C2163,2168.3 2152.1,2159.9 2149,2154 C2145.8,2148.1 2146.7,2142.2 2149,2137.7Z"/>
<ellipse cx="2155.8" cy="2167.6" rx="9" ry="12.2" transform="rotate(-25 2155.8 2167.6)" stroke-width="4.5"/>
<ellipse cx="2156.6" cy="2168.4" rx="5.4" ry="8.2" transform="rotate(-25 2156.6 2168.4)"/>
<ellipse cx="2191.1" cy="2167.6" rx="9" ry="12.2" transform="rotate(-25 2191.1 2167.6)"/>
<ellipse cx="2191.7" cy="2168.2" rx="4.9" ry="7.1" transform="rotate(-25 2191.7 2168.2)"/>
<path d="M2192.5,2115.9 C2194.3,2113.2 2198.8,2103.7 2203.4,2099.6 C2207.9,2095.5 2215.6,2092.6 2219.7,2091.5 C2223.8,2090.3 2225.1,2091 2227.9,2092.8 C2230.6,2094.6 2232.8,2098.9 2236,2102.3 C2239.2,2105.7 2246,2110 2246.9,2113.2 C2247.8,2116.4 2244.6,2119.6 2241.5,2121.4 C2238.3,2123.2 2231.9,2125 2227.9,2124.1 C2223.8,2123.2 2218.8,2117.3 2217,2115.9"/>
<polyline points="2192.5,2115.9 2187.1,2129.5 2192.5,2140.4"/>
<polyline points="2181.6,2129.5 2222.4,2113.2" stroke-width="4.5"/>
<polyline points="2184.3,2137.7 2219.7,2121.4"/>
<path d="M2208.8,2151.3 C2209.7,2149.5 2212,2142.9 2214.3,2140.4 C2216.5,2137.9 2220.1,2136.3 2222.4,2136.3 C2224.7,2136.3 2227.9,2137.9 2227.9,2140.4 C2227.9,2142.9 2224.7,2148.8 2222.4,2151.3 C2220.1,2153.8 2215.6,2154.7 2214.3,2155.4"/>
<ellipse cx="2219.7" cy="2145.9" rx="6" ry="9.8" transform="rotate(-25 2219.7 2145.9)"/>
<ellipse cx="2314.9" cy="2098.3" rx="6" ry="10.3" transform="rotate(-25 2314.9 2098.3)"/>
<path d="M2317.6,2037.1 C2319,2035.2 2322.6,2029.1 2325.8,2026.2 C2329,2023.2 2333.5,2020.3 2336.7,2019.4 C2339.8,2018.5 2342.6,2021.4 2344.8,2020.7 C2347.1,2020 2348,2016.2 2350.3,2015.3 C2352.5,2014.4 2355.5,2013.9 2358.4,2015.3 C2361.4,2016.6 2367.5,2020.7 2368,2023.4 C2368.4,2026.2 2363.2,2028.4 2361.2,2031.6 C2359.1,2034.8 2358.4,2040.5 2355.7,2042.5 C2353,2044.5 2346.6,2043.6 2344.8,2043.9"/>
<path d="M2317.6,2037.1 C2317.9,2039.8 2316.7,2049.7 2319,2053.4 C2321.3,2057 2327.8,2055.2 2331.2,2058.8 C2334.6,2062.4 2336.2,2072 2339.4,2075.1 C2342.6,2078.3 2344.8,2078.3 2350.3,2077.9 C2355.7,2077.4 2368,2076 2372,2072.4 C2376.1,2068.8 2375.2,2060.2 2374.8,2056.1 C2374.3,2052 2372.5,2050.2 2369.3,2047.9 C2366.1,2045.7 2358,2043.4 2355.7,2042.5"/>
<ellipse cx="2353" cy="2027.5" rx="6" ry="10.9" transform="rotate(-25 2353 2027.5)" stroke-width="4.5"/>
<ellipse cx="2362.5" cy="2061.5" rx="10.9" ry="13.6" transform="rotate(-25 2362.5 2061.5)"/>
<ellipse cx="2362.5" cy="2061.5" rx="6" ry="7.6" transform="rotate(-25 2362.5 2061.5)"/>
<ellipse cx="2381.6" cy="2062.9" rx="5.4" ry="9.2" transform="rotate(-25 2381.6 2062.9)"/>
<path d="M2382.9,2020.7 C2385.6,2018.7 2393.3,2011.2 2399.2,2008.5 C2405.1,2005.8 2412.8,2004.2 2418.3,2004.4 C2423.7,2004.6 2428.3,2006.2 2431.9,2009.8 C2435.5,2013.5 2438.9,2020.7 2440,2026.2 C2441.2,2031.6 2440.3,2037.1 2438.7,2042.5 C2437.1,2047.9 2433.9,2055.6 2430.5,2058.8 C2427.1,2062 2422.1,2061.5 2418.3,2061.5 C2414.4,2061.5 2409.9,2062 2407.4,2058.8 C2404.9,2055.6 2403.8,2047 2403.3,2042.5 C2402.9,2038 2404.5,2033.4 2404.7,2031.6"/>
<path d="M2430.5,2026.2 C2429.4,2025.7 2426,2023 2423.7,2023.4 C2421.5,2023.9 2417.8,2026.6 2416.9,2028.9 C2416,2031.2 2416.7,2035.5 2418.3,2037.1 C2419.9,2038.6 2425.1,2038.2 2426.4,2038.4"/>
<polyline points="2368,2031.6 2404.7,2018"/>
<polyline points="2365.2,2037.1 2407.4,2022.1"/>
<polyline points="2369.3,2041.1 2406,2027.5" stroke-width="4.5"/>
<polyline points="2372,2047.9 2402,2037.1"/>
<polyline points="2382.9,2020.7 2388.4,2023.4 2404.7,2018"/>
<polyline points="2404.7,2031.6 2407.4,2045.2 2410.1,2057.5"/>
<polyline points="2421,2058.8 2426.4,2050.7"/>
</g>
<!-- 51_tube92005.svg -->
<g class="l" id="51_tube92005">
<ellipse cx="365.9" cy="2313.8" rx="26.4" ry="9.1" transform="rotate(-15 365.9 2313.8)"/>
<ellipse cx="365.9" cy="2314.6" rx="22.2" ry="6.9" transform="rotate(-15 365.9 2314.6)"/>
<path d="M339.6,2319.6 C339.7,2321.2 339.3,2324.5 340.4,2329.4 C341.5,2334.4 345.2,2344.5 346.1,2349.2 C347.1,2353.9 343.7,2348.7 346.1,2357.5 C348.6,2366.2 357.7,2393.4 361,2402 C364.3,2410.5 363.2,2400.9 365.9,2408.5 C368.7,2416.2 375,2440.1 377.5,2448.1 C379.9,2456.1 379.7,2454.5 380.8,2456.3 C381.9,2458.1 383.5,2458.4 384,2458.8"/>
<path d="M390.6,2306.4 C391.7,2310.5 395.2,2326.1 397.2,2331.1 C399.3,2336 399.6,2327.2 403,2336 C406.4,2344.8 415.5,2374.2 417.8,2383.8 C420.2,2393.4 415.2,2386.6 417,2393.7 C418.8,2400.9 426.1,2418.7 428.5,2426.7 C431,2434.6 431.3,2439 431.8,2441.5"/>
<path d="M384,2458.8 C386.5,2458.8 393.7,2459.8 398.9,2458.8 C404.1,2457.8 410.1,2455.4 415.4,2453 C420.6,2450.7 427.4,2446.7 430.2,2444.8 C432.9,2442.9 431.6,2442.1 431.8,2441.5"/>
<path d="M350.3,2355 C352.9,2355.3 360.6,2357 365.9,2356.6 C371.3,2356.2 376.6,2355.4 382.4,2352.5 C388.2,2349.6 397.5,2341.5 400.5,2339.3"/>
<path d="M365.9,2407.7 C369.2,2407.9 379.7,2409.2 385.7,2408.5 C391.7,2407.9 396.8,2406.6 402.2,2403.6 C407.5,2400.6 415.2,2392.6 417.8,2390.4"/>
<path d="M379.1,2444 C382.4,2444.1 392.8,2445.8 398.9,2444.8 C404.9,2443.8 410,2441 415.4,2438.2 C420.7,2435.5 428.4,2430 431,2428.3"/>
<ellipse cx="450.8" cy="2589" rx="32.1" ry="10.7" transform="rotate(-15 450.8 2589)"/>
<ellipse cx="450.8" cy="2589.8" rx="24.7" ry="7.4" transform="rotate(-15 450.8 2589.8)"/>
<polyline points="418.7,2596.4 431.8,2640.9"/>
<polyline points="482.1,2578.3 500.2,2640.9"/>
</g>
<!-- 52_clamp.svg -->
<g class="l" id="52_clamp">
<path d="M398.9,2509.1 C402.2,2506 409,2503 415.4,2500.8 C421.7,2498.6 430.2,2496.8 436.8,2495.9 C443.4,2494.9 451.2,2494.5 454.9,2495.1 C458.6,2495.6 458.2,2496.8 459,2499.2 C459.9,2501.5 458.5,2504.4 459.9,2509.1 C461.2,2513.7 466.2,2523.4 467.3,2527.2 C468.4,2531 469.6,2529.4 466.4,2532.1 C463.3,2534.9 455.2,2540.7 448.3,2543.7 C441.5,2546.7 431.8,2548.9 425.2,2550.3 C418.7,2551.6 412.6,2552.2 408.8,2551.9 C404.9,2551.6 404.1,2552.7 402.2,2548.6 C400.3,2544.5 398.3,2532.1 397.2,2527.2 C396.1,2522.3 395.3,2522 395.6,2519 C395.9,2515.9 395.6,2512.1 398.9,2509.1Z"/>
<ellipse cx="426.9" cy="2509.9" rx="29.7" ry="10.2" transform="rotate(-15 426.9 2509.9)"/>
<ellipse cx="425.2" cy="2511.5" rx="23.1" ry="6.6" transform="rotate(-15 425.2 2511.5)"/>
<polygon points="377.5,2519 392.3,2515.7 389.8,2522.3 392.3,2537.1 398.9,2543.7 387.3,2547.8 382.4,2543.7"/>
<polygon points="407.9,2532.1 435.1,2528.8 436.8,2535.4 412.1,2542"/>
<polyline points="413.7,2536.3 431.8,2531.8"/>
<polygon points="456.6,2515.7 462.3,2514 463.2,2523.9 456.6,2523.9" fill="#000"/>
</g>
<!-- 53_clamp2.svg -->
<g class="l" id="52_clamp2" transform="translate(-59.4,774.5)">
<path d="M398.9,2509.1 C402.2,2506 409,2503 415.4,2500.8 C421.7,2498.6 430.2,2496.8 436.8,2495.9 C443.4,2494.9 451.2,2494.5 454.9,2495.1 C458.6,2495.6 458.2,2496.8 459,2499.2 C459.9,2501.5 458.5,2504.4 459.9,2509.1 C461.2,2513.7 466.2,2523.4 467.3,2527.2 C468.4,2531 469.6,2529.4 466.4,2532.1 C463.3,2534.9 455.2,2540.7 448.3,2543.7 C441.5,2546.7 431.8,2548.9 425.2,2550.3 C418.7,2551.6 412.6,2552.2 408.8,2551.9 C404.9,2551.6 404.1,2552.7 402.2,2548.6 C400.3,2544.5 398.3,2532.1 397.2,2527.2 C396.1,2522.3 395.3,2522 395.6,2519 C395.9,2515.9 395.6,2512.1 398.9,2509.1Z"/>
<ellipse cx="426.9" cy="2509.9" rx="29.7" ry="10.2" transform="rotate(-15 426.9 2509.9)"/>
<ellipse cx="425.2" cy="2511.5" rx="23.1" ry="6.6" transform="rotate(-15 425.2 2511.5)"/>
<polygon points="377.5,2519 392.3,2515.7 389.8,2522.3 392.3,2537.1 398.9,2543.7 387.3,2547.8 382.4,2543.7"/>
<polygon points="407.9,2532.1 435.1,2528.8 436.8,2535.4 412.1,2542"/>
<polyline points="413.7,2536.3 431.8,2531.8"/>
<polygon points="456.6,2515.7 462.3,2514 463.2,2523.9 456.6,2523.9" fill="#000"/>
</g>
<!-- 54_nozzle_sensor.svg -->
<g class="l" id="54_nozzle_sensor">
<ellipse cx="391" cy="3371.6" rx="27.3" ry="11.2" transform="rotate(-10 391 3371.6)"/>
<ellipse cx="391" cy="3372.4" rx="18.6" ry="7" transform="rotate(-10 391 3372.4)"/>
<path d="M363.7,3375.4 C364.2,3376.8 363.5,3381.8 366.9,3384.1 C370.4,3386.3 377.3,3389 384.3,3389 C391.4,3389 403.4,3386.5 409.2,3384.1 C415,3381.6 417.4,3375.8 419.1,3374.1"/>
<polyline points="365.7,3384.1 375.6,3428.8"/>
<polyline points="417.9,3364.2 429,3411.4"/>
<polyline points="411.6,3379.1 422.8,3423.8"/>
<path d="M374.4,3425 C377.3,3425.5 385.1,3427.7 391.8,3427.5 C398.4,3427.3 407.5,3426.3 414.1,3423.8 C420.8,3421.3 428.6,3414.5 431.5,3412.6"/>
<path d="M375.6,3431.3 C378.7,3431.7 387.4,3434.2 394.3,3433.7 C401.1,3433.3 410.2,3431.5 416.6,3428.8 C423,3426.1 430.1,3419.5 432.8,3417.6"/>
<polyline points="381.8,3432.5 393,3479.7 437.7,3508.3 451.4,3500.8 448.9,3488.4 431.5,3428.8"/>
<polyline points="384.3,3436.2 431.5,3478.5 437.7,3479.7"/>
<polyline points="422.8,3428.8 439,3483.4 445.2,3503.3"/>
<polyline points="429,3428.8 443.9,3478.5 451.4,3498.3"/>
<path d="M544.5,3308.3 C545.4,3303.1 549.7,3296.3 554.5,3290.9 C559.2,3285.5 563.8,3278.5 573.1,3276 C582.4,3273.5 601.9,3274.2 610.4,3276 C618.8,3277.9 620.3,3282.4 624,3287.2 C627.7,3292 630.8,3300 632.7,3304.6 C634.6,3309.1 636,3310 635.2,3314.5 C634.4,3319.1 631.5,3326.5 627.7,3331.9 C624,3337.3 617.4,3343.5 612.8,3346.8 C608.3,3350.1 606.6,3351.4 600.4,3351.8 C594.2,3352.2 581.8,3351.4 575.6,3349.3 C569.4,3347.2 567.5,3343.9 563.2,3339.4 C558.8,3334.8 552.6,3327.1 549.5,3322 C546.4,3316.8 543.7,3313.5 544.5,3308.3Z"/>
<ellipse cx="605.4" cy="3314" rx="21.1" ry="37.3" transform="rotate(-5 605.4 3314)"/>
<polyline points="569.4,3283.5 581.8,3282.2 573.1,3298.4 561.9,3299.6"/>
<polyline points="560.7,3319.5 570.6,3317 575.6,3336.9 565.6,3335.6"/>
<path d="M554.5,3290.9 C554.1,3294 552.2,3304 552,3309.5 C551.8,3315.1 551.4,3319.5 553.2,3324.5 C555.1,3329.4 561.5,3336.9 563.2,3339.4"/>
<polyline points="559.4,3289.7 559.4,3326.9"/>
<ellipse cx="602.9" cy="3313.3" rx="8.7" ry="14.9"/>
<ellipse cx="610.4" cy="3313.3" rx="7.5" ry="12.4"/>
<ellipse cx="624" cy="3313.3" rx="9.9" ry="13.7" fill="#fff"/>
<polyline points="602.9,3299.6 624,3299.6"/>
<polyline points="602.9,3326.9 624,3326.9"/>
</g>
<!-- 55_bearings.svg -->
<g class="l" id="55_bearings">
<path d="M830.3,3582.9 C833.9,3581.3 845.6,3573.8 851.7,3573.2 C857.9,3572.5 863.8,3575.5 867.4,3579 C870.9,3582.6 872.9,3589.8 873.2,3594.6 C873.5,3599.5 872.9,3604.4 869.3,3608.3 C865.7,3612.2 856.3,3616.3 851.7,3618.1 C847.2,3619.8 843.6,3618.7 842,3618.8"/>
<ellipse cx="839.3" cy="3600.5" rx="13.7" ry="18.7" transform="rotate(-15 839.3 3600.5)"/>
<ellipse cx="839.3" cy="3600.5" rx="7.8" ry="11.7" transform="rotate(-15 839.3 3600.5)"/>
<path d="M769.8,3608.3 C772.4,3607.3 779.5,3601.8 785.4,3602.5 C791.2,3603.1 800.3,3607 804.9,3612.2 C809.5,3617.4 811.7,3627.8 812.7,3633.7 C813.7,3639.5 813.4,3643.4 810.8,3647.3 C808.2,3651.2 799.4,3655.5 797.1,3657.1"/>
<ellipse cx="782.3" cy="3633.7" rx="21.5" ry="28.1" transform="rotate(-20 782.3 3633.7)"/>
<ellipse cx="782.3" cy="3633.7" rx="14.8" ry="19.5" transform="rotate(-20 782.3 3633.7)"/>
<ellipse cx="782.3" cy="3633.7" rx="9.8" ry="12.9" transform="rotate(-20 782.3 3633.7)"/>
<ellipse cx="782.3" cy="3633.7" rx="7" ry="9.8" transform="rotate(-20 782.3 3633.7)"/>
<path d="M717.1,3694.2 C715.5,3692.6 710.2,3689.3 707.3,3684.4 C704.4,3679.5 700.5,3670.8 699.5,3664.9 C698.5,3659 699.2,3652.9 701.5,3649.3 C703.7,3645.7 708.9,3643.4 713.2,3643.4 C717.4,3643.4 722.9,3645.7 726.8,3649.3 C730.7,3652.9 734.3,3659 736.6,3664.9 C738.9,3670.8 740.8,3679.2 740.5,3684.4 C740.2,3689.6 735.6,3694.2 734.6,3696.1" stroke-width="4.5"/>
<path d="M721,3690.3 C719.5,3688.6 714.6,3684.7 712,3680.5 C709.4,3676.3 706.3,3669.5 705.4,3664.9 C704.5,3660.3 705,3655.9 706.5,3653.2 C708,3650.5 711.3,3648.4 714.3,3648.5 C717.4,3648.6 721.8,3650.9 724.9,3654 C727.9,3657 730.9,3662.1 732.7,3666.9 C734.5,3671.6 736.1,3678.6 735.8,3682.5 C735.5,3686.4 731.6,3689 730.7,3690.3"/>
<polyline points="717.1,3694.2 721,3690.3 719,3684.4"/>
<polyline points="734.6,3696.1 730.7,3690.3 732.7,3684.4"/>
<ellipse cx="1011.8" cy="3748.8" rx="52.7" ry="76.1" transform="rotate(-25 1011.8 3748.8)"/>
<ellipse cx="1014.1" cy="3750" rx="47.6" ry="70.3" transform="rotate(-25 1014.1 3750)"/>
<ellipse cx="1015.7" cy="3750.8" rx="43.7" ry="65.6" transform="rotate(-25 1015.7 3750.8)" class="n"/>
<ellipse cx="1016.5" cy="3753.9" rx="34.3" ry="54.6" transform="rotate(-25 1016.5 3753.9)" stroke-width="4.5"/>
<ellipse cx="1019.6" cy="3750.8" rx="29.3" ry="48.8" transform="rotate(-25 1019.6 3750.8)" class="n"/>
<path d="M984.4,3676.6 C987.7,3675.6 996.2,3669.5 1004,3670.8 C1011.8,3672.1 1022.8,3677.6 1031.3,3684.4 C1039.7,3691.2 1047.9,3702 1054.7,3711.7 C1061.5,3721.5 1068.4,3732.6 1072.3,3743 C1076.2,3753.4 1078.5,3763.8 1078.1,3774.2 C1077.8,3784.6 1074.2,3797.9 1070.3,3805.4 C1066.4,3812.9 1059.9,3816.3 1054.7,3819.1 C1049.5,3821.8 1041.7,3821.4 1039.1,3821.8"/>
<path d="M1242.1,3774.2 C1246,3772.2 1257.7,3763.8 1265.5,3762.5 C1273.3,3761.2 1282.7,3763.1 1288.9,3766.4 C1295.1,3769.6 1300,3775.5 1302.6,3782 C1305.2,3788.5 1305.5,3798.9 1304.5,3805.4 C1303.5,3811.9 1303.2,3816.8 1296.7,3821 C1290.2,3825.3 1270.7,3829.2 1265.5,3830.8"/>
<ellipse cx="1261.6" cy="3805.4" rx="21.5" ry="29.3" transform="rotate(-20 1261.6 3805.4)"/>
<ellipse cx="1261.6" cy="3805.4" rx="15.6" ry="22.6" transform="rotate(-20 1261.6 3805.4)"/>
<polyline points="1251.8,3793.7 1257.7,3821"/>
<polyline points="1256.9,3789.8 1263.5,3819.1"/>
<polyline points="1261.6,3787.9 1268.6,3815.2"/>
<polyline points="1266.7,3787.9 1273.3,3811.3"/>
<polyline points="1247.9,3801.5 1253,3823"/>
<ellipse cx="1183.5" cy="3848.4" rx="26.5" ry="37.1" transform="rotate(-25 1183.5 3848.4)" stroke-width="4.5"/>
<ellipse cx="1183.5" cy="3848.4" rx="22.6" ry="32.8" transform="rotate(-25 1183.5 3848.4)" stroke-width="4.5"/>
<ellipse cx="1184.3" cy="3849.1" rx="11.7" ry="19.5" transform="rotate(-25 1184.3 3849.1)"/>
<path d="M1167.9,3815.2 C1171.2,3814.5 1180.9,3809 1187.4,3811.3 C1193.9,3813.5 1202.1,3821.4 1206.9,3828.8 C1211.8,3836.3 1215.7,3848.4 1216.7,3856.2 C1217.7,3864 1215.1,3871.1 1212.8,3875.7 C1210.5,3880.2 1204.7,3882.2 1203,3883.5"/>
<ellipse cx="1184.3" cy="3849.1" rx="17.6" ry="26.5" transform="rotate(-25 1184.3 3849.1)" class="n"/>
</g>
<!-- 56_plates.svg -->
<g class="l" id="56_plates">
<path d="M2735.3,2654.3 C2735.6,2651.2 2736,2649.4 2737.8,2647.6 C2739.6,2645.8 2739.8,2642.7 2746.1,2643.5 C2752.5,2644.3 2770.1,2650.3 2775.9,2652.6 C2781.7,2654.9 2779.4,2652.3 2780.9,2657.6 C2782.4,2662.8 2784.7,2678.5 2785,2684.1 C2785.3,2689.6 2784.1,2689.2 2782.5,2690.7 C2781,2692.2 2781.4,2694.4 2775.9,2693.2 C2770.4,2691.9 2755.2,2686.4 2749.4,2683.2 C2743.6,2680.1 2743.3,2677 2741.1,2674.1 C2738.9,2671.2 2737.1,2669.2 2736.2,2665.8 C2735.2,2662.5 2735.1,2657.3 2735.3,2654.3Z" fill="#fff"/>
<path d="M2749.4,2644.3 C2753.6,2646 2769.4,2651.8 2774.3,2654.3 C2779.1,2656.7 2777.2,2654 2778.4,2659.2 C2779.6,2664.5 2781.7,2680.2 2781.7,2685.7 C2781.7,2691.2 2778.9,2691.2 2778.4,2692.3"/>
<ellipse cx="2750.7" cy="2665.8" rx="7" ry="10.3" transform="rotate(-15 2750.7 2665.8)" stroke-width="4.5"/>
<ellipse cx="2751.4" cy="2666.2" rx="3" ry="5" transform="rotate(-15 2751.4 2666.2)"/>
<path d="M2693.1,2819.8 C2693,2814.9 2694.2,2816.1 2695.6,2814.9 C2697,2813.6 2696.3,2811.3 2701.4,2812.4 C2706.5,2813.5 2720.7,2818.9 2726.2,2821.5 C2731.8,2824.1 2732,2824.8 2734.5,2828.1 C2737,2831.4 2739.8,2837.5 2741.1,2841.4 C2742.5,2845.2 2743.1,2848.3 2742.8,2851.3 C2742.5,2854.3 2741.4,2857.5 2739.5,2859.6 C2737.6,2861.7 2734,2863.3 2731.2,2863.7 C2728.4,2864.1 2727.6,2863.9 2722.9,2862.1 C2718.2,2860.3 2707.5,2855.9 2703.1,2853 C2698.6,2850.1 2698.1,2850.2 2696.4,2844.7 C2694.8,2839.2 2693.3,2824.8 2693.1,2819.8Z" fill="#fff"/>
<path d="M2699.7,2814.1 C2703.9,2815.6 2719.2,2820.9 2724.6,2823.5 C2730,2826.1 2729.8,2826.7 2732,2829.8 C2734.2,2832.9 2736.6,2838.5 2737.8,2842.2 C2739.1,2845.9 2739.6,2849.2 2739.5,2852.1 C2739.3,2855 2737.4,2858.3 2737,2859.6"/>
<ellipse cx="2722.1" cy="2843.9" rx="7" ry="10.3" transform="rotate(-15 2722.1 2843.9)" stroke-width="4.5"/>
<ellipse cx="2722.8" cy="2844.2" rx="3" ry="5" transform="rotate(-15 2722.8 2844.2)"/>
<path d="M2377.1,1703.8 C2382,1699.9 2402.1,1695.9 2408.3,1694.7 C2414.4,1693.5 2410.7,1690.4 2413.7,1696.5 C2416.8,1702.6 2425.4,1724.6 2426.6,1731.3 C2427.8,1738 2426,1735.3 2421.1,1736.8 C2416.2,1738.3 2402.8,1740.8 2397.3,1740.5 C2391.8,1740.2 2391.2,1738.6 2388.1,1735 C2385,1731.3 2380.8,1723.7 2378.9,1718.5 C2377.1,1713.3 2372.2,1707.8 2377.1,1703.8Z" fill="#fff"/>
<path d="M2406.4,1696.5 C2407.3,1697.1 2409.3,1694.5 2411.9,1700.2 C2414.5,1705.8 2420.3,1725.4 2422,1730.4"/>
<ellipse cx="2393.6" cy="1720.3" rx="11" ry="15.6" transform="rotate(-15 2393.6 1720.3)" stroke-width="4.5"/>
<ellipse cx="2394.5" cy="1721.2" rx="5.9" ry="9.5" transform="rotate(-15 2394.5 1721.2)"/>
<path d="M2435.7,1711.2 C2438.5,1704.9 2454.4,1704.1 2461.4,1704.7 C2468.4,1705.4 2474.1,1709.8 2477.9,1714.8 C2481.7,1719.9 2484.3,1729.8 2484.3,1735 C2484.3,1740.2 2483.2,1743.5 2477.9,1746 C2472.5,1748.4 2457.7,1750.2 2452.2,1749.6 C2446.7,1749 2447.6,1748.7 2444.9,1742.3 C2442.1,1735.9 2433,1717.4 2435.7,1711.2Z" fill="#fff"/>
<ellipse cx="2466.9" cy="1727.7" rx="14.3" ry="19.8" transform="rotate(-15 2466.9 1727.7)" stroke-width="4.5"/>
<ellipse cx="2468.7" cy="1728.6" rx="9.2" ry="14.3" transform="rotate(-15 2468.7 1728.6)"/>
<ellipse cx="2469.6" cy="1729.1" rx="5.5" ry="9.2" transform="rotate(-15 2469.6 1729.1)"/>
</g>
<!-- 57_hose.svg -->
<g class="l" id="57_hose">
<path d="M420,2599 C423.3,2609.7 431.9,2644.7 440,2663 C448.1,2681.3 451.2,2692.4 468.4,2709 C485.6,2725.6 524.1,2742.4 543,2762.6 C561.9,2782.8 572,2812.3 582,2830 C592,2847.7 598.9,2859.5 603,2869 C607.1,2878.5 606.2,2883.8 606.8,2886.8"/>
<path d="M606.8,2886.8 C588.5,2893.1 527,2910.2 496.8,2924.4 C466.6,2938.6 450.6,2952.2 425.8,2972 C401,2991.8 366.8,3022.3 347.8,3043 C328.8,3063.7 320.3,3076.5 312,3096 C303.7,3115.5 296.8,3139.3 298,3160 C299.2,3180.7 315.8,3210.3 319.4,3220.4"/>
<path d="M484.7,2585 C488.1,2596.3 498.3,2637.8 505,2652.6 C511.7,2667.4 511,2662.8 525,2674 C539,2685.2 573.6,2704.7 589,2720 C604.4,2735.3 606.8,2747.7 617.5,2766 C628.2,2784.3 644.1,2810.5 653,2830 C661.9,2849.5 670.7,2867 670.7,2883 C670.7,2899 660.7,2915.7 653,2925.8 C645.3,2935.9 645.9,2934.7 624.6,2943.6 C603.3,2952.5 553.4,2965.4 525,2979 C496.6,2992.6 477.7,3006.1 454,3025 C430.3,3043.9 397.2,3074.8 383,3092.6 C368.8,3110.4 370.7,3118.1 369,3131.7 C367.3,3145.3 370.5,3161.9 372.6,3174 C374.7,3186.1 380.3,3199 381.8,3204"/>
<path d="M319.4,3220.4 C322.8,3221.3 332.4,3226.4 340,3226 C347.6,3225.6 358,3221.7 365,3218 C372,3214.3 379,3206.3 381.8,3204"/>
<ellipse cx="1315.9" cy="1924.3" rx="42" ry="42"/>
<ellipse cx="331.5" cy="2208" rx="43" ry="43"/>
<ellipse cx="1409.6" cy="2032.2" rx="29.5" ry="13" transform="rotate(-20 1409.6 2032.2)"/>
<ellipse cx="1409.6" cy="2032.2" rx="22" ry="7" transform="rotate(-20 1409.6 2032.2)"/>
</g>
<!-- 60_small.svg -->
<g id="small">
<g transform="translate(2399,1486.7) rotate(-29.6)" fill="#fff" stroke="#000" stroke-width="3" stroke-linejoin="round">
<path d="M0,-13.7 L31.8,-13.7 A8.9,13.7 0 0 1 31.8,13.7 L0,13.7 Z"/>
<ellipse cx="0" cy="0" rx="8.9" ry="13.7"/>
</g>
<g transform="translate(2431,1652.5) rotate(-30.9)" fill="#fff" stroke="#000" stroke-width="3" stroke-linejoin="round">
<path d="M0,-13.5 L32.2,-13.5 A8.8,13.5 0 0 1 32.2,13.5 L0,13.5 Z"/>
<ellipse cx="0" cy="0" rx="8.8" ry="13.5"/>
</g>
<g transform="translate(2670.7,1937.3) rotate(-27.8)" fill="#fff" stroke="#000" stroke-width="3" stroke-linejoin="round">
<path d="M0,-13.5 L26.3,-13.5 A8.8,13.5 0 0 1 26.3,13.5 L0,13.5 Z"/>
<ellipse cx="0" cy="0" rx="8.8" ry="13.5"/>
</g>
<g transform="translate(1772,2570) rotate(74.8)" fill="#fff" stroke="#000" stroke-width="3" stroke-linejoin="round">
<path d="M0,-14 L33.2,-14 A6.3,14 0 0 1 33.2,14 L0,14 Z"/>
<ellipse cx="0" cy="0" rx="6.3" ry="14"/>
</g>
<g transform="translate(1073,2976) rotate(76.8)" fill="#fff" stroke="#000" stroke-width="3" stroke-linejoin="round">
<path d="M0,-14 L34.9,-14 A6.3,14 0 0 1 34.9,14 L0,14 Z"/>
<ellipse cx="0" cy="0" rx="6.3" ry="14"/>
</g>
<g transform="translate(2428.4,1562.8) rotate(-26.6)" fill="#fff" stroke="#000" stroke-width="3" stroke-linejoin="round">
<path d="M0,-12 L18.6,-12 A7.8,12 0 0 1 18.6,12 L0,12 Z"/>
<path d="M7,-12 A7.8,12 0 0 1 7,12" fill="none"/>
<path d="M11.6,-12 A7.8,12 0 0 1 11.6,12" fill="none"/>
<path d="M16.2,-12 A7.8,12 0 0 1 16.2,12" fill="none"/>
<ellipse cx="0" cy="0" rx="7.8" ry="12" fill="#000"/>
<ellipse cx="0" cy="0" rx="3" ry="5"/>
</g>
<g transform="translate(783,1906) rotate(78.7)" fill="#fff" stroke="#000" stroke-width="2.5" stroke-linejoin="round">
<path d="M0,-8 L20.4,-8 A4,8 0 0 1 20.4,8 L0,8 Z"/>
<path d="M7,-8 A4,8 0 0 1 7,8" fill="none"/>
<path d="M10.8,-8 A4,8 0 0 1 10.8,8" fill="none"/>
<path d="M14.7,-8 A4,8 0 0 1 14.7,8" fill="none"/>
<path d="M18.5,-8 A4,8 0 0 1 18.5,8" fill="none"/>
<ellipse cx="0" cy="0" rx="4" ry="8"/>
</g>
<g transform="translate(1597,2748) rotate(78.4)" fill="#fff" stroke="#000" stroke-width="3" stroke-linejoin="round">
<path d="M0,-12 L34.7,-12 A5.4,12 0 0 1 34.7,12 L0,12 Z"/>
<path d="M11.9,-12 A5.4,12 0 0 1 11.9,12" fill="none"/>
<path d="M18.4,-12 A5.4,12 0 0 1 18.4,12" fill="none"/>
<path d="M25,-12 A5.4,12 0 0 1 25,12" fill="none"/>
<path d="M31.5,-12 A5.4,12 0 0 1 31.5,12" fill="none"/>
<ellipse cx="0" cy="0" rx="5.4" ry="12" fill="#000"/>
</g>
<g transform="translate(2321.2,1759.7) rotate(-28.2)" fill="#fff" stroke="#000" stroke-width="3" stroke-linejoin="round">
<path d="M0,-8.2 L40.6,-8.2 A5.3,8.2 0 0 1 40.6,8.2 L0,8.2 Z"/>
<path d="M13.2,-8.2 A5.3,8.2 0 0 1 13.2,8.2" fill="none"/>
<path d="M19.3,-8.2 A5.3,8.2 0 0 1 19.3,8.2" fill="none"/>
<path d="M25.4,-8.2 A5.3,8.2 0 0 1 25.4,8.2" fill="none"/>
<path d="M31.5,-8.2 A5.3,8.2 0 0 1 31.5,8.2" fill="none"/>
<path d="M37.6,-8.2 A5.3,8.2 0 0 1 37.6,8.2" fill="none"/>
<ellipse cx="1.8" cy="0" rx="9" ry="15.6"/>
<ellipse cx="0" cy="0" rx="3.5" ry="5.5" fill="#000"/>
</g>
<g transform="translate(2330.4,1802.8) rotate(-27.3)" fill="#fff" stroke="#000" stroke-width="3" stroke-linejoin="round">
<path d="M0,-8.2 L40.1,-8.2 A5.3,8.2 0 0 1 40.1,8.2 L0,8.2 Z"/>
<path d="M13,-8.2 A5.3,8.2 0 0 1 13,8.2" fill="none"/>
<path d="M19,-8.2 A5.3,8.2 0 0 1 19,8.2" fill="none"/>
<path d="M25,-8.2 A5.3,8.2 0 0 1 25,8.2" fill="none"/>
<path d="M31.1,-8.2 A5.3,8.2 0 0 1 31.1,8.2" fill="none"/>
<path d="M37.1,-8.2 A5.3,8.2 0 0 1 37.1,8.2" fill="none"/>
<ellipse cx="1.8" cy="0" rx="9" ry="15.6"/>
<ellipse cx="0" cy="0" rx="3.5" ry="5.5" fill="#000"/>
</g>
<g transform="translate(2787.4,980.6) rotate(-30)" fill="#fff" stroke="#000" stroke-width="3" stroke-linejoin="round">
<ellipse cx="39.4" cy="0" rx="8" ry="15"/>
<ellipse cx="37" cy="0" rx="6.4" ry="12"/>
<path d="M0,-8.2 L37,-8.2 A5.3,8.2 0 0 1 37,8.2 L0,8.2 Z"/>
<path d="M7.9,-8.2 A5.3,8.2 0 0 1 7.9,8.2" fill="none"/>
<path d="M16.2,-8.2 A5.3,8.2 0 0 1 16.2,8.2" fill="none"/>
<path d="M24.5,-8.2 A5.3,8.2 0 0 1 24.5,8.2" fill="none"/>
<path d="M32.8,-8.2 A5.3,8.2 0 0 1 32.8,8.2" fill="none"/>
<ellipse cx="0" cy="0" rx="5.3" ry="8.2"/>
</g>
<g transform="translate(3066.6,1184.6) rotate(-30)" fill="#fff" stroke="#000" stroke-width="3" stroke-linejoin="round">
<ellipse cx="39.4" cy="0" rx="8" ry="15"/>
<ellipse cx="37" cy="0" rx="6.4" ry="12"/>
<path d="M0,-8.2 L37,-8.2 A5.3,8.2 0 0 1 37,8.2 L0,8.2 Z"/>
<path d="M7.9,-8.2 A5.3,8.2 0 0 1 7.9,8.2" fill="none"/>
<path d="M16.2,-8.2 A5.3,8.2 0 0 1 16.2,8.2" fill="none"/>
<path d="M24.5,-8.2 A5.3,8.2 0 0 1 24.5,8.2" fill="none"/>
<path d="M32.8,-8.2 A5.3,8.2 0 0 1 32.8,8.2" fill="none"/>
<ellipse cx="0" cy="0" rx="5.3" ry="8.2"/>
</g>
<g transform="translate(3035.2,1736.4) rotate(-30)" fill="#fff" stroke="#000" stroke-width="3" stroke-linejoin="round">
<ellipse cx="39.4" cy="0" rx="8" ry="15"/>
<ellipse cx="37" cy="0" rx="6.4" ry="12"/>
<path d="M0,-8.2 L37,-8.2 A5.3,8.2 0 0 1 37,8.2 L0,8.2 Z"/>
<path d="M7.9,-8.2 A5.3,8.2 0 0 1 7.9,8.2" fill="none"/>
<path d="M16.2,-8.2 A5.3,8.2 0 0 1 16.2,8.2" fill="none"/>
<path d="M24.5,-8.2 A5.3,8.2 0 0 1 24.5,8.2" fill="none"/>
<path d="M32.8,-8.2 A5.3,8.2 0 0 1 32.8,8.2" fill="none"/>
<ellipse cx="0" cy="0" rx="5.3" ry="8.2"/>
</g>
<g transform="translate(2856.5,2604) rotate(-30)" fill="#fff" stroke="#000" stroke-width="3" stroke-linejoin="round">
<ellipse cx="39.4" cy="0" rx="8" ry="15"/>
<ellipse cx="37" cy="0" rx="6.4" ry="12"/>
<path d="M0,-8.2 L37,-8.2 A5.3,8.2 0 0 1 37,8.2 L0,8.2 Z"/>
<path d="M7.9,-8.2 A5.3,8.2 0 0 1 7.9,8.2" fill="none"/>
<path d="M16.2,-8.2 A5.3,8.2 0 0 1 16.2,8.2" fill="none"/>
<path d="M24.5,-8.2 A5.3,8.2 0 0 1 24.5,8.2" fill="none"/>
<path d="M32.8,-8.2 A5.3,8.2 0 0 1 32.8,8.2" fill="none"/>
<ellipse cx="0" cy="0" rx="5.3" ry="8.2"/>
</g>
<g transform="translate(2818.6,2785.3) rotate(-30)" fill="#fff" stroke="#000" stroke-width="3" stroke-linejoin="round">
<ellipse cx="39.4" cy="0" rx="8" ry="15"/>
<ellipse cx="37" cy="0" rx="6.4" ry="12"/>
<path d="M0,-8.2 L37,-8.2 A5.3,8.2 0 0 1 37,8.2 L0,8.2 Z"/>
<path d="M7.9,-8.2 A5.3,8.2 0 0 1 7.9,8.2" fill="none"/>
<path d="M16.2,-8.2 A5.3,8.2 0 0 1 16.2,8.2" fill="none"/>
<path d="M24.5,-8.2 A5.3,8.2 0 0 1 24.5,8.2" fill="none"/>
<path d="M32.8,-8.2 A5.3,8.2 0 0 1 32.8,8.2" fill="none"/>
<ellipse cx="0" cy="0" rx="5.3" ry="8.2"/>
</g>
<g transform="translate(2911.4,1414.5) rotate(-26)" fill="#fff" stroke="#000" stroke-width="3" stroke-linejoin="round">
<ellipse cx="71.3" cy="0" rx="13" ry="21"/>
<ellipse cx="67.4" cy="0" rx="10.4" ry="16.8"/>
<path d="M0,-12 L67.4,-12 A7.8,12 0 0 1 67.4,12 L0,12 Z"/>
<path d="M7.9,-12 A7.8,12 0 0 1 7.9,12" fill="none"/>
<path d="M17.1,-12 A7.8,12 0 0 1 17.1,12" fill="none"/>
<path d="M26.2,-12 A7.8,12 0 0 1 26.2,12" fill="none"/>
<path d="M35.4,-12 A7.8,12 0 0 1 35.4,12" fill="none"/>
<path d="M44.5,-12 A7.8,12 0 0 1 44.5,12" fill="none"/>
<path d="M53.7,-12 A7.8,12 0 0 1 53.7,12" fill="none"/>
<path d="M62.8,-12 A7.8,12 0 0 1 62.8,12" fill="none"/>
<ellipse cx="0" cy="0" rx="7.8" ry="12"/>
</g>
<g transform="translate(190,1204.4) rotate(-178.3)" fill="#fff" stroke="#000" stroke-width="3" stroke-linejoin="round">
<ellipse cx="32.4" cy="0" rx="8" ry="15.5"/>
<ellipse cx="30" cy="0" rx="6.4" ry="12.4"/>
<path d="M0,-9 L30,-9 A5,9 0 0 1 30,9 L0,9 Z"/>
<path d="M13.1,-9 A5,9 0 0 1 13.1,9" fill="none"/>
<path d="M24.4,-9 A5,9 0 0 1 24.4,9" fill="none"/>
<ellipse cx="0" cy="0" rx="5" ry="9"/>
<ellipse cx="0" cy="0" rx="2.5" ry="4.5"/>
</g>
<ellipse cx="233.6" cy="1208" rx="14.2" ry="17.7" transform="rotate(-8 233.6 1208)" fill="#fff" stroke="#000" stroke-width="3"/>
<ellipse cx="234.5" cy="1208" rx="6.6" ry="9.5" transform="rotate(-8 234.5 1208)" fill="none" stroke="#000" stroke-width="3"/>
<ellipse cx="231" cy="1208" rx="14.2" ry="17.7" transform="rotate(-8 231 1208)" fill="none" stroke="#000" stroke-width="3"/>
<g transform="translate(2248.3,2222) rotate(41.7)" fill="#fff" stroke="#000" stroke-width="3" stroke-linejoin="round">
<path d="M0,-8.7 L69.2,-8.7 A5.7,8.7 0 0 1 69.2,8.7 L0,8.7 Z"/>
<path d="M7.6,-8.7 A5.7,8.7 0 0 1 7.6,8.7" fill="none"/>
<path d="M15.8,-8.7 A5.7,8.7 0 0 1 15.8,8.7" fill="none"/>
<path d="M24,-8.7 A5.7,8.7 0 0 1 24,8.7" fill="none"/>
<path d="M32.2,-8.7 A5.7,8.7 0 0 1 32.2,8.7" fill="none"/>
<path d="M40.4,-8.7 A5.7,8.7 0 0 1 40.4,8.7" fill="none"/>
<path d="M48.7,-8.7 A5.7,8.7 0 0 1 48.7,8.7" fill="none"/>
<path d="M56.9,-8.7 A5.7,8.7 0 0 1 56.9,8.7" fill="none"/>
<path d="M65.1,-8.7 A5.7,8.7 0 0 1 65.1,8.7" fill="none"/>
<ellipse cx="0" cy="0" rx="5.7" ry="8.7"/>
</g>
<ellipse cx="2313.5" cy="2279.2" rx="17" ry="16" transform="rotate(0 2313.5 2279.2)" fill="#fff" stroke="#000" stroke-width="3"/>
<polygon points="2303,2266 2318,2262 2327,2272 2325,2288 2311,2294 2301,2283" fill="#fff" stroke="#000" stroke-width="3" stroke-linejoin="round"/>
<ellipse cx="2311" cy="2281" rx="8" ry="8" transform="rotate(0 2311 2281)" fill="none" stroke="#000" stroke-width="3"/>
<g transform="translate(2480.8,1996.2) rotate(-19.8)" fill="#fff" stroke="#000" stroke-width="3" stroke-linejoin="round">
<path d="M0,-10.5 L15.9,-10.5 A7.3,10.5 0 0 1 15.9,10.5 L0,10.5 Z"/>
<ellipse cx="0" cy="0" rx="7.3" ry="10.5"/>
<ellipse cx="0" cy="0" rx="4" ry="6"/>
</g>
<g transform="translate(1037,643.9) rotate(169.6)" fill="#fff" stroke="#000" stroke-width="3.5" stroke-linejoin="round">
<path d="M0,-25.4 L19.3,-25.4 A19,25.4 0 0 1 19.3,25.4 L0,25.4 Z"/>
<path d="M4.8,-25.4 A19,25.4 0 0 1 4.8,25.4" fill="none"/>
<path d="M14.5,-25.4 A19,25.4 0 0 1 14.5,25.4" fill="none"/>
<ellipse cx="0" cy="0" rx="19" ry="25.4"/>
</g>
<polygon points="1026.5,637.2 1036.4,630.6 1046.3,637.2 1046.3,649.3 1036.4,654.8 1026.5,648.2" fill="none" stroke="#000" stroke-width="2.5" stroke-linejoin="round"/>
<polyline points="1026.5,637.2 1036.4,642.7 1046.3,637.2" fill="none" stroke="#000" stroke-width="2.5" stroke-linejoin="round"/>
<polyline points="1036.4,642.7 1036.4,654.8" fill="none" stroke="#000" stroke-width="2.5" stroke-linejoin="round"/>
<g transform="translate(408.7,1469.3) rotate(-15)" fill="#fff" stroke="#000" stroke-width="3.5" stroke-linejoin="round">
<path d="M0,-16.5 L12.7,-16.5 A9.9,16.5 0 0 1 12.7,16.5 L0,16.5 Z"/>
<path d="M3.2,-16.5 A9.9,16.5 0 0 1 3.2,16.5" fill="none"/>
<path d="M9.6,-16.5 A9.9,16.5 0 0 1 9.6,16.5" fill="none"/>
<ellipse cx="0" cy="0" rx="9.9" ry="16.5"/>
</g>
<polygon points="402.6,1467 408,1463.4 413.4,1467 413.4,1473.6 408,1476.6 402.6,1473" fill="none" stroke="#000" stroke-width="2.5" stroke-linejoin="round"/>
<polyline points="402.6,1467 408,1470 413.4,1467" fill="none" stroke="#000" stroke-width="2.5" stroke-linejoin="round"/>
<polyline points="408,1470 408,1476.6" fill="none" stroke="#000" stroke-width="2.5" stroke-linejoin="round"/>
<g transform="translate(2312.3,2766) rotate(-19.4)" fill="#fff" stroke="#000" stroke-width="3" stroke-linejoin="round">
<path d="M0,-27 L24.1,-27 A18.9,27 0 0 1 24.1,27 L0,27 Z"/>
<path d="M6,-27 A18.9,27 0 0 1 6,27" fill="none"/>
<path d="M13.2,-27 A18.9,27 0 0 1 13.2,27" fill="none"/>
<path d="M20.5,-27 A18.9,27 0 0 1 20.5,27" fill="none"/>
<ellipse cx="0" cy="0" rx="18.9" ry="27"/>
</g>
<polyline points="2296,2778 2314,2766" fill="none" stroke="#000" stroke-width="3"/>
<g transform="translate(1269.6,3533.8) rotate(-21.6)" fill="#fff" stroke="#000" stroke-width="3.5" stroke-linejoin="round">
<path d="M0,-25 L25.5,-25 A17,25 0 0 1 25.5,25 L0,25 Z"/>
<path d="M6.4,-25 A17,25 0 0 1 6.4,25" fill="none"/>
<path d="M14,-25 A17,25 0 0 1 14,25" fill="none"/>
<path d="M21.7,-25 A17,25 0 0 1 21.7,25" fill="none"/>
<ellipse cx="0" cy="0" rx="17" ry="25"/>
</g>
<polygon points="1259.9,3530.5 1268,3525.1 1276.1,3530.5 1276.1,3540.4 1268,3544.9 1259.9,3539.5" fill="none" stroke="#000" stroke-width="2.5" stroke-linejoin="round"/>
<polyline points="1259.9,3530.5 1268,3535 1276.1,3530.5" fill="none" stroke="#000" stroke-width="2.5" stroke-linejoin="round"/>
<polyline points="1268,3535 1268,3544.9" fill="none" stroke="#000" stroke-width="2.5" stroke-linejoin="round"/>
</g>
<g class="t">
<text x="2896" y="148" font-size="50" textLength="142" lengthAdjust="spacingAndGlyphs">E1411</text>
<text x="1670.7" y="361" font-size="57" textLength="159.6" lengthAdjust="spacingAndGlyphs">14001</text>
<text x="959.7" y="490" font-size="57" textLength="166.6" lengthAdjust="spacingAndGlyphs">92066</text>
<text x="154.7" y="1061" font-size="57" textLength="167.6" lengthAdjust="spacingAndGlyphs">92022</text>
<text x="50.7" y="1384" font-size="57" textLength="199.6" lengthAdjust="spacingAndGlyphs">92154A</text>
<text x="305.7" y="1654" font-size="57" textLength="200.6" lengthAdjust="spacingAndGlyphs">92066A</text>
<text x="493.7" y="1937" font-size="57" textLength="167.6" lengthAdjust="spacingAndGlyphs">92062</text>
<text x="1126.7" y="2061" font-size="57" textLength="130.6" lengthAdjust="spacingAndGlyphs">670A</text>
<text x="1300.7" y="1945" font-size="57" textLength="32.6" lengthAdjust="spacingAndGlyphs">A</text>
<text x="2729.7" y="818" font-size="57" textLength="164.6" lengthAdjust="spacingAndGlyphs">92172</text>
<text x="2575.7" y="889" font-size="57" textLength="196.6" lengthAdjust="spacingAndGlyphs">14014B</text>
<text x="2255.7" y="968" font-size="57" textLength="164.6" lengthAdjust="spacingAndGlyphs">13280</text>
<text x="2793.7" y="1055" font-size="57" textLength="197.6" lengthAdjust="spacingAndGlyphs">14014C</text>
<text x="3011.7" y="1021" font-size="57" textLength="166.6" lengthAdjust="spacingAndGlyphs">92172</text>
<text x="2084.7" y="1489" font-size="57" textLength="198.6" lengthAdjust="spacingAndGlyphs">92043A</text>
<text x="2100.7" y="1575" font-size="57" textLength="197.6" lengthAdjust="spacingAndGlyphs">92062B</text>
<text x="2113.7" y="1655" font-size="57" textLength="196.6" lengthAdjust="spacingAndGlyphs">92043A</text>
<text x="2100.7" y="1717" font-size="57" textLength="162.6" lengthAdjust="spacingAndGlyphs">14014</text>
<text x="2023.7" y="1778" font-size="57" textLength="164.6" lengthAdjust="spacingAndGlyphs">92172</text>
<text x="2042.7" y="1838" font-size="57" textLength="164.6" lengthAdjust="spacingAndGlyphs">92172</text>
<text x="2395.7" y="1916" font-size="57" textLength="158.6" lengthAdjust="spacingAndGlyphs">14014</text>
<text x="2103.7" y="1918" font-size="57" textLength="101.6" lengthAdjust="spacingAndGlyphs">670</text>
<text x="2911.7" y="1563" font-size="57" textLength="162.6" lengthAdjust="spacingAndGlyphs">92154</text>
<text x="2856.7" y="1977" font-size="57" textLength="197.6" lengthAdjust="spacingAndGlyphs">14014A</text>
<text x="2987.7" y="1902" font-size="57" textLength="165.6" lengthAdjust="spacingAndGlyphs">92172</text>
<text x="2587.7" y="2113" font-size="57" textLength="197.6" lengthAdjust="spacingAndGlyphs">92043A</text>
<text x="2393.7" y="2174" font-size="57" textLength="199.6" lengthAdjust="spacingAndGlyphs">92066B</text>
<text x="2067.7" y="2347" font-size="57" textLength="166.6" lengthAdjust="spacingAndGlyphs">39193</text>
<text x="2450.7" y="2301" font-size="57" textLength="201.6" lengthAdjust="spacingAndGlyphs">92154B</text>
<text x="2800.7" y="2443" font-size="57" textLength="167.6" lengthAdjust="spacingAndGlyphs">92172</text>
<text x="2666.7" y="2512" font-size="57" textLength="159.6" lengthAdjust="spacingAndGlyphs">14014</text>
<text x="2221.7" y="2612" font-size="57" textLength="169.6" lengthAdjust="spacingAndGlyphs">92066</text>
<text x="315.7" y="2229" font-size="57" textLength="32.6" lengthAdjust="spacingAndGlyphs">A</text>
<text x="532.7" y="2384" font-size="57" textLength="166.6" lengthAdjust="spacingAndGlyphs">92005</text>
<text x="582.7" y="2528" font-size="57" textLength="167.6" lengthAdjust="spacingAndGlyphs">92170</text>
<text x="294.7" y="2855" font-size="57" textLength="167.6" lengthAdjust="spacingAndGlyphs">92192</text>
<text x="508.7" y="3144" font-size="57" textLength="167.6" lengthAdjust="spacingAndGlyphs">27010</text>
<text x="769.7" y="3020" font-size="57" textLength="169.6" lengthAdjust="spacingAndGlyphs">92043</text>
<text x="35.7" y="3330" font-size="57" textLength="163.6" lengthAdjust="spacingAndGlyphs">92170</text>
<text x="67.7" y="3482" font-size="57" textLength="197.6" lengthAdjust="spacingAndGlyphs">39193A</text>
<text x="977.7" y="3530" font-size="57" textLength="166.6" lengthAdjust="spacingAndGlyphs">92066</text>
<text x="551.7" y="3600" font-size="57" textLength="164.6" lengthAdjust="spacingAndGlyphs">92028</text>
<text x="478.7" y="3672" font-size="57" textLength="92.6" lengthAdjust="spacingAndGlyphs">481</text>
<text x="702.7" y="3826" font-size="57" textLength="198.6" lengthAdjust="spacingAndGlyphs">92049B</text>
<text x="909.7" y="3974" font-size="57" textLength="165.6" lengthAdjust="spacingAndGlyphs">92049</text>
<text x="1411.7" y="3843" font-size="57" textLength="165.6" lengthAdjust="spacingAndGlyphs">92046</text>
<text x="1329.7" y="3898" font-size="57" textLength="198.6" lengthAdjust="spacingAndGlyphs">92049A</text>
<text x="2644.7" y="3031" font-size="57" textLength="159.6" lengthAdjust="spacingAndGlyphs">14014</text>
<text x="2778.7" y="2948" font-size="57" textLength="166.6" lengthAdjust="spacingAndGlyphs">92172</text>
<text x="1473.7" y="2611" font-size="57" textLength="167.6" lengthAdjust="spacingAndGlyphs">92043</text>
<text x="1267.7" y="2787" font-size="57" textLength="198.6" lengthAdjust="spacingAndGlyphs">92062A</text>
</g>
</svg>
</body></html>
